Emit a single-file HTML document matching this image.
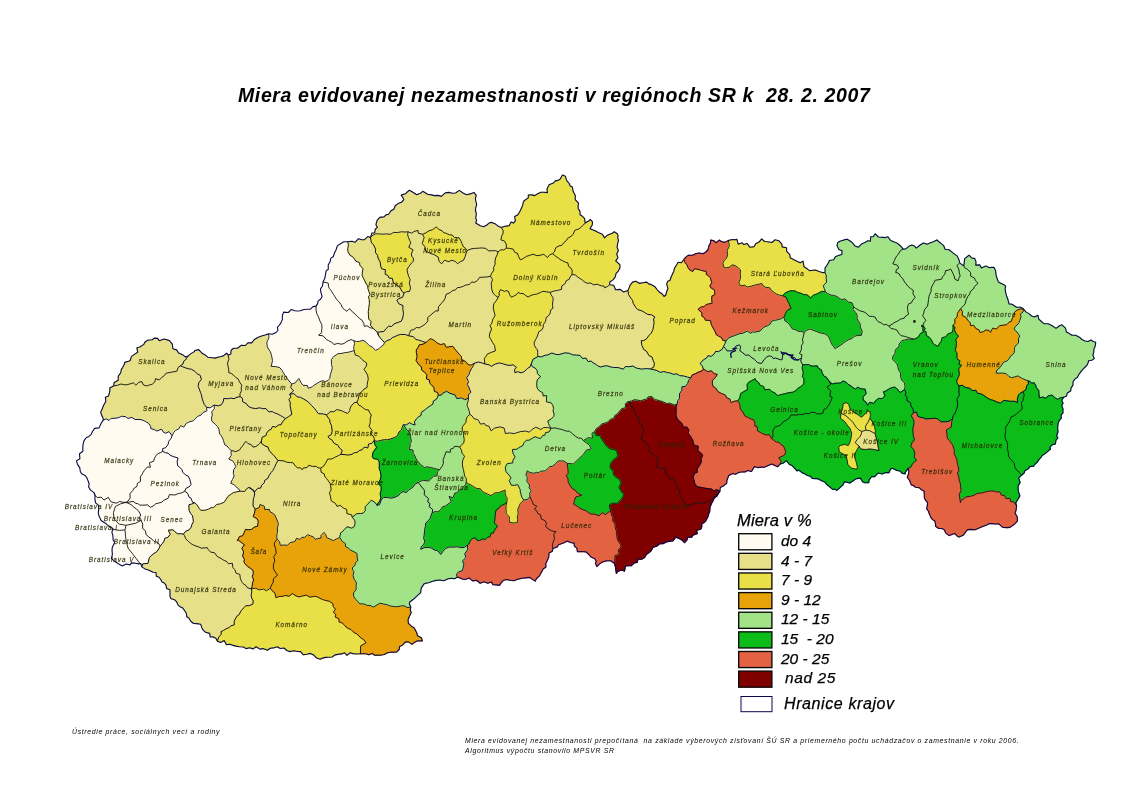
<!DOCTYPE html>
<html><head><meta charset="utf-8"><title>Miera evidovanej nezamestnanosti v regiónoch SR</title>
<style>
html,body{margin:0;padding:0;background:#fff}
body{width:1122px;height:794px;position:relative;overflow:hidden;font-family:"Liberation Sans",sans-serif}
.t{position:absolute;white-space:pre;font-style:italic;color:#000;line-height:1}
#title{left:238px;top:86px;font-size:19.5px;font-weight:bold;letter-spacing:0.62px}
.lg{font-size:15.5px;-webkit-text-stroke:0.25px #000}
.bx{position:absolute;left:738px;width:33px;height:15px;border:1px solid #333}
.f{font-size:6.9px;letter-spacing:0.66px;color:#000}
</style></head><body>
<svg width="1122" height="794" viewBox="0 0 1122 794" style="position:absolute;left:0;top:0">
<g stroke-linejoin="round" stroke-width="1.2" >
<path d="M113.6 385.9 L114.2 382.4 L118.2 380.3 L118.3 376.1 L120.6 373.0 L121.4 369.4 L122.6 367.5 L124.3 364.5 L124.7 362.4 L128.6 361.2 L130.2 360.5 L131.5 356.4 L134.4 354.4 L137.7 352.3 L136.9 347.8 L139.8 347.0 L143.8 344.4 L144.8 342.3 L147.6 340.2 L152.1 339.7 L154.4 338.1 L157.6 338.4 L159.3 340.7 L164.1 339.0 L168.1 340.1 L169.9 341.1 L172.3 344.1 L172.9 348.8 L176.6 349.9 L178.6 353.0 L182.8 354.8 L185.3 356.9 L187.7 356.4 L187.7 356.4 L185.5 360.0 L183.7 361.2 L183.0 364.0 L180.4 365.8 L180.4 365.8 L178.1 367.5 L176.9 371.2 L173.0 371.9 L170.3 372.4 L166.1 373.2 L164.6 375.4 L162.1 377.2 L159.4 379.9 L155.5 378.7 L155.0 381.6 L152.3 384.2 L149.5 385.0 L146.5 385.9 L143.3 384.9 L141.9 381.6 L138.8 382.3 L135.9 385.2 L133.4 382.8 L130.3 383.8 L127.1 384.7 L124.3 384.8 L121.2 384.0 L117.3 385.3 L113.6 385.9Z" fill="#e6e088" stroke="#e6e088"/>
<path d="M103.3 420.2 L103.0 417.9 L101.3 414.3 L100.7 412.3 L102.6 408.1 L103.4 405.7 L104.6 403.6 L105.8 401.5 L105.4 397.2 L108.5 396.1 L109.4 392.9 L110.0 389.9 L109.7 387.9 L113.6 385.9 L113.6 385.9 L117.3 385.3 L121.2 384.0 L124.3 384.8 L127.1 384.7 L130.3 383.8 L133.4 382.8 L135.9 385.2 L138.8 382.3 L141.9 381.6 L143.3 384.9 L146.5 385.9 L149.5 385.0 L152.3 384.2 L155.0 381.6 L155.5 378.7 L159.4 379.9 L162.1 377.2 L164.6 375.4 L166.1 373.2 L170.3 372.4 L173.0 371.9 L176.9 371.2 L178.1 367.5 L180.4 365.8 L180.4 365.8 L182.4 366.7 L185.3 367.8 L188.7 368.8 L191.6 369.3 L194.7 371.2 L197.2 373.8 L200.2 375.3 L201.4 379.6 L198.9 382.4 L198.1 386.6 L199.3 388.9 L200.4 392.3 L201.4 394.6 L202.2 398.8 L203.3 401.9 L204.3 404.5 L206.6 407.3 L206.6 407.3 L206.9 410.9 L203.1 412.4 L201.0 415.1 L197.5 416.4 L195.3 418.9 L193.2 420.8 L188.8 422.1 L186.1 423.4 L183.8 427.1 L180.5 425.7 L178.8 428.9 L175.4 430.5 L173.7 432.5 L172.1 435.8 L172.1 435.8 L169.1 431.6 L165.5 433.2 L163.4 432.2 L161.6 429.2 L156.8 431.0 L154.5 429.7 L150.8 428.5 L150.7 426.4 L148.5 423.2 L145.5 421.5 L142.5 420.0 L139.0 419.4 L135.1 419.5 L131.8 417.4 L127.9 418.4 L125.6 416.7 L121.7 416.2 L118.7 417.6 L114.9 418.3 L111.2 418.3 L109.0 420.5 L106.2 418.8 L103.3 420.2Z" fill="#e6e088" stroke="#e6e088"/>
<path d="M187.7 356.4 L190.5 353.9 L194.4 351.6 L194.8 350.5 L198.7 349.6 L200.3 351.4 L202.5 353.6 L205.1 354.9 L207.7 357.2 L212.3 357.7 L215.0 358.1 L218.8 357.0 L221.1 356.5 L223.4 355.9 L226.7 353.2 L228.2 355.2 L228.2 355.2 L228.9 359.3 L227.6 362.8 L227.8 365.6 L228.7 369.1 L228.8 372.7 L231.6 373.5 L234.2 375.9 L235.9 377.5 L238.3 379.1 L239.4 381.8 L241.9 385.4 L241.2 387.3 L241.4 390.8 L239.9 394.0 L240.1 396.7 L240.1 396.7 L237.0 397.2 L234.0 398.7 L230.5 398.1 L228.5 398.7 L223.7 398.5 L223.5 401.0 L221.5 404.7 L218.1 405.9 L214.1 405.0 L214.1 405.0 L210.1 407.9 L206.6 407.3 L206.6 407.3 L204.3 404.5 L203.3 401.9 L202.2 398.8 L201.4 394.6 L200.4 392.3 L199.3 388.9 L198.1 386.6 L198.9 382.4 L201.4 379.6 L200.2 375.3 L197.2 373.8 L194.7 371.2 L191.6 369.3 L188.7 368.8 L185.3 367.8 L182.4 366.7 L180.4 365.8 L180.4 365.8 L183.0 364.0 L183.7 361.2 L185.5 360.0 L187.7 356.4Z" fill="#e6e088" stroke="#e6e088"/>
<path d="M228.2 355.2 L230.8 354.0 L231.1 350.2 L233.5 348.3 L237.5 348.2 L241.1 345.4 L245.4 345.5 L247.9 342.8 L251.7 342.9 L254.3 339.5 L256.1 338.5 L257.7 337.6 L261.6 336.0 L265.1 335.0 L268.5 333.8 L268.5 333.8 L269.0 337.5 L267.7 340.4 L266.8 342.3 L267.3 346.8 L269.2 350.1 L270.4 351.7 L271.5 355.4 L272.5 360.6 L271.9 363.3 L271.1 366.4 L275.1 366.5 L279.8 367.6 L282.0 370.4 L283.1 372.3 L284.7 375.0 L287.3 378.6 L289.1 381.0 L291.7 384.1 L291.7 384.1 L290.7 387.6 L293.6 390.8 L289.7 394.2 L289.7 394.2 L290.9 397.2 L288.9 399.5 L290.3 402.7 L290.1 405.5 L290.6 408.1 L291.3 412.0 L292.0 414.2 L288.5 416.7 L285.4 418.6 L285.4 418.6 L282.5 416.6 L280.3 415.5 L278.1 414.2 L274.5 412.8 L272.2 411.6 L268.7 411.8 L265.9 408.5 L262.7 408.7 L259.7 407.8 L255.6 408.6 L251.1 407.8 L248.2 406.2 L246.3 403.5 L242.6 401.7 L242.5 398.3 L240.1 396.7 L240.1 396.7 L239.9 394.0 L241.4 390.8 L241.2 387.3 L241.9 385.4 L239.4 381.8 L238.3 379.1 L235.9 377.5 L234.2 375.9 L231.6 373.5 L228.8 372.7 L228.7 369.1 L227.8 365.6 L227.6 362.8 L228.9 359.3 L228.2 355.2Z" fill="#e6e088" stroke="#e6e088"/>
<path d="M214.1 405.0 L218.1 405.9 L221.5 404.7 L223.5 401.0 L223.7 398.5 L228.5 398.7 L230.5 398.1 L234.0 398.7 L237.0 397.2 L240.1 396.7 L240.1 396.7 L242.5 398.3 L242.6 401.7 L246.3 403.5 L248.2 406.2 L251.1 407.8 L255.6 408.6 L259.7 407.8 L262.7 408.7 L265.9 408.5 L268.7 411.8 L272.2 411.6 L274.5 412.8 L278.1 414.2 L280.3 415.5 L282.5 416.6 L285.4 418.6 L285.4 418.6 L282.3 422.2 L281.1 424.7 L278.5 424.9 L275.8 427.1 L272.5 426.5 L271.0 429.4 L269.1 430.1 L266.5 433.1 L266.2 435.4 L262.1 437.3 L261.5 440.8 L261.5 440.8 L259.6 443.5 L258.1 445.0 L255.9 446.5 L253.0 447.1 L251.4 444.7 L248.2 443.7 L245.9 441.3 L244.4 443.2 L243.1 445.2 L240.7 448.1 L239.7 449.9 L235.9 451.6 L234.2 451.2 L231.2 450.4 L231.2 450.4 L228.7 448.2 L227.3 446.2 L224.8 444.9 L223.4 440.4 L222.6 438.1 L220.9 435.3 L219.6 433.9 L219.0 429.4 L217.5 426.5 L215.2 424.2 L211.9 421.2 L211.4 418.2 L212.3 414.9 L211.8 411.8 L214.4 408.6 L214.1 405.0Z" fill="#e6e088" stroke="#e6e088"/>
<path d="M231.2 450.4 L234.2 451.2 L235.9 451.6 L239.7 449.9 L240.7 448.1 L243.1 445.2 L244.4 443.2 L245.9 441.3 L248.2 443.7 L251.4 444.7 L253.0 447.1 L255.9 446.5 L258.1 445.0 L259.6 443.5 L261.5 440.8 L261.5 440.8 L261.5 443.5 L264.9 445.9 L268.0 447.0 L269.0 450.2 L271.4 453.1 L274.2 455.9 L276.0 458.1 L277.9 460.4 L277.9 460.4 L276.3 463.4 L274.5 467.4 L272.8 470.6 L271.1 472.5 L269.2 475.3 L267.9 478.3 L264.5 480.6 L264.4 482.7 L261.7 485.1 L260.6 488.1 L257.7 488.3 L254.3 492.2 L251.6 488.5 L248.9 487.4 L248.9 487.4 L246.5 488.8 L244.7 491.5 L240.1 491.2 L240.1 491.2 L238.4 488.5 L236.5 487.4 L234.4 484.8 L230.7 483.3 L232.4 479.6 L234.2 476.0 L233.3 473.4 L233.7 469.6 L235.8 466.7 L234.4 463.4 L232.7 460.8 L228.7 459.0 L231.2 455.6 L231.1 453.0 L231.2 450.4Z" fill="#e6e088" stroke="#e6e088"/>
<path d="M172.1 435.8 L173.7 432.5 L175.4 430.5 L178.8 428.9 L180.5 425.7 L183.8 427.1 L186.1 423.4 L188.8 422.1 L193.2 420.8 L195.3 418.9 L197.5 416.4 L201.0 415.1 L203.1 412.4 L206.9 410.9 L206.6 407.3 L206.6 407.3 L210.1 407.9 L214.1 405.0 L214.1 405.0 L214.4 408.6 L211.8 411.8 L212.3 414.9 L211.4 418.2 L211.9 421.2 L215.2 424.2 L217.5 426.5 L219.0 429.4 L219.6 433.9 L220.9 435.3 L222.6 438.1 L223.4 440.4 L224.8 444.9 L227.3 446.2 L228.7 448.2 L231.2 450.4 L231.2 450.4 L231.1 453.0 L231.2 455.6 L228.7 459.0 L232.7 460.8 L234.4 463.4 L235.8 466.7 L233.7 469.6 L233.3 473.4 L234.2 476.0 L232.4 479.6 L230.7 483.3 L234.4 484.8 L236.5 487.4 L238.4 488.5 L240.1 491.2 L240.1 491.2 L236.8 491.8 L233.2 492.7 L230.9 494.3 L227.8 496.6 L225.7 499.9 L224.2 502.2 L220.4 503.8 L216.7 504.5 L213.6 507.5 L211.4 507.6 L208.4 509.2 L206.0 510.0 L204.2 510.3 L200.8 510.3 L199.0 508.1 L197.1 505.0 L194.7 502.7 L194.7 502.7 L192.6 502.3 L191.0 498.2 L189.0 497.1 L187.7 493.4 L184.7 491.2 L184.7 491.2 L185.9 488.4 L188.8 487.1 L191.1 484.6 L189.7 479.1 L188.3 476.2 L185.4 474.9 L182.7 472.2 L182.0 469.7 L179.7 467.2 L177.7 465.7 L177.1 461.4 L178.1 458.0 L173.1 456.5 L170.0 455.2 L168.0 453.1 L165.7 452.8 L162.7 451.4 L162.7 451.4 L162.6 448.6 L165.7 447.7 L168.2 444.2 L168.6 441.5 L171.0 438.4 L172.1 435.8Z" fill="#fffbf0" stroke="#fffbf0"/>
<path d="M103.3 420.2 L106.2 418.8 L109.0 420.5 L111.2 418.3 L114.9 418.3 L118.7 417.6 L121.7 416.2 L125.6 416.7 L127.9 418.4 L131.8 417.4 L135.1 419.5 L139.0 419.4 L142.5 420.0 L145.5 421.5 L148.5 423.2 L150.7 426.4 L150.8 428.5 L154.5 429.7 L156.8 431.0 L161.6 429.2 L163.4 432.2 L165.5 433.2 L169.1 431.6 L172.1 435.8 L172.1 435.8 L171.0 438.4 L168.6 441.5 L168.2 444.2 L165.7 447.7 L162.6 448.6 L162.7 451.4 L162.7 451.4 L160.3 452.7 L157.5 453.9 L155.6 456.2 L154.4 458.5 L153.7 461.2 L149.4 462.8 L150.4 467.3 L147.4 466.9 L144.5 470.2 L143.1 472.4 L141.9 474.6 L140.3 476.9 L140.6 481.4 L137.3 483.4 L137.0 486.4 L134.3 488.0 L132.6 490.7 L130.0 493.6 L130.1 498.1 L128.2 500.9 L126.0 502.4 L126.0 502.4 L122.9 502.3 L119.7 501.4 L117.4 502.8 L115.0 503.0 L110.8 501.6 L108.3 497.3 L104.0 500.1 L101.0 497.0 L97.7 497.7 L94.9 495.5 L94.0 492.6 L94.0 492.6 L90.5 490.1 L88.5 486.8 L89.2 484.3 L88.3 481.5 L86.9 477.9 L85.2 475.5 L81.6 473.8 L80.3 471.5 L79.8 467.9 L77.6 464.4 L76.4 460.9 L79.9 458.7 L79.5 453.7 L82.9 451.3 L82.8 448.1 L83.0 444.6 L84.0 440.7 L86.4 437.5 L88.6 436.7 L91.2 434.3 L92.5 431.5 L94.6 428.4 L99.1 427.9 L100.1 425.4 L101.6 422.5 L103.3 420.2Z" fill="#fffbf0" stroke="#fffbf0"/>
<path d="M162.7 451.4 L160.3 452.7 L157.5 453.9 L155.6 456.2 L154.4 458.5 L153.7 461.2 L149.4 462.8 L150.4 467.3 L147.4 466.9 L144.5 470.2 L143.1 472.4 L141.9 474.6 L140.3 476.9 L140.6 481.4 L137.3 483.4 L137.0 486.4 L134.3 488.0 L132.6 490.7 L130.0 493.6 L130.1 498.1 L128.2 500.9 L126.0 502.4 L126.0 502.4 L129.8 502.0 L133.0 501.3 L136.0 503.5 L138.2 503.7 L139.6 505.1 L142.7 505.2 L147.5 504.9 L150.4 507.3 L153.6 505.9 L155.7 503.7 L158.5 503.1 L161.8 502.2 L163.6 500.4 L168.2 498.2 L169.4 494.6 L174.7 495.0 L178.3 493.6 L181.6 492.9 L184.7 491.2 L184.7 491.2 L185.9 488.4 L188.8 487.1 L191.1 484.6 L189.7 479.1 L188.3 476.2 L185.4 474.9 L182.7 472.2 L182.0 469.7 L179.7 467.2 L177.7 465.7 L177.1 461.4 L178.1 458.0 L173.1 456.5 L170.0 455.2 L168.0 453.1 L165.7 452.8 L162.7 451.4Z" fill="#fffbf0" stroke="#fffbf0"/>
<path d="M126.0 502.4 L129.8 502.0 L133.0 501.3 L136.0 503.5 L138.2 503.7 L139.6 505.1 L142.7 505.2 L147.5 504.9 L150.4 507.3 L153.6 505.9 L155.7 503.7 L158.5 503.1 L161.8 502.2 L163.6 500.4 L168.2 498.2 L169.4 494.6 L174.7 495.0 L178.3 493.6 L181.6 492.9 L184.7 491.2 L184.7 491.2 L187.7 493.4 L189.0 497.1 L191.0 498.2 L192.6 502.3 L194.7 502.7 L194.7 502.7 L191.8 504.0 L189.0 504.7 L188.9 507.2 L189.2 510.5 L190.6 513.5 L192.3 515.3 L193.0 518.4 L193.4 521.7 L192.0 524.2 L191.2 527.2 L189.0 529.9 L185.6 531.3 L183.4 534.1 L183.4 534.1 L180.2 533.7 L177.5 533.8 L174.7 531.5 L172.9 529.8 L168.3 530.2 L170.3 534.3 L167.9 537.3 L164.8 538.3 L164.0 541.1 L162.3 543.6 L160.2 546.0 L160.2 546.0 L158.1 542.7 L154.0 541.3 L151.9 539.1 L149.0 537.2 L146.1 534.6 L145.4 530.7 L142.6 528.5 L142.7 524.0 L140.8 519.5 L139.5 517.2 L140.8 515.1 L138.6 511.1 L136.6 509.0 L134.1 507.4 L131.4 504.8 L129.3 503.7 L126.0 502.4Z" fill="#fffbf0" stroke="#fffbf0"/>
<path d="M94.0 492.6 L94.9 495.5 L97.7 497.7 L101.0 497.0 L104.0 500.1 L108.3 497.3 L110.8 501.6 L115.0 503.0 L117.4 502.8 L119.7 501.4 L122.9 502.3 L126.0 502.4 L126.0 502.4 L129.3 503.7 L131.4 504.8 L134.1 507.4 L136.6 509.0 L138.6 511.1 L140.8 515.1 L139.5 517.2 L140.8 519.5 L142.7 524.0 L142.6 528.5 L145.4 530.7 L146.1 534.6 L149.0 537.2 L151.9 539.1 L154.0 541.3 L158.1 542.7 L160.2 546.0 L160.2 546.0 L158.8 548.9 L156.3 552.2 L154.2 553.3 L151.2 555.7 L149.3 557.7 L148.5 561.0 L148.0 563.4 L142.8 563.8 L141.8 566.9 L141.8 566.9 L140.8 563.5 L138.5 563.9 L135.8 563.2 L131.4 562.9 L130.0 564.9 L126.1 564.0 L122.3 566.0 L119.6 564.6 L116.1 562.2 L113.2 560.1 L111.4 558.5 L112.4 554.3 L112.0 550.1 L112.4 546.9 L114.7 542.4 L113.1 540.0 L112.9 535.6 L111.9 532.4 L112.9 528.5 L109.9 526.7 L107.3 524.9 L105.4 523.2 L102.2 521.2 L101.0 520.3 L99.2 516.5 L98.3 513.3 L98.8 508.3 L98.2 504.9 L95.6 502.9 L94.9 498.9 L95.1 495.2 L94.0 492.6Z" fill="#fffbf0" stroke="#fffbf0"/>
<path d="M141.8 566.9 L142.8 563.8 L148.0 563.4 L148.5 561.0 L149.3 557.7 L151.2 555.7 L154.2 553.3 L156.3 552.2 L158.8 548.9 L160.2 546.0 L160.2 546.0 L162.3 543.6 L164.0 541.1 L164.8 538.3 L167.9 537.3 L170.3 534.3 L168.3 530.2 L172.9 529.8 L174.7 531.5 L177.5 533.8 L180.2 533.7 L183.4 534.1 L183.4 534.1 L184.5 535.6 L185.7 538.7 L188.4 541.4 L190.6 543.4 L192.8 544.7 L196.1 546.1 L198.5 546.8 L201.2 548.2 L204.0 547.9 L207.3 547.7 L208.2 549.5 L210.7 552.2 L214.4 552.6 L217.1 556.4 L219.0 557.4 L222.2 559.2 L224.1 560.5 L226.0 561.0 L228.5 563.7 L232.4 563.3 L232.9 567.7 L234.8 569.6 L236.0 573.1 L239.8 574.4 L240.3 578.3 L241.6 581.6 L243.1 583.7 L246.0 585.5 L247.4 587.8 L251.4 588.8 L251.4 588.8 L251.8 591.5 L251.1 595.5 L251.9 598.6 L253.3 601.0 L252.8 604.1 L249.2 605.7 L245.8 605.7 L243.8 607.8 L241.1 610.8 L238.9 614.9 L237.2 615.8 L235.8 618.0 L234.2 621.3 L234.3 624.9 L230.9 625.8 L229.3 627.5 L226.1 628.8 L223.7 630.3 L220.9 631.7 L221.4 634.3 L218.8 636.8 L217.4 641.2 L217.4 641.2 L216.1 638.6 L212.8 636.8 L210.2 637.0 L209.7 633.4 L205.6 632.3 L203.0 629.9 L201.9 627.9 L200.7 624.2 L196.9 623.6 L193.7 623.5 L191.0 621.5 L188.8 618.0 L186.8 616.8 L186.3 613.2 L184.7 610.7 L182.8 608.1 L180.2 606.8 L178.0 604.8 L176.8 602.2 L175.0 600.0 L170.8 598.6 L170.0 596.1 L170.0 592.6 L169.9 589.8 L166.6 588.4 L165.9 584.9 L164.2 583.0 L162.1 582.0 L160.9 579.7 L159.1 577.2 L156.3 576.3 L156.0 572.5 L153.1 572.3 L150.6 571.1 L147.7 569.8 L145.0 568.9 L141.8 566.9Z" fill="#e6e088" stroke="#e6e088"/>
<path d="M194.7 502.7 L197.1 505.0 L199.0 508.1 L200.8 510.3 L204.2 510.3 L206.0 510.0 L208.4 509.2 L211.4 507.6 L213.6 507.5 L216.7 504.5 L220.4 503.8 L224.2 502.2 L225.7 499.9 L227.8 496.6 L230.9 494.3 L233.2 492.7 L236.8 491.8 L240.1 491.2 L240.1 491.2 L244.7 491.5 L246.5 488.8 L248.9 487.4 L248.9 487.4 L251.5 489.3 L253.5 490.0 L254.7 492.9 L254.2 496.7 L253.4 498.6 L253.1 503.1 L253.1 506.0 L255.2 509.0 L255.2 509.0 L254.5 513.1 L253.2 516.5 L256.9 518.6 L258.4 521.2 L257.8 524.0 L257.8 526.1 L254.2 527.2 L251.5 529.4 L248.2 529.8 L245.5 529.4 L244.1 532.9 L242.6 535.8 L239.6 536.5 L237.3 540.7 L238.2 540.0 L242.5 543.4 L244.6 544.7 L241.9 548.3 L243.7 551.9 L242.6 556.1 L244.5 559.3 L243.9 561.5 L245.1 563.8 L247.8 566.6 L250.7 568.5 L253.0 570.3 L253.4 573.3 L252.3 576.4 L253.7 580.1 L252.5 582.8 L252.4 585.3 L251.4 588.8 L251.4 588.8 L247.4 587.8 L246.0 585.5 L243.1 583.7 L241.6 581.6 L240.3 578.3 L239.8 574.4 L236.0 573.1 L234.8 569.6 L232.9 567.7 L232.4 563.3 L228.5 563.7 L226.0 561.0 L224.1 560.5 L222.2 559.2 L219.0 557.4 L217.1 556.4 L214.4 552.6 L210.7 552.2 L208.2 549.5 L207.3 547.7 L204.0 547.9 L201.2 548.2 L198.5 546.8 L196.1 546.1 L192.8 544.7 L190.6 543.4 L188.4 541.4 L185.7 538.7 L184.5 535.6 L183.4 534.1 L183.4 534.1 L185.6 531.3 L189.0 529.9 L191.2 527.2 L192.0 524.2 L193.4 521.7 L193.0 518.4 L192.3 515.3 L190.6 513.5 L189.2 510.5 L188.9 507.2 L189.0 504.7 L191.8 504.0 L194.7 502.7Z" fill="#e6e088" stroke="#e6e088"/>
<path d="M251.4 588.8 L252.4 585.3 L252.5 582.8 L253.7 580.1 L252.3 576.4 L253.4 573.3 L253.0 570.3 L250.7 568.5 L247.8 566.6 L245.1 563.8 L243.9 561.5 L244.5 559.3 L242.6 556.1 L243.7 551.9 L241.9 548.3 L244.6 544.7 L242.5 543.4 L238.2 540.0 L237.3 540.7 L239.6 536.5 L242.6 535.8 L244.1 532.9 L245.5 529.4 L248.2 529.8 L251.5 529.4 L254.2 527.2 L257.8 526.1 L257.8 524.0 L258.4 521.2 L256.9 518.6 L253.2 516.5 L254.5 513.1 L255.2 509.0 L255.2 509.0 L259.1 507.8 L260.0 504.5 L264.3 506.2 L264.7 509.5 L269.3 509.4 L269.9 511.6 L272.1 512.9 L274.7 514.8 L276.2 518.1 L277.9 522.3 L278.4 524.5 L277.2 528.0 L277.6 530.0 L277.1 533.5 L276.7 536.4 L277.1 539.2 L277.1 539.2 L274.4 542.8 L274.3 544.9 L275.7 548.9 L276.2 553.4 L273.8 556.6 L274.8 561.1 L273.6 563.6 L273.3 568.4 L275.2 571.9 L277.6 575.1 L273.5 578.6 L273.2 582.2 L271.5 585.1 L270.3 588.3 L270.3 588.3 L266.3 590.8 L263.6 589.1 L259.1 589.9 L255.5 588.2 L251.4 588.8Z" fill="#e8a30a" stroke="#e8a30a"/>
<path d="M217.4 641.2 L218.8 636.8 L221.4 634.3 L220.9 631.7 L223.7 630.3 L226.1 628.8 L229.3 627.5 L230.9 625.8 L234.3 624.9 L234.2 621.3 L235.8 618.0 L237.2 615.8 L238.9 614.9 L241.1 610.8 L243.8 607.8 L245.8 605.7 L249.2 605.7 L252.8 604.1 L253.3 601.0 L251.9 598.6 L251.1 595.5 L251.8 591.5 L251.4 588.8 L251.4 588.8 L255.5 588.2 L259.1 589.9 L263.6 589.1 L266.3 590.8 L270.3 588.3 L270.3 588.3 L271.9 590.5 L274.9 593.0 L276.0 597.8 L279.1 596.5 L282.7 596.3 L285.7 595.4 L289.0 596.3 L292.4 593.5 L296.0 595.9 L299.0 596.9 L302.6 596.0 L306.3 595.1 L309.7 597.1 L313.5 596.5 L316.2 596.4 L319.4 598.0 L322.5 599.5 L324.8 600.2 L329.5 601.3 L332.7 603.5 L333.4 606.7 L335.5 609.4 L333.4 611.9 L335.8 614.6 L335.3 617.1 L338.9 618.8 L339.1 621.9 L342.3 623.0 L344.0 624.6 L345.9 626.9 L347.7 628.1 L351.0 629.6 L352.6 631.2 L355.0 633.2 L356.9 633.8 L360.2 637.3 L362.6 639.0 L364.7 640.6 L366.0 642.8 L360.5 646.1 L360.6 650.0 L360.4 653.8 L360.4 653.8 L357.2 654.0 L352.8 653.6 L350.2 652.8 L347.0 655.4 L344.4 652.7 L341.8 653.9 L337.7 654.4 L334.5 655.1 L332.3 657.0 L328.2 657.3 L325.5 657.4 L322.6 658.1 L320.3 659.3 L316.6 658.1 L314.0 655.3 L310.6 653.4 L306.8 654.3 L303.3 654.8 L300.6 651.6 L297.3 651.5 L294.2 650.8 L289.4 651.6 L286.9 650.5 L284.0 648.0 L280.3 648.5 L277.2 646.7 L273.6 647.9 L270.1 648.3 L267.4 650.3 L263.1 648.6 L259.9 649.1 L256.2 646.7 L253.1 648.9 L249.5 647.8 L246.0 648.6 L243.5 647.0 L239.4 646.7 L236.2 646.1 L233.1 645.4 L230.1 644.3 L226.3 644.6 L224.2 640.5 L220.5 642.4 L217.4 641.2Z" fill="#e8e046" stroke="#e8e046"/>
<path d="M270.3 588.3 L271.5 585.1 L273.2 582.2 L273.5 578.6 L277.6 575.1 L275.2 571.9 L273.3 568.4 L273.6 563.6 L274.8 561.1 L273.8 556.6 L276.2 553.4 L275.7 548.9 L274.3 544.9 L274.4 542.8 L277.1 539.2 L277.1 539.2 L279.5 541.6 L280.3 545.4 L283.8 545.0 L287.5 545.3 L290.1 542.6 L294.9 541.6 L296.5 538.3 L299.8 539.4 L302.1 537.4 L304.6 537.4 L307.6 534.7 L311.0 536.1 L313.4 536.9 L315.3 539.4 L317.9 538.6 L321.2 538.0 L320.9 535.5 L324.0 532.4 L325.8 534.8 L326.7 537.7 L329.8 539.0 L333.3 540.6 L336.6 538.9 L339.7 537.4 L339.7 537.4 L342.4 541.5 L345.5 543.7 L345.4 546.4 L348.2 548.0 L350.9 550.3 L354.0 551.8 L357.0 553.5 L357.1 557.1 L357.7 560.8 L355.6 562.6 L354.7 565.7 L352.5 567.3 L352.5 569.7 L354.0 571.6 L353.0 575.5 L354.2 579.3 L356.4 582.7 L356.1 585.7 L356.0 589.8 L353.5 592.9 L353.7 596.5 L355.9 599.6 L357.8 601.5 L359.7 603.8 L364.5 604.0 L366.8 605.3 L370.1 605.5 L373.5 607.1 L377.0 604.9 L379.8 603.3 L383.7 604.0 L387.5 604.9 L390.9 606.2 L393.6 606.5 L396.9 606.8 L400.6 606.0 L403.9 605.7 L407.1 607.5 L410.8 607.2 L410.8 607.2 L410.2 609.8 L411.2 612.7 L409.5 616.0 L408.0 619.7 L408.4 623.4 L411.4 626.2 L414.0 627.7 L415.3 630.0 L416.8 633.0 L417.6 635.8 L421.3 637.8 L422.4 640.9 L417.7 640.8 L414.6 642.2 L412.1 644.4 L408.3 641.9 L405.8 641.7 L402.5 645.2 L399.6 646.4 L399.2 649.5 L396.4 652.2 L391.8 652.0 L387.6 652.8 L384.3 654.5 L380.3 655.2 L378.0 655.1 L374.6 655.3 L372.2 653.4 L368.7 654.8 L365.8 653.7 L363.2 653.8 L360.4 653.8 L360.4 653.8 L360.6 650.0 L360.5 646.1 L366.0 642.8 L364.7 640.6 L362.6 639.0 L360.2 637.3 L356.9 633.8 L355.0 633.2 L352.6 631.2 L351.0 629.6 L347.7 628.1 L345.9 626.9 L344.0 624.6 L342.3 623.0 L339.1 621.9 L338.9 618.8 L335.3 617.1 L335.8 614.6 L333.4 611.9 L335.5 609.4 L333.4 606.7 L332.7 603.5 L329.5 601.3 L324.8 600.2 L322.5 599.5 L319.4 598.0 L316.2 596.4 L313.5 596.5 L309.7 597.1 L306.3 595.1 L302.6 596.0 L299.0 596.9 L296.0 595.9 L292.4 593.5 L289.0 596.3 L285.7 595.4 L282.7 596.3 L279.1 596.5 L276.0 597.8 L274.9 593.0 L271.9 590.5 L270.3 588.3Z" fill="#e8a30a" stroke="#e8a30a"/>
<path d="M248.9 487.4 L251.6 488.5 L254.3 492.2 L257.7 488.3 L260.6 488.1 L261.7 485.1 L264.4 482.7 L264.5 480.6 L267.9 478.3 L269.2 475.3 L271.1 472.5 L272.8 470.6 L274.5 467.4 L276.3 463.4 L277.9 460.4 L277.9 460.4 L282.0 460.8 L283.9 460.8 L286.2 462.1 L290.5 462.6 L293.0 462.7 L295.5 466.2 L297.4 467.8 L300.2 467.8 L302.4 469.7 L303.4 467.9 L307.0 467.6 L308.6 465.3 L312.4 466.4 L316.4 466.4 L318.0 467.9 L320.7 468.1 L320.7 468.1 L321.1 472.2 L324.3 473.9 L324.6 476.1 L326.4 478.4 L328.2 480.6 L330.1 483.4 L330.5 485.3 L331.2 489.9 L329.5 492.6 L330.5 496.9 L331.3 500.9 L335.3 503.3 L337.0 506.4 L340.2 505.3 L343.5 508.1 L346.7 509.4 L346.9 513.6 L351.6 514.8 L352.2 517.2 L352.2 517.2 L354.7 520.2 L355.1 523.8 L354.1 526.6 L351.8 528.2 L347.0 526.7 L344.3 529.6 L342.5 531.6 L340.7 532.7 L339.7 537.4 L339.7 537.4 L336.6 538.9 L333.3 540.6 L329.8 539.0 L326.7 537.7 L325.8 534.8 L324.0 532.4 L320.9 535.5 L321.2 538.0 L317.9 538.6 L315.3 539.4 L313.4 536.9 L311.0 536.1 L307.6 534.7 L304.6 537.4 L302.1 537.4 L299.8 539.4 L296.5 538.3 L294.9 541.6 L290.1 542.6 L287.5 545.3 L283.8 545.0 L280.3 545.4 L279.5 541.6 L277.1 539.2 L277.1 539.2 L276.7 536.4 L277.1 533.5 L277.6 530.0 L277.2 528.0 L278.4 524.5 L277.9 522.3 L276.2 518.1 L274.7 514.8 L272.1 512.9 L269.9 511.6 L269.3 509.4 L264.7 509.5 L264.3 506.2 L260.0 504.5 L259.1 507.8 L255.2 509.0 L255.2 509.0 L253.1 506.0 L253.1 503.1 L253.4 498.6 L254.2 496.7 L254.7 492.9 L253.5 490.0 L251.5 489.3 L248.9 487.4Z" fill="#e6e088" stroke="#e6e088"/>
<path d="M285.4 418.6 L288.5 416.7 L292.0 414.2 L291.3 412.0 L290.6 408.1 L290.1 405.5 L290.3 402.7 L288.9 399.5 L290.9 397.2 L289.7 394.2 L289.7 394.2 L294.0 393.6 L297.1 396.8 L300.4 397.3 L303.6 399.0 L307.2 401.2 L309.6 403.3 L311.5 405.4 L314.9 408.8 L316.5 411.2 L318.4 413.7 L323.2 413.9 L326.3 414.8 L326.3 414.8 L327.6 417.0 L329.8 419.8 L330.0 422.5 L331.5 425.5 L332.2 431.2 L331.3 434.6 L328.0 436.5 L329.4 438.5 L332.3 440.3 L333.6 442.9 L336.1 444.4 L337.5 444.8 L339.7 448.3 L342.3 450.4 L340.9 454.3 L340.9 454.3 L338.2 455.7 L334.7 457.4 L331.5 459.0 L327.7 459.1 L325.5 463.3 L323.6 466.2 L320.7 468.1 L320.7 468.1 L318.0 467.9 L316.4 466.4 L312.4 466.4 L308.6 465.3 L307.0 467.6 L303.4 467.9 L302.4 469.7 L300.2 467.8 L297.4 467.8 L295.5 466.2 L293.0 462.7 L290.5 462.6 L286.2 462.1 L283.9 460.8 L282.0 460.8 L277.9 460.4 L277.9 460.4 L276.0 458.1 L274.2 455.9 L271.4 453.1 L269.0 450.2 L268.0 447.0 L264.9 445.9 L261.5 443.5 L261.5 440.8 L261.5 440.8 L262.1 437.3 L266.2 435.4 L266.5 433.1 L269.1 430.1 L271.0 429.4 L272.5 426.5 L275.8 427.1 L278.5 424.9 L281.1 424.7 L282.3 422.2 L285.4 418.6Z" fill="#e8e046" stroke="#e8e046"/>
<path d="M340.9 454.3 L342.3 450.4 L339.7 448.3 L337.5 444.8 L336.1 444.4 L333.6 442.9 L332.3 440.3 L329.4 438.5 L328.0 436.5 L331.3 434.6 L332.2 431.2 L331.5 425.5 L330.0 422.5 L329.8 419.8 L327.6 417.0 L326.3 414.8 L326.3 414.8 L328.8 413.4 L330.1 411.6 L333.9 411.8 L336.9 409.5 L342.4 411.0 L343.0 411.5 L347.5 413.5 L349.8 410.8 L349.8 409.2 L351.1 406.1 L354.0 402.9 L357.0 402.0 L357.0 402.0 L358.7 405.1 L361.0 406.1 L362.3 407.3 L365.6 409.7 L368.6 410.0 L369.3 412.0 L371.3 414.9 L370.2 418.7 L370.3 421.5 L370.0 423.4 L369.1 426.5 L372.2 430.5 L370.4 433.6 L373.2 436.0 L374.4 438.9 L374.1 440.7 L374.1 440.7 L371.9 443.4 L368.6 444.0 L367.8 448.0 L364.3 447.1 L362.0 449.9 L359.8 450.3 L356.9 452.5 L354.5 452.7 L351.9 454.3 L348.2 455.1 L345.4 454.7 L340.9 454.3Z" fill="#e8e046" stroke="#e8e046"/>
<path d="M320.7 468.1 L323.6 466.2 L325.5 463.3 L327.7 459.1 L331.5 459.0 L334.7 457.4 L338.2 455.7 L340.9 454.3 L340.9 454.3 L345.4 454.7 L348.2 455.1 L351.9 454.3 L354.5 452.7 L356.9 452.5 L359.8 450.3 L362.0 449.9 L364.3 447.1 L367.8 448.0 L368.6 444.0 L371.9 443.4 L374.1 440.7 L374.1 440.7 L374.6 443.1 L375.3 445.4 L376.8 447.4 L374.8 449.9 L373.0 452.5 L372.3 456.6 L373.7 458.6 L377.3 459.1 L379.2 461.3 L379.4 465.1 L379.2 468.4 L380.3 471.4 L381.1 475.7 L380.6 479.0 L378.2 483.5 L381.3 486.8 L381.1 490.8 L380.2 493.6 L380.9 497.9 L379.7 501.4 L378.3 502.6 L377.1 505.5 L377.1 505.5 L375.0 502.4 L371.3 500.2 L367.7 504.2 L365.2 506.7 L365.3 510.7 L363.1 513.2 L360.7 513.5 L356.8 513.6 L355.6 514.5 L352.2 517.2 L352.2 517.2 L351.6 514.8 L346.9 513.6 L346.7 509.4 L343.5 508.1 L340.2 505.3 L337.0 506.4 L335.3 503.3 L331.3 500.9 L330.5 496.9 L329.5 492.6 L331.2 489.9 L330.5 485.3 L330.1 483.4 L328.2 480.6 L326.4 478.4 L324.6 476.1 L324.3 473.9 L321.1 472.2 L320.7 468.1Z" fill="#e8e046" stroke="#e8e046"/>
<path d="M374.1 440.7 L377.3 441.3 L380.7 440.4 L384.3 439.7 L387.5 439.8 L391.0 438.8 L394.9 437.4 L397.6 435.6 L398.8 432.1 L401.5 430.0 L402.1 427.3 L403.4 424.7 L403.4 424.7 L405.5 427.9 L407.6 430.9 L409.9 432.6 L410.5 436.8 L411.4 441.7 L409.9 443.8 L410.3 445.9 L409.0 449.4 L412.9 450.0 L413.2 453.6 L414.4 455.0 L416.0 458.6 L417.4 460.8 L419.3 463.0 L420.8 464.8 L424.5 467.5 L426.8 466.8 L430.8 467.6 L434.6 468.5 L436.7 469.0 L439.5 469.8 L439.5 469.8 L437.3 471.8 L437.1 475.9 L433.6 476.1 L430.3 479.6 L428.4 481.0 L423.4 480.3 L421.3 480.9 L418.1 482.4 L418.1 482.4 L414.6 484.6 L412.8 487.3 L410.2 489.0 L408.5 490.3 L406.3 492.6 L403.0 491.5 L400.5 493.2 L398.7 495.4 L394.2 497.5 L390.6 498.2 L387.2 497.3 L383.5 497.6 L381.3 499.8 L379.6 504.5 L377.1 505.5 L377.1 505.5 L378.3 502.6 L379.7 501.4 L380.9 497.9 L380.2 493.6 L381.1 490.8 L381.3 486.8 L378.2 483.5 L380.6 479.0 L381.1 475.7 L380.3 471.4 L379.2 468.4 L379.4 465.1 L379.2 461.3 L377.3 459.1 L373.7 458.6 L372.3 456.6 L373.0 452.5 L374.8 449.9 L376.8 447.4 L375.3 445.4 L374.6 443.1 L374.1 440.7Z" fill="#0cbc18" stroke="#0cbc18"/>
<path d="M357.0 402.0 L358.1 399.7 L358.7 396.7 L359.2 393.7 L362.0 391.6 L364.0 389.0 L367.1 387.5 L367.1 384.8 L367.9 380.6 L368.3 379.2 L367.6 375.1 L366.4 373.0 L364.0 369.3 L366.4 366.1 L366.8 363.2 L364.1 361.2 L361.7 359.2 L358.8 356.1 L355.3 355.1 L354.2 350.6 L354.2 350.6 L353.6 347.4 L354.6 343.4 L353.8 340.6 L353.8 340.6 L356.6 341.6 L359.8 341.3 L363.0 340.2 L366.0 342.2 L369.4 345.7 L372.1 346.8 L375.5 350.4 L378.8 348.8 L380.7 346.9 L383.7 344.9 L384.4 342.5 L384.4 342.5 L387.1 340.6 L390.4 339.4 L392.7 337.4 L395.4 336.4 L398.2 335.1 L400.8 334.4 L405.6 334.6 L409.0 335.9 L409.0 335.9 L413.3 336.6 L415.7 339.4 L418.6 340.1 L422.8 341.5 L426.0 342.5 L426.0 342.5 L423.1 344.1 L419.3 344.9 L418.0 347.6 L416.3 350.0 L416.4 352.8 L417.1 356.4 L416.1 360.6 L418.4 364.0 L421.4 367.0 L421.7 370.1 L424.8 372.4 L426.9 374.8 L426.5 379.0 L429.4 379.9 L429.7 383.1 L431.5 384.8 L433.9 387.6 L434.4 391.3 L437.6 392.5 L438.3 395.4 L438.3 395.4 L436.5 399.2 L433.3 401.1 L432.9 404.1 L430.6 405.6 L428.0 407.4 L426.5 408.5 L424.2 410.4 L421.3 412.3 L421.0 415.4 L418.5 416.9 L416.4 418.9 L414.4 421.8 L415.1 425.0 L412.4 424.3 L409.4 422.7 L406.4 424.9 L403.4 424.7 L403.4 424.7 L402.1 427.3 L401.5 430.0 L398.8 432.1 L397.6 435.6 L394.9 437.4 L391.0 438.8 L387.5 439.8 L384.3 439.7 L380.7 440.4 L377.3 441.3 L374.1 440.7 L374.1 440.7 L374.4 438.9 L373.2 436.0 L370.4 433.6 L372.2 430.5 L369.1 426.5 L370.0 423.4 L370.3 421.5 L370.2 418.7 L371.3 414.9 L369.3 412.0 L368.6 410.0 L365.6 409.7 L362.3 407.3 L361.0 406.1 L358.7 405.1 L357.0 402.0Z" fill="#e8e046" stroke="#e8e046"/>
<path d="M289.7 394.2 L293.6 390.8 L290.7 387.6 L291.7 384.1 L291.7 384.1 L295.3 382.8 L298.8 378.5 L301.3 383.1 L303.0 385.3 L307.3 385.5 L308.3 388.3 L312.3 386.8 L314.1 385.2 L316.0 384.1 L319.4 381.9 L321.1 381.2 L323.2 380.8 L325.2 381.5 L327.7 380.7 L329.7 378.6 L330.4 374.6 L331.3 371.8 L332.3 367.9 L331.5 364.5 L331.3 359.7 L333.6 356.6 L336.0 355.1 L337.9 353.7 L340.9 353.5 L345.3 352.6 L348.6 352.2 L351.9 351.2 L354.2 350.6 L354.2 350.6 L355.3 355.1 L358.8 356.1 L361.7 359.2 L364.1 361.2 L366.8 363.2 L366.4 366.1 L364.0 369.3 L366.4 373.0 L367.6 375.1 L368.3 379.2 L367.9 380.6 L367.1 384.8 L367.1 387.5 L364.0 389.0 L362.0 391.6 L359.2 393.7 L358.7 396.7 L358.1 399.7 L357.0 402.0 L357.0 402.0 L354.0 402.9 L351.1 406.1 L349.8 409.2 L349.8 410.8 L347.5 413.5 L343.0 411.5 L342.4 411.0 L336.9 409.5 L333.9 411.8 L330.1 411.6 L328.8 413.4 L326.3 414.8 L326.3 414.8 L323.2 413.9 L318.4 413.7 L316.5 411.2 L314.9 408.8 L311.5 405.4 L309.6 403.3 L307.2 401.2 L303.6 399.0 L300.4 397.3 L297.1 396.8 L294.0 393.6 L289.7 394.2Z" fill="#e6e088" stroke="#e6e088"/>
<path d="M268.5 333.8 L272.2 334.3 L276.1 332.5 L277.9 330.5 L277.4 327.4 L279.0 325.5 L280.8 323.1 L282.4 319.4 L282.3 315.7 L283.6 312.1 L288.3 312.5 L291.2 309.6 L294.9 310.8 L297.4 311.0 L300.4 310.7 L303.9 309.5 L307.4 309.3 L310.1 309.3 L313.0 306.6 L316.0 306.1 L316.0 306.1 L316.1 310.3 L316.7 313.5 L318.3 316.5 L319.2 319.0 L320.2 321.5 L321.7 324.5 L322.0 328.4 L321.5 330.2 L321.8 332.5 L318.6 335.2 L323.2 335.9 L326.3 339.4 L328.5 340.6 L331.4 342.1 L334.1 344.5 L337.7 343.4 L341.2 344.2 L344.2 343.5 L347.0 341.3 L351.1 339.6 L353.8 340.6 L353.8 340.6 L354.6 343.4 L353.6 347.4 L354.2 350.6 L354.2 350.6 L351.9 351.2 L348.6 352.2 L345.3 352.6 L340.9 353.5 L337.9 353.7 L336.0 355.1 L333.6 356.6 L331.3 359.7 L331.5 364.5 L332.3 367.9 L331.3 371.8 L330.4 374.6 L329.7 378.6 L327.7 380.7 L325.2 381.5 L323.2 380.8 L321.1 381.2 L319.4 381.9 L316.0 384.1 L314.1 385.2 L312.3 386.8 L308.3 388.3 L307.3 385.5 L303.0 385.3 L301.3 383.1 L298.8 378.5 L295.3 382.8 L291.7 384.1 L291.7 384.1 L289.1 381.0 L287.3 378.6 L284.7 375.0 L283.1 372.3 L282.0 370.4 L279.8 367.6 L275.1 366.5 L271.1 366.4 L271.9 363.3 L272.5 360.6 L271.5 355.4 L270.4 351.7 L269.2 350.1 L267.3 346.8 L266.8 342.3 L267.7 340.4 L269.0 337.5 L268.5 333.8Z" fill="#fffbf0" stroke="#fffbf0"/>
<path d="M316.0 306.1 L317.7 303.6 L318.0 301.1 L320.5 299.3 L322.1 296.4 L320.9 292.4 L320.4 289.0 L322.5 286.0 L323.0 282.1 L323.0 282.1 L325.0 282.3 L328.2 283.1 L328.6 286.8 L329.3 288.4 L331.0 290.4 L333.5 294.5 L334.9 296.7 L336.8 299.6 L338.8 301.7 L341.0 304.5 L342.5 307.9 L344.6 309.7 L346.9 311.3 L349.6 308.6 L352.4 311.9 L355.2 314.2 L357.3 316.2 L359.4 318.4 L361.9 320.1 L363.8 323.4 L364.3 326.3 L367.1 325.9 L370.3 327.8 L373.1 328.3 L373.1 328.3 L375.2 330.1 L377.5 332.6 L378.7 335.8 L378.7 335.8 L381.1 338.9 L384.4 342.5 L384.4 342.5 L383.7 344.9 L380.7 346.9 L378.8 348.8 L375.5 350.4 L372.1 346.8 L369.4 345.7 L366.0 342.2 L363.0 340.2 L359.8 341.3 L356.6 341.6 L353.8 340.6 L353.8 340.6 L351.1 339.6 L347.0 341.3 L344.2 343.5 L341.2 344.2 L337.7 343.4 L334.1 344.5 L331.4 342.1 L328.5 340.6 L326.3 339.4 L323.2 335.9 L318.6 335.2 L321.8 332.5 L321.5 330.2 L322.0 328.4 L321.7 324.5 L320.2 321.5 L319.2 319.0 L318.3 316.5 L316.7 313.5 L316.1 310.3 L316.0 306.1Z" fill="#fffbf0" stroke="#fffbf0"/>
<path d="M323.0 282.1 L324.7 278.6 L325.6 274.1 L326.1 270.9 L328.3 269.2 L328.2 265.1 L330.1 261.6 L330.9 258.1 L333.4 256.5 L334.2 253.6 L336.0 250.0 L337.3 245.9 L341.3 243.3 L343.9 241.8 L347.7 241.8 L347.7 241.8 L348.5 244.9 L347.7 248.6 L348.0 251.8 L349.9 255.1 L353.5 257.5 L355.8 261.1 L359.6 262.7 L359.8 265.1 L363.0 268.8 L362.4 272.1 L362.2 275.8 L364.4 280.0 L366.2 283.9 L367.6 285.7 L368.0 288.8 L369.0 291.8 L370.0 294.5 L368.4 297.1 L369.3 299.6 L369.4 303.8 L368.8 307.6 L368.3 311.7 L368.4 314.2 L368.7 319.0 L371.0 321.4 L370.5 325.3 L373.1 328.3 L373.1 328.3 L370.3 327.8 L367.1 325.9 L364.3 326.3 L363.8 323.4 L361.9 320.1 L359.4 318.4 L357.3 316.2 L355.2 314.2 L352.4 311.9 L349.6 308.6 L346.9 311.3 L344.6 309.7 L342.5 307.9 L341.0 304.5 L338.8 301.7 L336.8 299.6 L334.9 296.7 L333.5 294.5 L331.0 290.4 L329.3 288.4 L328.6 286.8 L328.2 283.1 L325.0 282.3 L323.0 282.1Z" fill="#fffbf0" stroke="#fffbf0"/>
<path d="M347.7 241.8 L351.9 241.3 L355.0 242.3 L358.5 238.7 L361.5 239.7 L364.2 239.8 L367.8 236.6 L370.4 237.6 L370.4 237.6 L371.2 241.4 L371.6 242.9 L373.7 245.0 L375.6 249.3 L375.4 252.4 L377.7 255.7 L378.0 257.9 L380.2 262.2 L380.7 266.1 L381.6 268.8 L385.4 269.7 L385.2 274.3 L387.8 275.4 L389.2 278.2 L392.3 278.3 L393.4 283.0 L397.0 285.1 L398.6 286.1 L400.1 287.9 L402.0 291.4 L404.1 293.0 L404.1 293.0 L402.6 297.2 L398.9 298.6 L396.8 300.2 L399.2 304.1 L403.0 305.5 L402.8 309.3 L403.5 313.4 L402.7 318.0 L401.2 321.3 L398.1 322.4 L394.1 323.9 L391.6 326.5 L388.6 326.2 L385.9 328.8 L383.9 331.5 L380.9 331.8 L377.4 332.2 L378.7 335.8 L378.7 335.8 L377.5 332.6 L375.2 330.1 L373.1 328.3 L373.1 328.3 L370.5 325.3 L371.0 321.4 L368.7 319.0 L368.4 314.2 L368.3 311.7 L368.8 307.6 L369.4 303.8 L369.3 299.6 L368.4 297.1 L370.0 294.5 L369.0 291.8 L368.0 288.8 L367.6 285.7 L366.2 283.9 L364.4 280.0 L362.2 275.8 L362.4 272.1 L363.0 268.8 L359.8 265.1 L359.6 262.7 L355.8 261.1 L353.5 257.5 L349.9 255.1 L348.0 251.8 L347.7 248.6 L348.5 244.9 L347.7 241.8Z" fill="#e6e088" stroke="#e6e088"/>
<path d="M370.4 237.6 L371.9 235.9 L375.4 233.9 L378.5 233.8 L381.6 234.2 L386.3 233.9 L390.5 234.3 L393.7 232.4 L397.3 232.6 L401.4 231.8 L405.0 232.0 L408.1 231.8 L408.1 231.8 L407.6 234.8 L408.5 237.5 L409.7 240.4 L410.8 242.8 L408.7 247.3 L413.1 249.8 L411.6 253.1 L411.5 256.1 L413.4 258.1 L413.3 261.2 L410.8 263.9 L409.0 266.4 L407.1 269.2 L407.4 272.1 L408.6 276.2 L410.2 279.6 L409.3 283.1 L410.6 288.1 L409.4 291.6 L406.4 291.7 L404.1 293.0 L404.1 293.0 L402.0 291.4 L400.1 287.9 L398.6 286.1 L397.0 285.1 L393.4 283.0 L392.3 278.3 L389.2 278.2 L387.8 275.4 L385.2 274.3 L385.4 269.7 L381.6 268.8 L380.7 266.1 L380.2 262.2 L378.0 257.9 L377.7 255.7 L375.4 252.4 L375.6 249.3 L373.7 245.0 L371.6 242.9 L371.2 241.4 L370.4 237.6Z" fill="#e8e046" stroke="#e8e046"/>
<path d="M370.4 237.6 L371.9 233.1 L374.7 232.8 L375.2 229.2 L377.4 227.4 L375.9 224.6 L377.1 220.3 L379.8 217.4 L384.0 216.9 L385.9 214.9 L388.6 214.2 L390.8 211.0 L394.0 209.0 L395.2 205.8 L398.0 203.6 L401.5 202.3 L403.8 199.6 L403.1 198.0 L401.2 195.1 L405.4 193.8 L407.0 192.2 L409.4 190.3 L412.5 192.0 L416.7 194.8 L420.4 193.3 L422.8 191.3 L427.6 194.3 L431.4 194.9 L434.3 195.6 L438.0 195.4 L441.3 196.4 L445.3 192.9 L448.7 192.4 L452.4 193.2 L455.6 193.0 L459.3 190.4 L463.0 193.0 L466.5 194.7 L470.3 193.9 L473.9 192.4 L476.2 195.3 L475.4 198.5 L475.8 201.2 L476.7 204.7 L475.7 207.9 L475.4 210.0 L476.4 213.9 L475.7 217.8 L476.6 220.7 L475.7 223.0 L480.3 225.8 L483.7 226.7 L486.8 225.0 L489.4 222.8 L492.0 222.4 L495.5 224.1 L497.9 225.9 L501.3 227.5 L501.3 227.5 L503.2 230.7 L503.0 233.9 L501.8 235.6 L500.9 239.9 L504.5 241.0 L506.2 244.2 L506.4 248.1 L506.4 248.1 L503.8 249.9 L500.6 249.9 L498.1 251.9 L498.1 251.9 L495.5 250.6 L492.7 250.7 L488.8 250.9 L485.7 248.4 L481.7 247.9 L478.6 248.2 L474.3 248.4 L470.3 249.1 L467.1 250.7 L467.1 250.7 L465.6 248.4 L463.5 247.0 L461.9 243.6 L460.8 240.7 L459.0 237.8 L454.3 237.5 L452.2 235.0 L449.7 234.9 L446.3 233.4 L443.4 232.5 L442.1 230.8 L438.8 229.4 L436.1 226.8 L435.0 227.9 L432.7 229.6 L428.3 231.1 L425.8 232.9 L422.5 234.3 L422.5 234.3 L418.3 233.2 L418.0 230.4 L414.0 231.5 L411.7 233.2 L408.1 231.8 L408.1 231.8 L405.0 232.0 L401.4 231.8 L397.3 232.6 L393.7 232.4 L390.5 234.3 L386.3 233.9 L381.6 234.2 L378.5 233.8 L375.4 233.9 L371.9 235.9 L370.4 237.6Z" fill="#e6e088" stroke="#e6e088"/>
<path d="M467.1 250.7 L465.6 248.4 L463.5 247.0 L461.9 243.6 L460.8 240.7 L459.0 237.8 L454.3 237.5 L452.2 235.0 L449.7 234.9 L446.3 233.4 L443.4 232.5 L442.1 230.8 L438.8 229.4 L436.1 226.8 L435.0 227.9 L432.7 229.6 L428.3 231.1 L425.8 232.9 L422.5 234.3 L422.5 234.3 L424.2 237.5 L423.5 239.4 L422.3 243.6 L425.0 246.9 L425.9 251.4 L427.8 252.1 L431.0 253.7 L434.0 254.5 L438.2 257.1 L439.0 261.1 L441.5 263.9 L444.5 260.2 L449.0 261.8 L451.1 260.2 L454.9 261.2 L457.7 263.7 L460.5 261.5 L463.5 260.3 L465.1 256.7 L465.9 254.1 L467.1 250.7Z" fill="#e8e046" stroke="#e8e046"/>
<path d="M408.1 231.8 L411.7 233.2 L414.0 231.5 L418.0 230.4 L418.3 233.2 L422.5 234.3 L422.5 234.3 L424.2 237.5 L423.5 239.4 L422.3 243.6 L425.0 246.9 L425.9 251.4 L427.8 252.1 L431.0 253.7 L434.0 254.5 L438.2 257.1 L439.0 261.1 L441.5 263.9 L444.5 260.2 L449.0 261.8 L451.1 260.2 L454.9 261.2 L457.7 263.7 L460.5 261.5 L463.5 260.3 L465.1 256.7 L465.9 254.1 L467.1 250.7 L467.1 250.7 L470.3 249.1 L474.3 248.4 L478.6 248.2 L481.7 247.9 L485.7 248.4 L488.8 250.9 L492.7 250.7 L495.5 250.6 L498.1 251.9 L498.1 251.9 L497.2 254.7 L495.7 257.8 L495.0 261.2 L495.2 264.2 L493.5 267.5 L493.8 270.2 L491.3 273.9 L490.5 276.3 L490.5 276.3 L487.9 276.8 L483.9 277.2 L479.6 277.3 L477.4 280.5 L474.7 282.3 L471.7 282.0 L469.3 284.5 L465.6 285.1 L463.3 286.3 L460.5 287.3 L457.4 287.6 L455.4 289.9 L452.4 290.7 L450.2 292.6 L446.0 294.4 L445.0 298.6 L443.4 301.1 L441.2 303.6 L438.5 306.7 L438.2 311.0 L435.7 310.9 L433.2 312.8 L430.6 315.2 L429.2 316.1 L427.6 317.9 L428.0 320.9 L425.1 324.2 L422.3 326.0 L419.3 327.8 L416.4 327.5 L413.8 329.6 L411.0 330.1 L409.2 333.8 L409.0 335.9 L409.0 335.9 L405.6 334.6 L400.8 334.4 L398.2 335.1 L395.4 336.4 L392.7 337.4 L390.4 339.4 L387.1 340.6 L384.4 342.5 L384.4 342.5 L381.1 338.9 L378.7 335.8 L378.7 335.8 L377.4 332.2 L380.9 331.8 L383.9 331.5 L385.9 328.8 L388.6 326.2 L391.6 326.5 L394.1 323.9 L398.1 322.4 L401.2 321.3 L402.7 318.0 L403.5 313.4 L402.8 309.3 L403.0 305.5 L399.2 304.1 L396.8 300.2 L398.9 298.6 L402.6 297.2 L404.1 293.0 L404.1 293.0 L406.4 291.7 L409.4 291.6 L410.6 288.1 L409.3 283.1 L410.2 279.6 L408.6 276.2 L407.4 272.1 L407.1 269.2 L409.0 266.4 L410.8 263.9 L413.3 261.2 L413.4 258.1 L411.5 256.1 L411.6 253.1 L413.1 249.8 L408.7 247.3 L410.8 242.8 L409.7 240.4 L408.5 237.5 L407.6 234.8 L408.1 231.8Z" fill="#e6e088" stroke="#e6e088"/>
<path d="M501.3 227.5 L504.0 226.5 L507.7 225.9 L509.2 225.7 L511.1 222.0 L513.5 223.1 L515.4 220.8 L514.6 216.5 L517.7 214.9 L519.3 212.5 L520.4 210.4 L521.5 208.1 L522.7 205.2 L523.5 201.5 L524.8 200.3 L528.3 197.9 L528.3 195.0 L531.9 194.9 L534.8 195.6 L537.6 193.8 L541.0 192.2 L543.5 192.2 L547.4 192.6 L547.0 188.9 L549.1 184.7 L553.4 183.0 L555.3 180.9 L558.1 180.4 L560.0 179.2 L562.5 175.0 L565.4 176.2 L566.3 179.4 L567.1 181.1 L569.2 183.5 L570.2 186.0 L572.3 187.0 L573.2 191.6 L575.3 195.5 L575.2 199.7 L578.5 203.2 L578.1 206.4 L578.3 208.7 L579.9 211.1 L580.1 214.8 L582.4 216.3 L584.5 218.3 L585.2 223.0 L585.2 223.0 L583.3 225.1 L580.7 227.5 L579.1 228.8 L574.7 230.4 L573.2 234.3 L571.0 236.4 L567.6 238.3 L566.4 240.5 L563.9 242.5 L561.7 245.4 L558.9 245.9 L555.8 247.7 L554.3 252.1 L552.5 253.7 L552.5 253.7 L549.8 254.7 L547.5 257.6 L543.8 254.3 L540.6 255.2 L536.9 255.7 L533.0 254.2 L529.3 255.5 L526.5 256.3 L523.5 258.4 L520.4 259.9 L518.5 256.4 L517.4 253.2 L514.9 252.5 L513.1 249.1 L509.5 248.4 L506.4 248.1 L506.4 248.1 L506.2 244.2 L504.5 241.0 L500.9 239.9 L501.8 235.6 L503.0 233.9 L503.2 230.7 L501.3 227.5Z" fill="#e8e046" stroke="#e8e046"/>
<path d="M585.2 223.0 L588.7 221.0 L590.4 219.5 L592.5 221.9 L592.3 224.7 L590.0 228.8 L595.0 230.8 L598.2 232.6 L602.4 234.2 L604.6 237.9 L607.4 235.2 L612.2 233.2 L614.2 231.8 L617.3 233.7 L618.0 235.4 L617.7 237.7 L618.5 240.4 L617.5 244.1 L617.1 247.5 L618.4 250.5 L616.7 254.0 L617.9 257.7 L615.7 260.9 L619.9 264.7 L619.9 268.0 L618.3 271.1 L616.1 273.4 L615.1 277.2 L613.3 279.6 L609.8 282.0 L609.6 284.7 L609.6 284.7 L607.8 286.3 L604.6 287.8 L603.9 286.0 L601.1 285.8 L597.1 284.2 L593.7 284.9 L590.7 283.0 L587.3 283.3 L584.1 281.7 L581.9 279.6 L580.3 278.8 L577.8 277.0 L575.3 274.9 L571.8 274.6 L571.8 274.6 L572.3 270.9 L570.9 268.0 L568.6 266.4 L567.8 262.8 L565.6 262.3 L562.5 260.7 L561.0 260.1 L558.3 258.0 L554.8 255.6 L552.5 253.7 L552.5 253.7 L554.3 252.1 L555.8 247.7 L558.9 245.9 L561.7 245.4 L563.9 242.5 L566.4 240.5 L567.6 238.3 L571.0 236.4 L573.2 234.3 L574.7 230.4 L579.1 228.8 L580.7 227.5 L583.3 225.1 L585.2 223.0Z" fill="#e8e046" stroke="#e8e046"/>
<path d="M498.1 251.9 L500.6 249.9 L503.8 249.9 L506.4 248.1 L506.4 248.1 L509.5 248.4 L513.1 249.1 L514.9 252.5 L517.4 253.2 L518.5 256.4 L520.4 259.9 L523.5 258.4 L526.5 256.3 L529.3 255.5 L533.0 254.2 L536.9 255.7 L540.6 255.2 L543.8 254.3 L547.5 257.6 L549.8 254.7 L552.5 253.7 L552.5 253.7 L554.8 255.6 L558.3 258.0 L561.0 260.1 L562.5 260.7 L565.6 262.3 L567.8 262.8 L568.6 266.4 L570.9 268.0 L572.3 270.9 L571.8 274.6 L571.8 274.6 L570.1 277.0 L569.2 279.3 L566.2 280.7 L565.3 283.5 L561.8 285.9 L561.5 289.4 L557.5 290.4 L553.6 291.1 L550.3 292.3 L550.3 292.3 L546.8 291.9 L542.9 291.3 L540.6 292.4 L536.5 294.2 L534.4 294.4 L531.1 295.3 L528.2 297.0 L525.7 295.6 L523.2 293.5 L520.6 293.5 L518.1 292.5 L516.2 294.8 L513.6 296.2 L511.3 297.2 L509.3 294.1 L508.7 291.6 L505.9 290.5 L504.7 291.5 L500.5 289.6 L499.0 292.4 L499.3 295.4 L498.1 297.3 L498.1 297.3 L495.5 295.6 L493.2 293.4 L491.9 289.9 L491.4 285.9 L491.3 282.8 L492.6 279.6 L490.5 276.3 L490.5 276.3 L491.3 273.9 L493.8 270.2 L493.5 267.5 L495.2 264.2 L495.0 261.2 L495.7 257.8 L497.2 254.7 L498.1 251.9Z" fill="#e8e046" stroke="#e8e046"/>
<path d="M409.0 335.9 L409.2 333.8 L411.0 330.1 L413.8 329.6 L416.4 327.5 L419.3 327.8 L422.3 326.0 L425.1 324.2 L428.0 320.9 L427.6 317.9 L429.2 316.1 L430.6 315.2 L433.2 312.8 L435.7 310.9 L438.2 311.0 L438.5 306.7 L441.2 303.6 L443.4 301.1 L445.0 298.6 L446.0 294.4 L450.2 292.6 L452.4 290.7 L455.4 289.9 L457.4 287.6 L460.5 287.3 L463.3 286.3 L465.6 285.1 L469.3 284.5 L471.7 282.0 L474.7 282.3 L477.4 280.5 L479.6 277.3 L483.9 277.2 L487.9 276.8 L490.5 276.3 L490.5 276.3 L492.6 279.6 L491.3 282.8 L491.4 285.9 L491.9 289.9 L493.2 293.4 L495.5 295.6 L498.1 297.3 L498.1 297.3 L496.7 300.2 L493.7 303.9 L493.3 308.2 L494.1 311.8 L495.1 315.6 L493.2 318.6 L492.6 320.1 L491.8 323.2 L490.1 325.5 L491.6 329.2 L489.8 333.1 L489.3 336.8 L491.1 339.8 L492.5 342.5 L494.7 345.7 L494.9 347.8 L495.4 350.9 L490.6 352.6 L487.1 354.3 L485.9 356.5 L484.3 358.5 L484.9 364.0 L484.9 364.0 L482.2 363.0 L478.4 362.0 L474.4 363.2 L474.4 363.2 L471.2 365.1 L468.1 364.7 L466.5 362.4 L463.9 360.5 L461.4 359.6 L461.5 356.8 L459.3 354.3 L457.1 351.8 L455.0 349.2 L452.8 346.3 L449.0 346.8 L446.4 347.4 L444.4 343.7 L440.5 344.6 L437.2 343.0 L434.7 340.9 L433.4 340.0 L430.6 338.7 L428.4 340.4 L426.0 342.5 L426.0 342.5 L422.8 341.5 L418.6 340.1 L415.7 339.4 L413.3 336.6 L409.0 335.9Z" fill="#e6e088" stroke="#e6e088"/>
<path d="M426.0 342.5 L428.4 340.4 L430.6 338.7 L433.4 340.0 L434.7 340.9 L437.2 343.0 L440.5 344.6 L444.4 343.7 L446.4 347.4 L449.0 346.8 L452.8 346.3 L455.0 349.2 L457.1 351.8 L459.3 354.3 L461.5 356.8 L461.4 359.6 L463.9 360.5 L466.5 362.4 L468.1 364.7 L471.2 365.1 L474.4 363.2 L474.4 363.2 L473.4 365.6 L471.4 368.8 L469.6 372.2 L469.0 374.4 L466.6 377.7 L468.5 381.7 L467.3 384.5 L468.8 387.1 L469.9 390.1 L470.9 392.2 L468.3 395.0 L468.5 398.2 L468.5 398.2 L464.7 399.7 L461.6 397.9 L459.2 398.3 L456.6 398.4 L455.1 394.9 L452.0 394.0 L449.0 392.9 L446.7 391.3 L442.9 393.1 L441.5 395.0 L438.3 395.4 L438.3 395.4 L437.6 392.5 L434.4 391.3 L433.9 387.6 L431.5 384.8 L429.7 383.1 L429.4 379.9 L426.5 379.0 L426.9 374.8 L424.8 372.4 L421.7 370.1 L421.4 367.0 L418.4 364.0 L416.1 360.6 L417.1 356.4 L416.4 352.8 L416.3 350.0 L418.0 347.6 L419.3 344.9 L423.1 344.1 L426.0 342.5Z" fill="#e8a30a" stroke="#e8a30a"/>
<path d="M498.1 297.3 L499.3 295.4 L499.0 292.4 L500.5 289.6 L504.7 291.5 L505.9 290.5 L508.7 291.6 L509.3 294.1 L511.3 297.2 L513.6 296.2 L516.2 294.8 L518.1 292.5 L520.6 293.5 L523.2 293.5 L525.7 295.6 L528.2 297.0 L531.1 295.3 L534.4 294.4 L536.5 294.2 L540.6 292.4 L542.9 291.3 L546.8 291.9 L550.3 292.3 L550.3 292.3 L550.9 294.6 L553.0 297.6 L553.0 300.7 L552.6 302.9 L552.5 305.4 L553.0 308.2 L550.8 309.8 L550.3 312.9 L548.5 315.8 L546.1 317.5 L545.9 319.8 L545.3 321.7 L543.4 324.5 L543.1 327.7 L541.6 330.1 L538.7 331.8 L538.2 333.7 L536.9 337.2 L535.6 339.6 L534.2 342.5 L534.3 345.2 L536.1 348.3 L537.6 350.0 L537.7 352.5 L537.8 356.5 L537.8 356.5 L536.0 357.7 L533.2 359.1 L531.2 364.0 L531.2 364.0 L530.2 366.9 L527.5 368.3 L526.2 369.9 L523.8 371.9 L521.1 372.8 L517.8 371.7 L514.9 372.7 L514.6 369.2 L516.5 367.4 L513.2 364.8 L510.0 365.4 L507.1 365.1 L502.6 363.7 L499.5 362.9 L495.3 364.0 L491.5 366.4 L489.0 364.8 L484.9 364.0 L484.9 364.0 L484.3 358.5 L485.9 356.5 L487.1 354.3 L490.6 352.6 L495.4 350.9 L494.9 347.8 L494.7 345.7 L492.5 342.5 L491.1 339.8 L489.3 336.8 L489.8 333.1 L491.6 329.2 L490.1 325.5 L491.8 323.2 L492.6 320.1 L493.2 318.6 L495.1 315.6 L494.1 311.8 L493.3 308.2 L493.7 303.9 L496.7 300.2 L498.1 297.3Z" fill="#e8e046" stroke="#e8e046"/>
<path d="M571.8 274.6 L575.3 274.9 L577.8 277.0 L580.3 278.8 L581.9 279.6 L584.1 281.7 L587.3 283.3 L590.7 283.0 L593.7 284.9 L597.1 284.2 L601.1 285.8 L603.9 286.0 L604.6 287.8 L607.8 286.3 L609.6 284.7 L609.6 284.7 L613.7 285.3 L615.6 289.7 L620.2 289.4 L623.6 292.0 L628.0 290.4 L628.0 290.4 L628.5 294.5 L630.7 298.0 L632.6 300.3 L633.2 303.4 L634.2 304.9 L635.9 307.7 L637.7 309.5 L641.7 310.8 L644.7 312.5 L647.7 314.4 L651.5 314.8 L654.9 317.0 L653.5 319.0 L654.1 322.5 L653.6 325.6 L652.9 329.7 L651.2 333.2 L648.6 335.9 L646.8 338.6 L643.7 340.6 L641.2 340.7 L641.9 345.6 L643.9 349.7 L646.3 351.0 L648.0 353.9 L649.3 355.9 L651.8 356.7 L653.3 360.9 L654.4 363.1 L653.9 366.9 L650.4 369.0 L650.4 369.0 L647.5 368.6 L644.5 368.7 L641.4 369.1 L636.2 368.0 L632.9 366.0 L629.6 366.7 L625.4 366.5 L623.2 369.2 L618.4 367.6 L613.5 367.5 L610.2 366.8 L606.5 365.7 L603.6 366.2 L600.3 367.0 L597.4 365.6 L595.4 364.0 L593.2 363.0 L591.2 361.0 L588.1 361.6 L586.0 358.1 L582.5 358.5 L580.0 355.4 L576.4 355.1 L572.5 354.8 L569.6 353.4 L565.0 352.8 L563.2 353.4 L558.8 354.6 L555.8 354.4 L551.9 353.0 L547.1 355.2 L545.1 355.2 L541.3 356.9 L537.8 356.5 L537.8 356.5 L537.7 352.5 L537.6 350.0 L536.1 348.3 L534.3 345.2 L534.2 342.5 L535.6 339.6 L536.9 337.2 L538.2 333.7 L538.7 331.8 L541.6 330.1 L543.1 327.7 L543.4 324.5 L545.3 321.7 L545.9 319.8 L546.1 317.5 L548.5 315.8 L550.3 312.9 L550.8 309.8 L553.0 308.2 L552.5 305.4 L552.6 302.9 L553.0 300.7 L553.0 297.6 L550.9 294.6 L550.3 292.3 L550.3 292.3 L553.6 291.1 L557.5 290.4 L561.5 289.4 L561.8 285.9 L565.3 283.5 L566.2 280.7 L569.2 279.3 L570.1 277.0 L571.8 274.6Z" fill="#e6e088" stroke="#e6e088"/>
<path d="M628.0 290.4 L629.3 287.4 L630.3 284.8 L632.6 282.1 L635.7 281.2 L639.7 283.4 L643.0 282.8 L646.7 282.1 L648.7 283.9 L651.5 284.7 L655.0 286.8 L657.4 290.0 L658.9 291.7 L662.5 294.2 L664.0 296.5 L665.8 295.0 L666.9 291.0 L668.0 288.6 L666.7 284.3 L667.5 281.6 L670.0 280.2 L671.2 276.7 L672.3 274.4 L673.9 270.9 L674.6 268.0 L676.8 264.5 L678.2 262.3 L681.3 262.8 L683.9 259.5 L683.9 259.5 L685.1 262.8 L687.0 264.7 L687.9 267.4 L689.9 270.1 L692.8 271.4 L694.6 268.6 L699.8 269.8 L701.7 270.5 L706.3 271.5 L706.4 274.6 L708.5 275.8 L710.3 277.6 L711.8 282.6 L709.9 286.0 L711.2 288.1 L714.4 289.9 L714.9 294.6 L711.9 296.0 L711.7 300.2 L712.2 303.2 L708.9 303.9 L706.1 304.6 L704.2 306.7 L701.2 306.9 L698.1 309.2 L701.9 312.8 L701.8 315.9 L704.4 317.9 L705.6 320.3 L710.4 320.5 L711.2 324.0 L712.4 326.8 L714.9 331.0 L716.1 334.4 L718.5 336.0 L721.6 337.6 L722.6 340.1 L726.0 341.0 L726.0 341.0 L724.8 343.9 L723.5 346.4 L723.5 346.4 L722.3 349.2 L718.6 351.6 L715.7 351.3 L714.1 354.1 L711.3 356.3 L707.9 355.7 L706.4 358.2 L704.1 359.4 L701.9 361.3 L700.1 363.7 L702.1 365.5 L703.4 369.0 L703.4 369.0 L702.1 370.8 L698.1 372.3 L695.7 373.6 L692.3 374.9 L690.8 377.8 L690.8 377.8 L687.4 377.1 L683.4 375.9 L679.7 375.7 L676.9 373.9 L673.3 374.3 L670.3 373.0 L667.6 372.6 L663.7 371.5 L660.4 372.4 L656.9 370.6 L654.0 369.7 L650.4 369.0 L650.4 369.0 L653.9 366.9 L654.4 363.1 L653.3 360.9 L651.8 356.7 L649.3 355.9 L648.0 353.9 L646.3 351.0 L643.9 349.7 L641.9 345.6 L641.2 340.7 L643.7 340.6 L646.8 338.6 L648.6 335.9 L651.2 333.2 L652.9 329.7 L653.6 325.6 L654.1 322.5 L653.5 319.0 L654.9 317.0 L651.5 314.8 L647.7 314.4 L644.7 312.5 L641.7 310.8 L637.7 309.5 L635.9 307.7 L634.2 304.9 L633.2 303.4 L632.6 300.3 L630.7 298.0 L628.5 294.5 L628.0 290.4Z" fill="#e8e046" stroke="#e8e046"/>
<path d="M683.9 259.5 L685.6 257.4 L688.1 255.4 L692.7 255.3 L695.6 253.7 L699.0 253.0 L703.0 253.7 L705.8 252.0 L708.2 249.5 L708.9 245.7 L710.5 243.1 L710.7 240.1 L713.8 240.7 L715.9 242.7 L719.4 240.1 L721.3 241.5 L725.0 242.4 L728.0 240.6 L728.0 240.6 L729.2 243.7 L729.1 246.6 L727.1 250.5 L727.6 254.8 L726.5 258.3 L723.9 260.9 L722.9 263.2 L724.0 267.8 L726.3 267.8 L729.8 267.1 L731.9 264.8 L735.3 265.7 L737.8 267.5 L740.4 269.8 L740.3 273.9 L740.5 278.4 L738.8 282.8 L740.7 286.0 L744.8 285.2 L747.2 287.1 L750.9 286.3 L754.7 285.1 L758.0 284.5 L761.8 283.4 L763.3 286.1 L765.7 287.3 L769.7 287.8 L771.5 290.6 L774.4 292.6 L776.5 294.0 L779.2 295.1 L782.7 295.7 L782.7 295.7 L786.0 297.0 L787.7 300.9 L789.4 304.2 L791.1 308.6 L788.0 309.9 L786.3 311.7 L785.4 313.8 L784.0 317.1 L784.0 317.1 L781.3 318.7 L777.6 319.8 L774.4 320.4 L771.2 321.4 L770.5 323.8 L767.6 325.7 L763.8 327.2 L761.9 329.1 L760.0 331.1 L754.4 332.2 L752.5 331.9 L750.5 333.3 L747.4 331.1 L742.1 333.5 L739.9 333.5 L734.9 335.5 L732.0 336.5 L728.2 338.2 L726.0 341.0 L726.0 341.0 L722.6 340.1 L721.6 337.6 L718.5 336.0 L716.1 334.4 L714.9 331.0 L712.4 326.8 L711.2 324.0 L710.4 320.5 L705.6 320.3 L704.4 317.9 L701.8 315.9 L701.9 312.8 L698.1 309.2 L701.2 306.9 L704.2 306.7 L706.1 304.6 L708.9 303.9 L712.2 303.2 L711.7 300.2 L711.9 296.0 L714.9 294.6 L714.4 289.9 L711.2 288.1 L709.9 286.0 L711.8 282.6 L710.3 277.6 L708.5 275.8 L706.4 274.6 L706.3 271.5 L701.7 270.5 L699.8 269.8 L694.6 268.6 L692.8 271.4 L689.9 270.1 L687.9 267.4 L687.0 264.7 L685.1 262.8 L683.9 259.5Z" fill="#e36242" stroke="#e36242"/>
<path d="M728.0 240.6 L732.2 239.5 L734.6 239.7 L736.9 239.4 L738.2 244.2 L742.1 242.8 L743.9 244.6 L747.0 243.4 L750.0 247.3 L753.0 246.9 L754.2 246.5 L755.7 243.8 L759.0 242.1 L761.7 238.9 L764.6 241.5 L767.4 241.7 L772.0 242.5 L774.9 239.8 L778.9 240.8 L781.9 244.1 L782.1 246.9 L786.5 247.7 L786.7 251.4 L789.8 254.6 L790.2 257.8 L793.4 259.5 L797.0 261.3 L800.3 262.8 L803.0 261.1 L804.0 266.8 L807.2 268.8 L809.5 270.7 L813.1 270.2 L815.5 270.1 L818.9 271.4 L822.5 272.6 L825.0 272.5 L825.0 272.5 L826.2 275.1 L826.2 278.5 L826.6 282.2 L823.3 285.6 L824.3 288.6 L825.5 291.9 L825.5 291.9 L822.1 291.3 L817.4 293.7 L813.4 295.3 L810.7 297.9 L806.9 294.8 L803.5 294.5 L801.1 293.4 L797.3 292.2 L795.2 291.0 L790.9 290.7 L789.1 291.3 L785.5 292.9 L782.7 295.7 L782.7 295.7 L779.2 295.1 L776.5 294.0 L774.4 292.6 L771.5 290.6 L769.7 287.8 L765.7 287.3 L763.3 286.1 L761.8 283.4 L758.0 284.5 L754.7 285.1 L750.9 286.3 L747.2 287.1 L744.8 285.2 L740.7 286.0 L738.8 282.8 L740.5 278.4 L740.3 273.9 L740.4 269.8 L737.8 267.5 L735.3 265.7 L731.9 264.8 L729.8 267.1 L726.3 267.8 L724.0 267.8 L722.9 263.2 L723.9 260.9 L726.5 258.3 L727.6 254.8 L727.1 250.5 L729.1 246.6 L729.2 243.7 L728.0 240.6Z" fill="#e8e046" stroke="#e8e046"/>
<path d="M782.7 295.7 L785.5 292.9 L789.1 291.3 L790.9 290.7 L795.2 291.0 L797.3 292.2 L801.1 293.4 L803.5 294.5 L806.9 294.8 L810.7 297.9 L813.4 295.3 L817.4 293.7 L822.1 291.3 L825.5 291.9 L825.5 291.9 L827.6 293.5 L831.0 295.2 L832.6 295.3 L836.0 296.1 L838.4 297.6 L841.5 299.6 L845.0 298.9 L848.3 302.0 L852.1 302.9 L853.5 306.5 L853.5 306.5 L853.2 309.7 L855.8 312.7 L857.2 315.3 L857.1 318.6 L858.2 320.8 L860.2 323.9 L860.3 327.1 L862.2 331.4 L861.4 335.3 L857.2 335.5 L854.5 336.3 L851.2 338.8 L848.7 339.6 L845.6 341.5 L843.1 343.3 L840.2 345.5 L836.9 347.4 L835.3 348.9 L833.6 346.6 L831.6 343.8 L830.3 340.5 L828.8 337.2 L827.5 335.3 L824.6 333.8 L820.7 333.0 L816.9 331.7 L812.8 330.1 L809.7 328.9 L806.5 330.5 L804.2 332.2 L804.2 332.2 L800.7 331.4 L798.9 331.5 L795.6 329.8 L792.2 328.8 L790.5 326.0 L788.0 322.8 L785.0 321.0 L784.0 317.1 L784.0 317.1 L785.4 313.8 L786.3 311.7 L788.0 309.9 L791.1 308.6 L789.4 304.2 L787.7 300.9 L786.0 297.0 L782.7 295.7Z" fill="#0cbc18" stroke="#0cbc18"/>
<path d="M825.0 272.5 L825.1 267.9 L826.6 265.7 L828.8 262.3 L829.3 260.5 L833.7 259.8 L835.4 256.7 L838.3 255.6 L841.9 254.4 L842.0 250.5 L839.1 249.7 L837.0 245.8 L837.5 243.3 L837.9 242.5 L839.9 241.2 L844.0 239.9 L847.3 239.2 L851.2 241.7 L853.4 243.8 L854.6 245.7 L858.2 247.3 L861.4 244.1 L864.9 242.6 L867.7 240.7 L870.4 241.2 L870.7 236.8 L873.1 236.7 L875.2 233.8 L878.4 237.0 L883.1 237.4 L885.4 237.6 L887.9 236.8 L890.7 240.5 L894.2 242.1 L897.0 243.1 L899.5 245.0 L901.2 246.7 L903.1 249.1 L903.1 249.1 L900.5 250.5 L897.9 254.8 L896.8 255.8 L895.5 257.9 L894.4 260.6 L892.8 263.8 L897.5 265.3 L898.7 268.2 L896.3 269.7 L895.8 272.8 L897.2 272.7 L899.4 274.0 L900.4 276.4 L902.9 278.8 L904.6 282.1 L905.5 283.2 L907.9 286.3 L910.6 288.6 L913.4 290.4 L912.9 293.7 L915.2 297.4 L912.2 300.9 L911.7 302.7 L908.7 303.8 L907.5 306.7 L907.6 309.4 L907.9 311.7 L908.6 314.2 L904.8 316.8 L904.3 318.1 L900.3 319.2 L897.6 321.1 L895.1 322.1 L892.3 324.0 L888.9 326.1 L888.9 326.1 L886.4 324.4 L883.9 324.9 L881.5 323.1 L878.0 321.6 L876.7 320.1 L875.2 317.2 L872.3 316.3 L869.3 316.4 L866.7 313.6 L864.1 312.0 L859.7 310.7 L855.5 308.3 L853.5 306.5 L853.5 306.5 L852.1 302.9 L848.3 302.0 L845.0 298.9 L841.5 299.6 L838.4 297.6 L836.0 296.1 L832.6 295.3 L831.0 295.2 L827.6 293.5 L825.5 291.9 L825.5 291.9 L824.3 288.6 L823.3 285.6 L826.6 282.2 L826.2 278.5 L826.2 275.1 L825.0 272.5Z" fill="#a3e387" stroke="#a3e387"/>
<path d="M903.1 249.1 L905.8 248.9 L909.0 246.2 L911.8 245.1 L914.3 245.9 L916.3 248.1 L920.5 244.7 L923.5 243.0 L927.0 244.2 L929.9 243.0 L933.4 241.7 L936.9 239.9 L938.5 241.5 L941.0 243.4 L943.7 245.7 L945.1 249.3 L949.0 249.7 L951.7 251.9 L954.1 253.9 L957.3 256.1 L958.9 259.7 L959.7 262.9 L959.7 262.9 L956.8 265.6 L958.2 267.9 L959.0 270.1 L959.3 273.1 L960.2 275.9 L958.8 278.3 L958.0 280.9 L954.8 279.0 L954.1 276.1 L953.0 273.4 L950.7 269.0 L948.1 270.3 L945.7 270.5 L944.7 274.4 L942.8 276.5 L941.5 279.2 L938.1 279.8 L935.1 280.3 L933.5 283.6 L931.9 286.4 L931.1 288.8 L931.1 291.5 L929.7 294.3 L928.9 296.8 L928.5 299.6 L928.1 302.9 L927.5 306.2 L924.4 309.7 L923.8 313.1 L922.7 315.7 L924.3 318.2 L925.8 320.3 L924.1 322.6 L922.9 325.2 L922.9 325.2 L922.9 329.9 L923.4 332.1 L920.5 333.5 L918.3 337.1 L914.4 339.3 L914.4 339.3 L911.7 338.6 L907.8 337.4 L905.7 336.6 L901.0 335.6 L898.6 333.1 L897.2 330.4 L894.7 329.2 L891.0 328.5 L888.9 326.1 L888.9 326.1 L892.3 324.0 L895.1 322.1 L897.6 321.1 L900.3 319.2 L904.3 318.1 L904.8 316.8 L908.6 314.2 L907.9 311.7 L907.6 309.4 L907.5 306.7 L908.7 303.8 L911.7 302.7 L912.2 300.9 L915.2 297.4 L912.9 293.7 L913.4 290.4 L910.6 288.6 L907.9 286.3 L905.5 283.2 L904.6 282.1 L902.9 278.8 L900.4 276.4 L899.4 274.0 L897.2 272.7 L895.8 272.8 L896.3 269.7 L898.7 268.2 L897.5 265.3 L892.8 263.8 L894.4 260.6 L895.5 257.9 L896.8 255.8 L897.9 254.8 L900.5 250.5 L903.1 249.1Z" fill="#a3e387" stroke="#a3e387"/>
<path d="M959.7 262.9 L961.6 264.4 L963.9 265.7 L963.9 265.7 L964.5 267.7 L967.7 269.5 L970.6 272.6 L970.7 276.2 L974.4 277.9 L975.4 280.5 L978.0 283.3 L974.5 286.5 L973.4 289.0 L970.6 291.3 L969.6 294.2 L967.7 296.6 L966.1 299.9 L965.3 303.4 L963.9 305.3 L960.7 308.7 L960.7 308.7 L958.9 311.1 L957.4 313.5 L957.2 316.8 L954.7 319.5 L955.0 323.2 L953.1 325.2 L953.1 325.2 L953.1 329.3 L952.2 332.3 L947.8 334.1 L945.5 337.0 L942.2 337.6 L941.2 341.5 L939.7 343.2 L938.0 346.5 L934.7 344.7 L933.3 343.9 L932.3 341.9 L931.0 339.4 L929.2 337.3 L926.3 335.5 L926.1 331.9 L923.9 330.6 L925.1 328.8 L922.9 325.2 L922.9 325.2 L924.1 322.6 L925.8 320.3 L924.3 318.2 L922.7 315.7 L923.8 313.1 L924.4 309.7 L927.5 306.2 L928.1 302.9 L928.5 299.6 L928.9 296.8 L929.7 294.3 L931.1 291.5 L931.1 288.8 L931.9 286.4 L933.5 283.6 L935.1 280.3 L938.1 279.8 L941.5 279.2 L942.8 276.5 L944.7 274.4 L945.7 270.5 L948.1 270.3 L950.7 269.0 L953.0 273.4 L954.1 276.1 L954.8 279.0 L958.0 280.9 L958.8 278.3 L960.2 275.9 L959.3 273.1 L959.0 270.1 L958.2 267.9 L956.8 265.6 L959.7 262.9Z" fill="#a3e387" stroke="#a3e387"/>
<path d="M963.9 265.7 L964.2 262.6 L964.7 258.6 L969.0 255.2 L972.0 258.2 L974.7 258.4 L976.0 261.9 L975.7 265.1 L979.8 264.9 L981.4 267.9 L985.7 266.1 L989.1 267.6 L993.9 267.3 L995.6 270.8 L996.0 274.8 L997.2 278.8 L998.4 282.1 L1000.1 282.9 L1003.6 284.5 L1005.6 286.1 L1005.1 288.8 L1005.8 293.1 L1006.5 295.7 L1008.0 299.8 L1009.0 303.9 L1012.0 304.2 L1014.6 306.0 L1016.5 307.3 L1020.6 307.2 L1023.5 309.0 L1023.5 309.0 L1020.2 309.0 L1017.1 310.1 L1014.4 312.4 L1014.1 315.5 L1012.5 317.8 L1011.3 321.4 L1009.1 322.2 L1006.7 324.7 L1003.2 325.2 L999.5 325.7 L996.5 329.0 L992.8 328.2 L991.5 330.2 L990.6 332.4 L989.2 330.6 L986.0 329.9 L983.1 331.8 L980.0 332.5 L978.8 329.6 L976.1 328.8 L973.7 325.3 L970.6 325.6 L970.1 322.6 L968.0 320.5 L965.9 317.4 L962.3 315.6 L962.4 311.6 L960.7 308.7 L960.7 308.7 L963.9 305.3 L965.3 303.4 L966.1 299.9 L967.7 296.6 L969.6 294.2 L970.6 291.3 L973.4 289.0 L974.5 286.5 L978.0 283.3 L975.4 280.5 L974.4 277.9 L970.7 276.2 L970.6 272.6 L967.7 269.5 L964.5 267.7 L963.9 265.7Z" fill="#a3e387" stroke="#a3e387"/>
<path d="M960.7 308.7 L962.4 311.6 L962.3 315.6 L965.9 317.4 L968.0 320.5 L970.1 322.6 L970.6 325.6 L973.7 325.3 L976.1 328.8 L978.8 329.6 L980.0 332.5 L983.1 331.8 L986.0 329.9 L989.2 330.6 L990.6 332.4 L991.5 330.2 L992.8 328.2 L996.5 329.0 L999.5 325.7 L1003.2 325.2 L1006.7 324.7 L1009.1 322.2 L1011.3 321.4 L1012.5 317.8 L1014.1 315.5 L1014.4 312.4 L1017.1 310.1 L1020.2 309.0 L1023.5 309.0 L1023.5 309.0 L1023.0 312.0 L1020.5 313.9 L1021.0 316.8 L1019.7 320.6 L1019.0 322.7 L1017.1 325.0 L1015.2 326.6 L1014.0 329.4 L1017.0 332.0 L1019.7 335.9 L1018.4 339.0 L1018.6 343.0 L1016.3 344.8 L1014.5 347.5 L1014.5 349.7 L1014.2 352.7 L1012.5 354.8 L1010.7 355.8 L1008.9 359.1 L1006.8 361.1 L1003.3 362.3 L1001.8 364.9 L1000.1 367.4 L996.9 370.0 L996.1 373.2 L1002.4 373.1 L1006.0 373.5 L1008.8 376.4 L1011.7 377.7 L1015.1 376.8 L1017.9 375.9 L1022.2 378.5 L1025.1 379.7 L1028.1 380.9 L1028.1 380.9 L1028.6 384.2 L1026.8 385.4 L1025.8 389.9 L1023.2 391.6 L1023.2 391.6 L1019.8 393.6 L1018.8 394.6 L1017.4 398.5 L1017.5 402.6 L1014.1 401.2 L1012.2 401.4 L1008.8 401.1 L1003.8 400.4 L1000.4 403.3 L996.1 401.6 L992.9 400.2 L990.4 399.7 L986.6 397.5 L983.5 395.3 L980.3 393.6 L977.6 393.3 L976.0 390.4 L972.2 390.5 L969.7 388.3 L965.3 387.4 L962.2 385.3 L958.9 386.0 L958.9 386.0 L957.1 383.1 L956.5 381.2 L958.2 377.3 L959.4 374.2 L958.6 368.9 L961.6 365.2 L958.8 364.5 L960.0 361.0 L956.9 358.7 L957.0 354.9 L956.7 352.6 L955.2 350.7 L956.2 346.2 L956.4 342.7 L955.7 339.5 L958.5 336.2 L956.0 333.5 L954.4 329.7 L954.9 327.6 L953.1 325.2 L953.1 325.2 L955.0 323.2 L954.7 319.5 L957.2 316.8 L957.4 313.5 L958.9 311.1 L960.7 308.7Z" fill="#e8a30a" stroke="#e8a30a"/>
<path d="M1023.5 309.0 L1025.9 311.9 L1029.3 313.9 L1031.6 316.0 L1034.4 317.0 L1037.9 315.3 L1038.8 319.2 L1041.4 321.5 L1044.2 323.8 L1048.1 323.8 L1051.8 325.5 L1056.0 328.4 L1059.6 325.7 L1061.9 324.8 L1065.5 328.1 L1066.4 331.9 L1068.4 332.9 L1071.8 335.2 L1075.7 335.3 L1079.7 337.4 L1081.9 339.5 L1085.0 341.0 L1088.1 341.5 L1090.9 340.1 L1093.7 341.7 L1095.7 342.2 L1095.3 345.7 L1093.9 349.1 L1093.7 352.5 L1092.9 355.0 L1094.3 358.6 L1091.8 360.3 L1088.8 360.5 L1087.5 364.4 L1086.2 366.0 L1084.0 368.2 L1081.7 370.7 L1078.9 374.3 L1077.5 377.3 L1075.0 378.9 L1073.0 381.7 L1073.0 384.9 L1070.9 388.4 L1070.8 390.7 L1067.1 393.3 L1066.6 396.0 L1063.6 397.3 L1063.6 397.3 L1060.6 397.7 L1057.5 399.4 L1054.9 397.8 L1051.9 395.0 L1047.8 396.1 L1046.0 398.4 L1042.8 397.1 L1039.3 397.8 L1038.9 393.4 L1038.8 390.7 L1036.2 387.5 L1036.0 386.0 L1034.1 382.8 L1031.8 383.2 L1028.8 380.8 L1028.1 380.9 L1028.1 380.9 L1025.1 379.7 L1022.2 378.5 L1017.9 375.9 L1015.1 376.8 L1011.7 377.7 L1008.8 376.4 L1006.0 373.5 L1002.4 373.1 L996.1 373.2 L996.9 370.0 L1000.1 367.4 L1001.8 364.9 L1003.3 362.3 L1006.8 361.1 L1008.9 359.1 L1010.7 355.8 L1012.5 354.8 L1014.2 352.7 L1014.5 349.7 L1014.5 347.5 L1016.3 344.8 L1018.6 343.0 L1018.4 339.0 L1019.7 335.9 L1017.0 332.0 L1014.0 329.4 L1015.2 326.6 L1017.1 325.0 L1019.0 322.7 L1019.7 320.6 L1021.0 316.8 L1020.5 313.9 L1023.0 312.0 L1023.5 309.0Z" fill="#a3e387" stroke="#a3e387"/>
<path d="M1063.6 397.3 L1061.7 400.4 L1063.0 403.3 L1061.7 405.6 L1062.9 408.7 L1062.9 413.0 L1061.1 414.6 L1061.2 418.3 L1059.3 420.3 L1057.9 423.9 L1057.6 428.7 L1058.0 431.7 L1056.6 435.7 L1057.8 438.0 L1055.9 440.2 L1055.4 443.9 L1052.4 444.7 L1049.9 447.1 L1050.4 449.0 L1047.1 451.9 L1045.5 453.4 L1042.2 455.5 L1040.7 457.6 L1038.7 459.9 L1036.9 462.6 L1034.8 464.3 L1033.6 466.1 L1029.6 466.6 L1028.6 468.6 L1024.8 470.8 L1024.1 473.0 L1021.6 475.2 L1021.6 475.2 L1019.3 472.3 L1016.8 470.3 L1014.7 467.0 L1014.4 463.5 L1013.0 461.8 L1010.2 458.8 L1008.6 456.1 L1008.3 452.3 L1007.3 448.5 L1007.7 445.2 L1007.2 442.6 L1005.3 438.4 L1004.9 435.3 L1005.6 431.7 L1005.5 427.3 L1008.1 423.7 L1010.0 420.6 L1010.7 417.2 L1014.3 415.7 L1016.6 413.8 L1019.9 410.9 L1022.3 408.7 L1021.3 402.7 L1023.0 400.9 L1023.3 397.5 L1024.3 395.6 L1023.2 391.6 L1023.2 391.6 L1025.8 389.9 L1026.8 385.4 L1028.6 384.2 L1028.1 380.9 L1028.1 380.9 L1028.8 380.8 L1031.8 383.2 L1034.1 382.8 L1036.0 386.0 L1036.2 387.5 L1038.8 390.7 L1038.9 393.4 L1039.3 397.8 L1042.8 397.1 L1046.0 398.4 L1047.8 396.1 L1051.9 395.0 L1054.9 397.8 L1057.5 399.4 L1060.6 397.7 L1063.6 397.3Z" fill="#0cbc18" stroke="#0cbc18"/>
<path d="M958.9 386.0 L962.2 385.3 L965.3 387.4 L969.7 388.3 L972.2 390.5 L976.0 390.4 L977.6 393.3 L980.3 393.6 L983.5 395.3 L986.6 397.5 L990.4 399.7 L992.9 400.2 L996.1 401.6 L1000.4 403.3 L1003.8 400.4 L1008.8 401.1 L1012.2 401.4 L1014.1 401.2 L1017.5 402.6 L1017.4 398.5 L1018.8 394.6 L1019.8 393.6 L1023.2 391.6 L1023.2 391.6 L1024.3 395.6 L1023.3 397.5 L1023.0 400.9 L1021.3 402.7 L1022.3 408.7 L1019.9 410.9 L1016.6 413.8 L1014.3 415.7 L1010.7 417.2 L1010.0 420.6 L1008.1 423.7 L1005.5 427.3 L1005.6 431.7 L1004.9 435.3 L1005.3 438.4 L1007.2 442.6 L1007.7 445.2 L1007.3 448.5 L1008.3 452.3 L1008.6 456.1 L1010.2 458.8 L1013.0 461.8 L1014.4 463.5 L1014.7 467.0 L1016.8 470.3 L1019.3 472.3 L1021.6 475.2 L1021.6 475.2 L1018.6 477.9 L1020.1 482.5 L1018.1 485.9 L1018.1 488.9 L1018.7 492.8 L1019.9 495.9 L1017.8 499.5 L1015.7 502.7 L1016.6 505.9 L1016.6 505.9 L1013.6 501.8 L1010.6 501.5 L1010.0 498.3 L1006.1 498.8 L1004.3 495.3 L1001.4 495.3 L999.8 491.8 L996.1 492.0 L994.1 491.0 L989.7 491.1 L987.4 491.5 L984.5 492.2 L981.7 493.0 L977.3 493.4 L973.9 495.3 L970.7 496.3 L965.9 496.9 L963.7 499.0 L960.6 500.6 L960.5 503.0 L960.0 499.9 L959.8 497.9 L959.2 494.3 L961.1 490.8 L960.6 487.2 L960.3 483.2 L959.0 480.0 L959.0 477.5 L957.5 473.0 L959.0 470.2 L958.3 466.9 L957.2 462.8 L956.8 459.5 L955.5 456.5 L954.0 453.2 L954.5 450.4 L953.6 448.2 L952.6 444.7 L951.0 442.8 L949.4 440.4 L947.4 438.3 L946.9 433.9 L946.4 429.9 L948.7 428.6 L951.3 427.1 L951.6 422.8 L952.4 419.0 L952.4 419.0 L953.2 415.6 L955.1 413.2 L956.9 408.2 L957.7 405.2 L957.4 402.1 L957.0 398.4 L959.4 395.5 L958.9 392.1 L959.0 388.9 L958.9 386.0Z" fill="#0cbc18" stroke="#0cbc18"/>
<path d="M1016.6 505.9 L1016.0 510.5 L1015.0 512.9 L1017.2 516.9 L1017.5 520.9 L1014.2 524.5 L1012.4 525.6 L1010.0 527.4 L1006.9 527.6 L1003.5 527.5 L1002.1 526.9 L998.9 523.9 L994.5 524.0 L992.1 523.6 L989.4 523.5 L986.7 524.9 L982.6 526.5 L978.0 528.4 L975.2 529.7 L971.2 529.4 L967.6 529.6 L965.3 532.3 L963.1 535.3 L959.2 537.0 L957.5 536.4 L954.7 533.4 L949.1 535.6 L945.9 533.1 L944.0 529.5 L941.7 528.5 L938.8 528.5 L935.6 526.3 L935.5 523.6 L935.0 521.3 L932.4 519.4 L931.0 517.6 L929.3 513.8 L928.6 511.5 L926.7 508.6 L927.3 506.1 L927.6 502.7 L925.5 500.1 L924.4 498.0 L924.3 494.1 L924.0 490.9 L921.3 489.7 L919.5 487.8 L915.3 487.2 L913.4 485.5 L911.3 484.9 L909.6 480.5 L907.3 477.2 L908.6 473.7 L908.8 470.6 L908.3 468.1 L908.3 468.1 L911.0 466.8 L912.6 463.4 L916.4 460.2 L914.1 457.0 L914.8 453.6 L913.6 449.3 L910.7 446.6 L912.2 442.2 L914.3 439.8 L913.1 434.9 L913.0 432.0 L912.7 428.9 L913.7 424.8 L914.0 422.6 L913.5 419.6 L911.2 415.8 L913.3 412.6 L913.3 412.6 L916.6 412.0 L917.7 416.1 L920.7 417.4 L922.9 417.6 L925.8 418.9 L928.8 418.7 L934.5 418.2 L937.1 418.6 L938.6 419.6 L941.1 421.8 L945.7 421.7 L948.7 421.4 L952.4 419.0 L952.4 419.0 L951.6 422.8 L951.3 427.1 L948.7 428.6 L946.4 429.9 L946.9 433.9 L947.4 438.3 L949.4 440.4 L951.0 442.8 L952.6 444.7 L953.6 448.2 L954.5 450.4 L954.0 453.2 L955.5 456.5 L956.8 459.5 L957.2 462.8 L958.3 466.9 L959.0 470.2 L957.5 473.0 L959.0 477.5 L959.0 480.0 L960.3 483.2 L960.6 487.2 L961.1 490.8 L959.2 494.3 L959.8 497.9 L960.0 499.9 L960.5 503.0 L960.6 500.6 L963.7 499.0 L965.9 496.9 L970.7 496.3 L973.9 495.3 L977.3 493.4 L981.7 493.0 L984.5 492.2 L987.4 491.5 L989.7 491.1 L994.1 491.0 L996.1 492.0 L999.8 491.8 L1001.4 495.3 L1004.3 495.3 L1006.1 498.8 L1010.0 498.3 L1010.6 501.5 L1013.6 501.8 L1016.6 505.9Z" fill="#e36242" stroke="#e36242"/>
<path d="M914.4 339.3 L918.3 337.1 L920.5 333.5 L923.4 332.1 L922.9 329.9 L922.9 325.2 L922.9 325.2 L925.1 328.8 L923.9 330.6 L926.1 331.9 L926.3 335.5 L929.2 337.3 L931.0 339.4 L932.3 341.9 L933.3 343.9 L934.7 344.7 L938.0 346.5 L939.7 343.2 L941.2 341.5 L942.2 337.6 L945.5 337.0 L947.8 334.1 L952.2 332.3 L953.1 329.3 L953.1 325.2 L953.1 325.2 L954.9 327.6 L954.4 329.7 L956.0 333.5 L958.5 336.2 L955.7 339.5 L956.4 342.7 L956.2 346.2 L955.2 350.7 L956.7 352.6 L957.0 354.9 L956.9 358.7 L960.0 361.0 L958.8 364.5 L961.6 365.2 L958.6 368.9 L959.4 374.2 L958.2 377.3 L956.5 381.2 L957.1 383.1 L958.9 386.0 L958.9 386.0 L959.0 388.9 L958.9 392.1 L959.4 395.5 L957.0 398.4 L957.4 402.1 L957.7 405.2 L956.9 408.2 L955.1 413.2 L953.2 415.6 L952.4 419.0 L952.4 419.0 L948.7 421.4 L945.7 421.7 L941.1 421.8 L938.6 419.6 L937.1 418.6 L934.5 418.2 L928.8 418.7 L925.8 418.9 L922.9 417.6 L920.7 417.4 L917.7 416.1 L916.6 412.0 L913.3 412.6 L913.3 412.6 L913.2 409.2 L910.9 406.0 L910.5 402.6 L906.9 400.5 L907.0 397.2 L905.3 395.4 L905.9 392.6 L904.7 389.5 L904.7 389.5 L905.0 386.5 L904.6 382.8 L901.5 380.1 L900.8 377.0 L900.4 372.7 L898.5 369.8 L897.9 366.6 L896.8 363.6 L894.4 361.3 L892.6 359.3 L892.7 356.7 L895.0 353.4 L895.2 350.7 L896.3 348.6 L899.1 346.9 L899.0 344.2 L902.1 340.5 L904.5 340.1 L908.4 339.0 L910.3 339.3 L914.4 339.3Z" fill="#0cbc18" stroke="#0cbc18"/>
<path d="M804.2 332.2 L806.5 330.5 L809.7 328.9 L812.8 330.1 L816.9 331.7 L820.7 333.0 L824.6 333.8 L827.5 335.3 L828.8 337.2 L830.3 340.5 L831.6 343.8 L833.6 346.6 L835.3 348.9 L836.9 347.4 L840.2 345.5 L843.1 343.3 L845.6 341.5 L848.7 339.6 L851.2 338.8 L854.5 336.3 L857.2 335.5 L861.4 335.3 L862.2 331.4 L860.3 327.1 L860.2 323.9 L858.2 320.8 L857.1 318.6 L857.2 315.3 L855.8 312.7 L853.2 309.7 L853.5 306.5 L853.5 306.5 L855.5 308.3 L859.7 310.7 L864.1 312.0 L866.7 313.6 L869.3 316.4 L872.3 316.3 L875.2 317.2 L876.7 320.1 L878.0 321.6 L881.5 323.1 L883.9 324.9 L886.4 324.4 L888.9 326.1 L888.9 326.1 L891.0 328.5 L894.7 329.2 L897.2 330.4 L898.6 333.1 L901.0 335.6 L905.7 336.6 L907.8 337.4 L911.7 338.6 L914.4 339.3 L914.4 339.3 L910.3 339.3 L908.4 339.0 L904.5 340.1 L902.1 340.5 L899.0 344.2 L899.1 346.9 L896.3 348.6 L895.2 350.7 L895.0 353.4 L892.7 356.7 L892.6 359.3 L894.4 361.3 L896.8 363.6 L897.9 366.6 L898.5 369.8 L900.4 372.7 L900.8 377.0 L901.5 380.1 L904.6 382.8 L905.0 386.5 L904.7 389.5 L904.7 389.5 L902.5 390.9 L900.1 392.6 L897.5 389.3 L894.6 387.1 L891.4 387.8 L889.2 388.9 L885.9 391.0 L883.5 391.8 L884.9 396.0 L882.2 398.6 L878.6 398.4 L875.8 400.6 L873.9 403.4 L869.6 402.4 L867.7 405.4 L865.9 402.1 L863.4 400.3 L862.8 397.0 L866.2 393.6 L865.1 389.2 L860.8 388.8 L857.8 387.2 L855.5 389.1 L852.8 387.5 L850.9 385.9 L847.9 384.2 L845.9 382.2 L843.2 381.0 L840.8 382.8 L838.5 383.2 L835.4 383.2 L832.7 384.0 L830.3 382.5 L828.2 380.0 L828.2 380.0 L826.4 377.3 L824.1 376.3 L822.0 372.9 L821.4 370.0 L818.2 368.0 L817.2 365.8 L813.3 366.2 L810.0 365.7 L808.9 364.5 L805.3 364.7 L802.7 364.9 L802.7 364.9 L800.7 361.1 L801.4 358.3 L801.4 358.3 L802.0 354.8 L799.4 353.6 L801.3 349.9 L801.5 345.5 L803.2 342.7 L802.4 339.8 L803.5 335.9 L804.2 332.2Z" fill="#a3e387" stroke="#a3e387"/>
<path d="M726.0 341.0 L728.2 338.2 L732.0 336.5 L734.9 335.5 L739.9 333.5 L742.1 333.5 L747.4 331.1 L750.5 333.3 L752.5 331.9 L754.4 332.2 L760.0 331.1 L761.9 329.1 L763.8 327.2 L767.6 325.7 L770.5 323.8 L771.2 321.4 L774.4 320.4 L777.6 319.8 L781.3 318.7 L784.0 317.1 L784.0 317.1 L785.0 321.0 L788.0 322.8 L790.5 326.0 L792.2 328.8 L795.6 329.8 L798.9 331.5 L800.7 331.4 L804.2 332.2 L804.2 332.2 L803.5 335.9 L802.4 339.8 L803.2 342.7 L801.5 345.5 L801.3 349.9 L799.4 353.6 L802.0 354.8 L801.4 358.3 L801.4 358.3 L796.9 360.1 L794.4 357.4 L792.4 357.3 L791.2 354.9 L786.7 354.3 L784.2 352.2 L781.7 353.2 L782.9 354.7 L782.0 359.9 L780.2 359.7 L775.4 358.0 L773.2 358.5 L771.8 356.5 L769.1 355.8 L766.8 357.0 L764.0 359.6 L761.6 363.4 L757.8 362.8 L755.7 360.8 L754.5 359.3 L751.0 357.2 L748.8 354.9 L745.8 355.3 L742.0 352.2 L739.8 350.7 L740.6 346.8 L739.4 344.8 L735.9 346.1 L733.7 349.6 L731.2 350.9 L727.0 350.9 L725.4 348.4 L723.5 346.4 L723.5 346.4 L724.8 343.9 L726.0 341.0Z" fill="#a3e387" stroke="#a3e387"/>
<path d="M703.4 369.0 L702.1 365.5 L700.1 363.7 L701.9 361.3 L704.1 359.4 L706.4 358.2 L707.9 355.7 L711.3 356.3 L714.1 354.1 L715.7 351.3 L718.6 351.6 L722.3 349.2 L723.5 346.4 L723.5 346.4 L725.4 348.4 L727.0 350.9 L731.2 350.9 L733.7 349.6 L735.9 346.1 L739.4 344.8 L740.6 346.8 L739.8 350.7 L742.0 352.2 L745.8 355.3 L748.8 354.9 L751.0 357.2 L754.5 359.3 L755.7 360.8 L757.8 362.8 L761.6 363.4 L764.0 359.6 L766.8 357.0 L769.1 355.8 L771.8 356.5 L773.2 358.5 L775.4 358.0 L780.2 359.7 L782.0 359.9 L782.9 354.7 L781.7 353.2 L784.2 352.2 L786.7 354.3 L791.2 354.9 L792.4 357.3 L794.4 357.4 L796.9 360.1 L801.4 358.3 L801.4 358.3 L800.7 361.1 L802.7 364.9 L802.7 364.9 L802.2 368.2 L803.3 372.7 L802.3 376.8 L803.8 378.1 L804.0 381.1 L803.8 383.9 L800.9 386.7 L798.2 388.1 L796.4 390.2 L793.5 392.0 L788.1 392.9 L784.5 393.9 L780.8 394.6 L777.6 395.7 L774.9 392.9 L772.0 391.8 L769.6 389.4 L764.5 389.7 L763.6 386.5 L760.3 385.4 L758.3 382.2 L755.9 380.7 L755.2 378.7 L751.9 380.6 L748.7 382.3 L747.1 384.5 L747.5 389.5 L743.5 391.8 L740.6 393.6 L739.9 398.0 L737.6 400.8 L737.6 400.8 L734.1 401.3 L731.2 402.7 L729.9 399.1 L726.6 397.7 L725.5 395.2 L721.3 393.4 L718.1 391.7 L715.7 388.1 L712.8 386.2 L712.4 383.4 L712.4 380.5 L715.5 377.3 L717.2 374.4 L714.1 373.5 L711.2 370.8 L707.6 371.7 L703.4 369.0Z" fill="#a3e387" stroke="#a3e387"/>
<path d="M802.7 364.9 L805.3 364.7 L808.9 364.5 L810.0 365.7 L813.3 366.2 L817.2 365.8 L818.2 368.0 L821.4 370.0 L822.0 372.9 L824.1 376.3 L826.4 377.3 L828.2 380.0 L828.2 380.0 L829.7 382.3 L830.8 384.4 L826.8 387.1 L830.7 390.7 L829.8 396.2 L832.2 397.2 L831.2 400.1 L830.2 402.4 L829.3 404.3 L826.2 408.5 L823.5 409.8 L823.1 413.0 L820.7 413.9 L816.5 413.8 L815.2 412.4 L811.1 412.3 L808.9 413.8 L805.5 413.4 L801.9 414.6 L799.7 414.3 L795.7 415.2 L791.1 414.8 L789.2 418.2 L786.2 420.2 L783.3 421.7 L781.5 424.0 L778.9 425.9 L775.4 426.7 L773.2 429.6 L772.7 432.5 L773.1 436.1 L771.5 438.6 L771.5 438.6 L769.5 434.8 L765.8 434.9 L763.6 434.1 L760.7 432.6 L757.6 431.0 L757.0 426.2 L754.9 426.2 L754.9 422.9 L753.7 419.8 L751.0 419.1 L747.9 417.4 L745.1 416.2 L742.8 412.0 L740.4 409.0 L739.9 406.4 L739.7 403.8 L737.6 400.8 L737.6 400.8 L739.9 398.0 L740.6 393.6 L743.5 391.8 L747.5 389.5 L747.1 384.5 L748.7 382.3 L751.9 380.6 L755.2 378.7 L755.9 380.7 L758.3 382.2 L760.3 385.4 L763.6 386.5 L764.5 389.7 L769.6 389.4 L772.0 391.8 L774.9 392.9 L777.6 395.7 L780.8 394.6 L784.5 393.9 L788.1 392.9 L793.5 392.0 L796.4 390.2 L798.2 388.1 L800.9 386.7 L803.8 383.9 L804.0 381.1 L803.8 378.1 L802.3 376.8 L803.3 372.7 L802.2 368.2 L802.7 364.9Z" fill="#0cbc18" stroke="#0cbc18"/>
<path d="M771.5 438.6 L774.5 440.7 L776.2 442.1 L779.0 442.2 L780.9 444.6 L783.3 445.9 L784.9 449.0 L785.8 452.2 L784.2 455.4 L778.7 457.7 L781.3 461.1 L780.0 464.1 L780.0 464.1 L783.5 462.9 L786.6 460.6 L789.2 464.3 L792.4 465.8 L794.5 468.1 L797.0 470.9 L798.7 470.0 L802.7 473.1 L804.5 473.6 L807.4 475.5 L810.4 476.2 L812.3 478.4 L815.6 478.6 L817.4 478.5 L821.2 480.5 L825.1 482.3 L827.0 484.7 L829.3 486.5 L832.7 489.3 L835.0 489.1 L836.8 490.4 L839.7 487.8 L843.0 484.8 L844.5 481.6 L849.9 483.0 L853.1 480.8 L856.5 478.6 L860.4 478.1 L862.8 482.0 L864.9 482.6 L868.7 482.7 L869.0 480.1 L871.7 476.5 L874.7 476.7 L878.1 473.0 L882.2 474.0 L885.5 472.5 L889.0 472.6 L890.6 469.1 L892.7 468.3 L896.7 470.4 L900.1 471.0 L902.2 473.4 L905.5 473.8 L904.5 473.3 L906.5 470.6 L908.3 468.1 L908.3 468.1 L911.0 466.8 L912.6 463.4 L916.4 460.2 L914.1 457.0 L914.8 453.6 L913.6 449.3 L910.7 446.6 L912.2 442.2 L914.3 439.8 L913.1 434.9 L913.0 432.0 L912.7 428.9 L913.7 424.8 L914.0 422.6 L913.5 419.6 L911.2 415.8 L913.3 412.6 L913.3 412.6 L913.2 409.2 L910.9 406.0 L910.5 402.6 L906.9 400.5 L907.0 397.2 L905.3 395.4 L905.9 392.6 L904.7 389.5 L904.7 389.5 L902.5 390.9 L900.1 392.6 L897.5 389.3 L894.6 387.1 L891.4 387.8 L889.2 388.9 L885.9 391.0 L883.5 391.8 L884.9 396.0 L882.2 398.6 L878.6 398.4 L875.8 400.6 L873.9 403.4 L869.6 402.4 L867.7 405.4 L865.9 402.1 L863.4 400.3 L862.8 397.0 L866.2 393.6 L865.1 389.2 L860.8 388.8 L857.8 387.2 L855.5 389.1 L852.8 387.5 L850.9 385.9 L847.9 384.2 L845.9 382.2 L843.2 381.0 L840.8 382.8 L838.5 383.2 L835.4 383.2 L832.7 384.0 L830.3 382.5 L828.2 380.0 L828.2 380.0 L829.7 382.3 L830.8 384.4 L826.8 387.1 L830.7 390.7 L829.8 396.2 L832.2 397.2 L831.2 400.1 L830.2 402.4 L829.3 404.3 L826.2 408.5 L823.5 409.8 L823.1 413.0 L820.7 413.9 L816.5 413.8 L815.2 412.4 L811.1 412.3 L808.9 413.8 L805.5 413.4 L801.9 414.6 L799.7 414.3 L795.7 415.2 L791.1 414.8 L789.2 418.2 L786.2 420.2 L783.3 421.7 L781.5 424.0 L778.9 425.9 L775.4 426.7 L773.2 429.6 L772.7 432.5 L773.1 436.1 L771.5 438.6Z" fill="#0cbc18" stroke="#0cbc18"/>
<path d="M690.8 377.8 L692.3 374.9 L695.7 373.6 L698.1 372.3 L702.1 370.8 L703.4 369.0 L703.4 369.0 L707.6 371.7 L711.2 370.8 L714.1 373.5 L717.2 374.4 L715.5 377.3 L712.4 380.5 L712.4 383.4 L712.8 386.2 L715.7 388.1 L718.1 391.7 L721.3 393.4 L725.5 395.2 L726.6 397.7 L729.9 399.1 L731.2 402.7 L734.1 401.3 L737.6 400.8 L737.6 400.8 L739.7 403.8 L739.9 406.4 L740.4 409.0 L742.8 412.0 L745.1 416.2 L747.9 417.4 L751.0 419.1 L753.7 419.8 L754.9 422.9 L754.9 426.2 L757.0 426.2 L757.6 431.0 L760.7 432.6 L763.6 434.1 L765.8 434.9 L769.5 434.8 L771.5 438.6 L771.5 438.6 L774.5 440.7 L776.2 442.1 L779.0 442.2 L780.9 444.6 L783.3 445.9 L784.9 449.0 L785.8 452.2 L784.2 455.4 L778.7 457.7 L781.3 461.1 L780.0 464.1 L780.0 464.1 L777.6 466.8 L774.1 465.1 L771.6 464.1 L768.2 465.6 L764.3 467.2 L761.3 467.1 L757.6 467.6 L754.4 466.6 L751.5 471.5 L747.6 470.5 L745.0 471.9 L741.0 472.0 L738.3 472.6 L735.6 474.2 L732.9 473.5 L728.7 475.6 L726.9 480.3 L726.7 483.3 L724.1 485.4 L720.3 487.5 L719.8 491.2 L719.8 491.2 L716.7 489.7 L714.1 490.9 L711.1 489.0 L707.6 488.7 L704.1 488.1 L700.3 487.4 L697.2 486.8 L694.8 483.9 L694.0 480.2 L693.1 477.7 L694.3 473.3 L697.1 472.4 L697.1 468.8 L699.3 465.6 L701.2 462.3 L701.0 458.7 L702.6 455.5 L701.1 453.2 L697.8 451.0 L698.1 446.1 L694.9 445.8 L693.5 443.9 L692.6 440.0 L690.1 436.0 L688.0 433.7 L688.8 430.2 L686.8 427.2 L683.4 427.3 L681.9 423.6 L679.9 421.8 L677.2 419.0 L675.9 415.6 L676.0 412.6 L676.1 409.5 L676.0 406.5 L677.0 404.3 L677.0 404.3 L677.9 400.7 L679.6 398.2 L679.5 393.8 L681.9 390.2 L681.9 386.8 L685.4 386.3 L687.7 383.5 L688.6 380.3 L690.8 377.8Z" fill="#e36242" stroke="#e36242"/>
<path d="M677.0 404.3 L674.2 404.9 L669.9 403.2 L666.7 403.5 L663.0 401.8 L659.2 400.5 L655.0 399.6 L652.0 396.5 L648.2 396.9 L646.3 399.2 L643.2 399.9 L640.8 400.8 L637.7 400.1 L634.4 399.7 L631.4 401.0 L627.8 401.8 L627.8 401.8 L630.3 402.9 L631.1 406.7 L633.7 408.6 L634.0 411.6 L636.3 415.5 L638.7 417.5 L638.0 420.9 L641.0 423.6 L642.6 426.9 L643.6 430.9 L642.2 435.2 L640.9 438.9 L644.3 440.4 L645.4 443.0 L647.7 445.5 L649.5 447.8 L649.1 450.9 L651.8 454.0 L653.8 455.3 L656.2 456.8 L658.0 459.8 L657.7 462.5 L656.0 466.2 L657.9 467.8 L660.6 468.3 L663.2 468.7 L664.9 467.2 L665.2 470.3 L666.2 474.0 L668.9 475.7 L669.4 478.7 L673.2 478.3 L674.8 481.4 L676.7 484.5 L676.9 488.3 L679.7 490.3 L679.5 493.4 L680.8 496.7 L681.8 498.7 L682.7 501.5 L685.1 503.9 L687.8 505.4 L691.0 504.6 L693.8 503.8 L697.1 503.5 L700.9 502.9 L705.2 502.8 L708.5 501.3 L711.3 499.4 L713.3 497.5 L716.1 495.7 L717.1 493.4 L719.8 491.2 L719.8 491.2 L716.7 489.7 L714.1 490.9 L711.1 489.0 L707.6 488.7 L704.1 488.1 L700.3 487.4 L697.2 486.8 L694.8 483.9 L694.0 480.2 L693.1 477.7 L694.3 473.3 L697.1 472.4 L697.1 468.8 L699.3 465.6 L701.2 462.3 L701.0 458.7 L702.6 455.5 L701.1 453.2 L697.8 451.0 L698.1 446.1 L694.9 445.8 L693.5 443.9 L692.6 440.0 L690.1 436.0 L688.0 433.7 L688.8 430.2 L686.8 427.2 L683.4 427.3 L681.9 423.6 L679.9 421.8 L677.2 419.0 L675.9 415.6 L676.0 412.6 L676.1 409.5 L676.0 406.5 L677.0 404.3Z" fill="#800000" stroke="#800000"/>
<path d="M627.8 401.8 L625.4 403.6 L625.4 407.7 L621.5 408.7 L620.0 410.6 L617.3 413.9 L615.3 415.0 L613.5 418.3 L610.2 419.4 L607.4 422.2 L604.3 423.2 L601.4 424.2 L598.8 427.1 L596.3 428.5 L594.6 431.7 L594.6 431.7 L596.3 435.6 L600.0 435.6 L601.7 439.3 L603.9 442.1 L605.6 445.2 L607.7 447.1 L610.1 448.9 L614.3 449.7 L616.5 450.9 L617.4 454.0 L617.9 456.2 L615.3 458.3 L613.0 460.1 L611.0 462.9 L610.1 466.1 L610.6 468.8 L613.0 470.6 L613.5 474.9 L616.6 477.8 L619.5 479.3 L621.1 483.0 L619.0 487.4 L620.7 490.6 L623.7 494.5 L622.3 498.0 L620.0 500.3 L618.1 502.8 L616.4 503.4 L612.3 503.1 L609.4 504.9 L609.8 508.2 L610.7 511.4 L610.7 511.4 L611.6 515.0 L612.7 517.7 L612.8 521.1 L615.0 523.9 L615.2 527.7 L616.3 530.5 L616.5 533.6 L617.3 539.0 L618.0 540.8 L620.4 544.2 L621.1 546.8 L618.2 550.2 L619.3 554.4 L615.0 555.5 L614.8 558.8 L614.6 563.5 L614.6 563.5 L615.5 567.2 L616.0 570.6 L616.4 573.5 L618.1 571.2 L621.7 569.9 L624.5 571.1 L625.4 565.9 L628.2 565.7 L631.5 565.6 L634.3 562.8 L637.2 562.4 L638.0 559.0 L642.0 559.1 L644.5 557.6 L646.2 554.6 L648.7 552.7 L650.7 551.2 L653.1 547.3 L656.6 546.2 L660.2 543.4 L662.9 543.7 L666.1 542.0 L669.9 541.1 L673.0 540.8 L675.7 537.1 L680.2 539.0 L681.8 539.9 L684.6 542.7 L687.1 539.6 L687.5 537.2 L691.6 537.1 L693.0 535.1 L697.3 533.6 L696.4 530.4 L700.9 528.9 L701.7 527.0 L701.8 523.8 L704.0 522.6 L705.8 520.8 L707.7 517.3 L708.6 514.2 L709.7 511.2 L709.9 507.3 L711.6 503.2 L712.6 501.6 L714.3 498.0 L716.9 496.0 L717.7 494.6 L719.8 491.2 L719.8 491.2 L717.1 493.4 L716.1 495.7 L713.3 497.5 L711.3 499.4 L708.5 501.3 L705.2 502.8 L700.9 502.9 L697.1 503.5 L693.8 503.8 L691.0 504.6 L687.8 505.4 L685.1 503.9 L682.7 501.5 L681.8 498.7 L680.8 496.7 L679.5 493.4 L679.7 490.3 L676.9 488.3 L676.7 484.5 L674.8 481.4 L673.2 478.3 L669.4 478.7 L668.9 475.7 L666.2 474.0 L665.2 470.3 L664.9 467.2 L663.2 468.7 L660.6 468.3 L657.9 467.8 L656.0 466.2 L657.7 462.5 L658.0 459.8 L656.2 456.8 L653.8 455.3 L651.8 454.0 L649.1 450.9 L649.5 447.8 L647.7 445.5 L645.4 443.0 L644.3 440.4 L640.9 438.9 L642.2 435.2 L643.6 430.9 L642.6 426.9 L641.0 423.6 L638.0 420.9 L638.7 417.5 L636.3 415.5 L634.0 411.6 L633.7 408.6 L631.1 406.7 L630.3 402.9 L627.8 401.8Z" fill="#800000" stroke="#800000"/>
<path d="M594.6 431.7 L592.0 433.3 L592.5 438.2 L588.2 437.7 L586.5 438.6 L583.3 440.6 L583.3 440.6 L585.6 442.4 L589.2 444.8 L591.4 448.9 L586.3 450.2 L584.3 453.2 L582.5 455.4 L579.1 458.3 L576.5 460.9 L573.4 464.0 L567.3 463.3 L567.3 463.3 L567.4 466.2 L568.0 469.6 L568.2 473.3 L566.3 475.3 L567.9 478.5 L568.3 482.5 L570.1 485.5 L572.3 488.7 L575.2 490.2 L577.2 492.9 L581.7 495.2 L575.8 497.0 L574.6 500.0 L574.3 501.2 L573.6 504.2 L576.1 505.6 L577.8 506.7 L579.9 508.3 L583.0 509.7 L585.9 510.7 L588.6 512.6 L590.9 514.1 L594.7 514.1 L599.0 515.8 L602.5 512.7 L605.6 514.6 L608.5 512.1 L610.7 511.4 L610.7 511.4 L609.8 508.2 L609.4 504.9 L612.3 503.1 L616.4 503.4 L618.1 502.8 L620.0 500.3 L622.3 498.0 L623.7 494.5 L620.7 490.6 L619.0 487.4 L621.1 483.0 L619.5 479.3 L616.6 477.8 L613.5 474.9 L613.0 470.6 L610.6 468.8 L610.1 466.1 L611.0 462.9 L613.0 460.1 L615.3 458.3 L617.9 456.2 L617.4 454.0 L616.5 450.9 L614.3 449.7 L610.1 448.9 L607.7 447.1 L605.6 445.2 L603.9 442.1 L601.7 439.3 L600.0 435.6 L596.3 435.6 L594.6 431.7Z" fill="#0cbc18" stroke="#0cbc18"/>
<path d="M567.3 463.3 L563.4 460.8 L561.6 460.9 L558.3 460.9 L555.2 464.1 L552.3 466.3 L549.6 466.7 L547.4 468.8 L545.6 470.8 L540.2 471.3 L538.8 472.7 L536.5 472.3 L534.1 473.3 L531.1 472.8 L528.9 472.0 L527.3 470.8 L525.9 475.2 L527.4 477.3 L526.8 481.4 L529.6 485.0 L529.1 487.8 L531.2 490.4 L529.6 493.6 L530.1 496.7 L530.1 496.7 L531.3 499.7 L532.4 501.7 L533.3 504.4 L536.7 506.2 L534.6 509.4 L537.1 511.2 L537.8 513.5 L540.6 514.9 L541.2 518.9 L545.2 520.8 L546.5 523.5 L545.6 526.0 L547.4 528.3 L551.2 530.7 L554.0 531.4 L555.9 531.5 L553.7 534.5 L554.5 538.4 L553.5 541.2 L552.8 543.2 L552.4 545.6 L552.9 548.4 L552.9 548.4 L557.0 547.1 L558.6 544.7 L562.0 543.5 L564.4 542.6 L567.3 541.0 L570.2 542.5 L574.1 543.1 L574.4 546.0 L577.0 548.3 L577.4 551.7 L581.7 551.5 L586.0 551.9 L588.8 554.5 L591.2 557.2 L594.6 558.5 L596.3 561.1 L595.4 563.3 L596.9 566.6 L599.3 564.1 L602.6 561.9 L606.8 560.8 L610.8 560.7 L614.6 563.5 L614.6 563.5 L614.8 558.8 L615.0 555.5 L619.3 554.4 L618.2 550.2 L621.1 546.8 L620.4 544.2 L618.0 540.8 L617.3 539.0 L616.5 533.6 L616.3 530.5 L615.2 527.7 L615.0 523.9 L612.8 521.1 L612.7 517.7 L611.6 515.0 L610.7 511.4 L610.7 511.4 L608.5 512.1 L605.6 514.6 L602.5 512.7 L599.0 515.8 L594.7 514.1 L590.9 514.1 L588.6 512.6 L585.9 510.7 L583.0 509.7 L579.9 508.3 L577.8 506.7 L576.1 505.6 L573.6 504.2 L574.3 501.2 L574.6 500.0 L575.8 497.0 L581.7 495.2 L577.2 492.9 L575.2 490.2 L572.3 488.7 L570.1 485.5 L568.3 482.5 L567.9 478.5 L566.3 475.3 L568.2 473.3 L568.0 469.6 L567.4 466.2 L567.3 463.3Z" fill="#e36242" stroke="#e36242"/>
<path d="M530.1 496.7 L527.2 499.4 L523.8 500.1 L523.8 500.1 L520.4 503.3 L519.3 505.9 L517.7 509.7 L518.2 513.4 L517.3 517.1 L517.7 519.8 L517.3 522.8 L513.2 522.9 L509.7 522.4 L509.2 519.9 L509.5 517.1 L506.3 513.6 L506.0 509.6 L506.0 505.9 L506.8 502.0 L506.8 502.0 L504.9 503.9 L501.3 505.6 L499.3 507.0 L498.9 508.3 L496.0 510.0 L495.1 515.9 L494.9 519.2 L494.3 523.1 L497.6 526.0 L494.3 530.4 L493.5 533.1 L491.0 533.2 L490.1 536.7 L487.1 537.5 L484.8 539.8 L483.0 538.7 L479.6 540.5 L476.9 540.2 L475.1 537.6 L472.2 538.7 L470.4 540.3 L469.0 543.8 L467.5 545.0 L467.5 545.0 L467.4 547.8 L467.6 549.8 L464.8 553.7 L465.8 557.5 L462.5 561.1 L464.0 564.0 L463.3 566.8 L462.5 570.6 L459.0 571.7 L456.3 574.2 L457.4 577.0 L457.4 577.0 L460.1 578.1 L462.3 579.0 L465.3 579.5 L469.1 577.9 L472.6 580.9 L476.5 580.3 L480.2 583.2 L484.3 581.8 L487.7 583.2 L491.3 581.9 L493.0 584.7 L497.0 584.9 L499.4 585.4 L501.3 582.6 L503.3 580.4 L506.0 579.5 L510.2 580.2 L513.9 580.7 L517.7 579.3 L522.0 578.2 L525.5 577.9 L529.8 577.4 L532.3 579.4 L535.2 581.1 L536.5 578.5 L539.3 576.1 L540.7 573.6 L543.3 568.7 L545.8 567.2 L545.8 563.6 L547.4 560.2 L548.7 557.0 L549.0 553.0 L552.3 551.3 L552.9 548.4 L552.9 548.4 L552.4 545.6 L552.8 543.2 L553.5 541.2 L554.5 538.4 L553.7 534.5 L555.9 531.5 L554.0 531.4 L551.2 530.7 L547.4 528.3 L545.6 526.0 L546.5 523.5 L545.2 520.8 L541.2 518.9 L540.6 514.9 L537.8 513.5 L537.1 511.2 L534.6 509.4 L536.7 506.2 L533.3 504.4 L532.4 501.7 L531.3 499.7 L530.1 496.7Z" fill="#e36242" stroke="#e36242"/>
<path d="M506.8 502.0 L507.2 498.3 L506.1 496.4 L505.2 493.7 L505.1 490.0 L502.0 491.4 L498.5 492.6 L494.9 492.9 L490.9 495.7 L487.7 494.1 L484.8 492.8 L482.3 491.4 L480.4 488.8 L476.5 488.4 L473.7 486.7 L470.9 484.9 L468.6 483.9 L466.2 482.0 L466.2 482.0 L465.7 484.6 L463.3 486.9 L462.3 488.9 L458.7 490.2 L457.5 492.8 L454.8 493.1 L453.0 497.8 L449.1 496.4 L451.4 502.1 L448.1 503.9 L445.7 505.9 L442.6 506.7 L440.2 510.3 L437.8 511.8 L435.0 511.7 L432.2 512.7 L432.2 512.7 L430.6 516.7 L430.1 518.4 L428.4 520.6 L425.8 523.0 L425.3 526.7 L424.5 531.1 L424.3 533.9 L423.7 538.3 L425.0 542.0 L423.4 544.6 L421.5 546.4 L420.7 549.3 L425.1 547.4 L429.2 547.4 L431.5 548.2 L434.0 549.8 L438.0 550.9 L440.7 554.5 L443.5 550.7 L445.8 548.3 L449.5 547.0 L453.5 547.1 L457.5 546.8 L462.1 547.7 L464.3 547.4 L467.5 545.0 L467.5 545.0 L469.0 543.8 L470.4 540.3 L472.2 538.7 L475.1 537.6 L476.9 540.2 L479.6 540.5 L483.0 538.7 L484.8 539.8 L487.1 537.5 L490.1 536.7 L491.0 533.2 L493.5 533.1 L494.3 530.4 L497.6 526.0 L494.3 523.1 L494.9 519.2 L495.1 515.9 L496.0 510.0 L498.9 508.3 L499.3 507.0 L501.3 505.6 L504.9 503.9 L506.8 502.0Z" fill="#0cbc18" stroke="#0cbc18"/>
<path d="M466.2 482.0 L466.4 478.7 L464.8 476.4 L464.1 473.1 L463.4 469.4 L462.5 466.0 L462.4 462.0 L462.9 459.9 L464.6 456.3 L462.2 453.5 L461.5 450.2 L459.7 447.1 L459.7 447.1 L457.2 446.4 L454.3 446.4 L453.6 448.1 L450.5 449.2 L450.3 452.3 L446.1 451.7 L444.5 456.3 L443.2 459.6 L443.3 463.8 L442.0 466.4 L439.5 469.8 L439.5 469.8 L437.3 471.8 L437.1 475.9 L433.6 476.1 L430.3 479.6 L428.4 481.0 L423.4 480.3 L421.3 480.9 L418.1 482.4 L418.1 482.4 L419.8 484.5 L422.5 488.0 L424.4 490.2 L424.3 494.9 L428.5 498.6 L427.7 501.9 L430.0 503.7 L429.2 506.7 L432.7 509.5 L432.2 512.7 L432.2 512.7 L435.0 511.7 L437.8 511.8 L440.2 510.3 L442.6 506.7 L445.7 505.9 L448.1 503.9 L451.4 502.1 L449.1 496.4 L453.0 497.8 L454.8 493.1 L457.5 492.8 L458.7 490.2 L462.3 488.9 L463.3 486.9 L465.7 484.6 L466.2 482.0Z" fill="#a3e387" stroke="#a3e387"/>
<path d="M438.3 395.4 L441.5 395.0 L442.9 393.1 L446.7 391.3 L449.0 392.9 L452.0 394.0 L455.1 394.9 L456.6 398.4 L459.2 398.3 L461.6 397.9 L464.7 399.7 L468.5 398.2 L468.5 398.2 L468.1 401.2 L466.9 405.0 L468.1 407.8 L469.2 411.2 L469.8 414.4 L469.8 414.4 L467.4 416.6 L466.2 419.2 L465.9 422.4 L462.4 426.7 L462.1 430.1 L464.0 433.1 L463.5 435.6 L464.3 439.6 L463.7 443.1 L461.9 444.5 L459.7 447.1 L459.7 447.1 L457.2 446.4 L454.3 446.4 L453.6 448.1 L450.5 449.2 L450.3 452.3 L446.1 451.7 L444.5 456.3 L443.2 459.6 L443.3 463.8 L442.0 466.4 L439.5 469.8 L439.5 469.8 L436.7 469.0 L434.6 468.5 L430.8 467.6 L426.8 466.8 L424.5 467.5 L420.8 464.8 L419.3 463.0 L417.4 460.8 L416.0 458.6 L414.4 455.0 L413.2 453.6 L412.9 450.0 L409.0 449.4 L410.3 445.9 L409.9 443.8 L411.4 441.7 L410.5 436.8 L409.9 432.6 L407.6 430.9 L405.5 427.9 L403.4 424.7 L403.4 424.7 L406.4 424.9 L409.4 422.7 L412.4 424.3 L415.1 425.0 L414.4 421.8 L416.4 418.9 L418.5 416.9 L421.0 415.4 L421.3 412.3 L424.2 410.4 L426.5 408.5 L428.0 407.4 L430.6 405.6 L432.9 404.1 L433.3 401.1 L436.5 399.2 L438.3 395.4Z" fill="#a3e387" stroke="#a3e387"/>
<path d="M469.8 414.4 L472.0 415.9 L474.0 418.7 L477.7 419.5 L479.0 421.5 L480.5 424.1 L484.5 423.5 L485.8 425.6 L488.8 426.0 L491.2 430.9 L494.4 428.2 L498.1 427.3 L500.1 426.9 L504.0 428.0 L504.6 430.1 L505.4 433.6 L509.4 432.9 L514.2 433.6 L517.2 432.6 L520.9 431.5 L525.8 431.1 L529.3 432.2 L532.2 429.3 L535.8 427.1 L540.9 429.5 L543.5 427.6 L547.2 427.5 L551.2 428.3 L551.2 428.3 L549.0 432.0 L545.6 432.6 L544.7 435.4 L542.9 435.3 L540.5 438.6 L537.5 437.7 L535.0 436.7 L532.2 438.3 L529.1 440.2 L526.5 440.3 L523.8 442.8 L522.9 445.5 L519.1 447.5 L516.9 449.2 L512.3 449.5 L513.2 453.8 L515.1 456.9 L512.8 460.5 L512.8 462.9 L507.2 463.7 L505.3 467.2 L506.0 471.7 L509.8 476.0 L511.1 478.0 L509.2 480.5 L511.3 485.2 L514.5 485.4 L517.7 484.6 L520.2 489.6 L520.3 492.0 L521.1 494.7 L521.9 497.4 L523.8 500.1 L523.8 500.1 L520.4 503.3 L519.3 505.9 L517.7 509.7 L518.2 513.4 L517.3 517.1 L517.7 519.8 L517.3 522.8 L513.2 522.9 L509.7 522.4 L509.2 519.9 L509.5 517.1 L506.3 513.6 L506.0 509.6 L506.0 505.9 L506.8 502.0 L506.8 502.0 L507.2 498.3 L506.1 496.4 L505.2 493.7 L505.1 490.0 L502.0 491.4 L498.5 492.6 L494.9 492.9 L490.9 495.7 L487.7 494.1 L484.8 492.8 L482.3 491.4 L480.4 488.8 L476.5 488.4 L473.7 486.7 L470.9 484.9 L468.6 483.9 L466.2 482.0 L466.2 482.0 L466.4 478.7 L464.8 476.4 L464.1 473.1 L463.4 469.4 L462.5 466.0 L462.4 462.0 L462.9 459.9 L464.6 456.3 L462.2 453.5 L461.5 450.2 L459.7 447.1 L459.7 447.1 L461.9 444.5 L463.7 443.1 L464.3 439.6 L463.5 435.6 L464.0 433.1 L462.1 430.1 L462.4 426.7 L465.9 422.4 L466.2 419.2 L467.4 416.6 L469.8 414.4Z" fill="#e8e046" stroke="#e8e046"/>
<path d="M551.2 428.3 L549.0 432.0 L545.6 432.6 L544.7 435.4 L542.9 435.3 L540.5 438.6 L537.5 437.7 L535.0 436.7 L532.2 438.3 L529.1 440.2 L526.5 440.3 L523.8 442.8 L522.9 445.5 L519.1 447.5 L516.9 449.2 L512.3 449.5 L513.2 453.8 L515.1 456.9 L512.8 460.5 L512.8 462.9 L507.2 463.7 L505.3 467.2 L506.0 471.7 L509.8 476.0 L511.1 478.0 L509.2 480.5 L511.3 485.2 L514.5 485.4 L517.7 484.6 L520.2 489.6 L520.3 492.0 L521.1 494.7 L521.9 497.4 L523.8 500.1 L523.8 500.1 L527.2 499.4 L530.1 496.7 L530.1 496.7 L529.6 493.6 L531.2 490.4 L529.1 487.8 L529.6 485.0 L526.8 481.4 L527.4 477.3 L525.9 475.2 L527.3 470.8 L528.9 472.0 L531.1 472.8 L534.1 473.3 L536.5 472.3 L538.8 472.7 L540.2 471.3 L545.6 470.8 L547.4 468.8 L549.6 466.7 L552.3 466.3 L555.2 464.1 L558.3 460.9 L561.6 460.9 L563.4 460.8 L567.3 463.3 L567.3 463.3 L573.4 464.0 L576.5 460.9 L579.1 458.3 L582.5 455.4 L584.3 453.2 L586.3 450.2 L591.4 448.9 L589.2 444.8 L585.6 442.4 L583.3 440.6 L583.3 440.6 L581.4 438.2 L578.3 438.1 L575.3 436.2 L572.7 434.0 L569.4 431.2 L566.5 431.2 L562.4 429.6 L558.3 428.7 L555.1 427.9 L551.2 428.3Z" fill="#a3e387" stroke="#a3e387"/>
<path d="M474.4 363.2 L478.4 362.0 L482.2 363.0 L484.9 364.0 L484.9 364.0 L489.0 364.8 L491.5 366.4 L495.3 364.0 L499.5 362.9 L502.6 363.7 L507.1 365.1 L510.0 365.4 L513.2 364.8 L516.5 367.4 L514.6 369.2 L514.9 372.7 L517.8 371.7 L521.1 372.8 L523.8 371.9 L526.2 369.9 L527.5 368.3 L530.2 366.9 L531.2 364.0 L531.2 364.0 L532.5 366.9 L535.1 368.0 L537.1 370.3 L537.5 373.6 L538.8 375.1 L540.8 376.6 L537.5 379.3 L536.9 382.0 L536.7 385.1 L537.2 388.1 L539.4 390.9 L542.8 392.8 L543.0 395.9 L546.6 395.6 L546.4 401.8 L551.2 402.8 L552.8 405.3 L553.6 408.7 L553.0 410.4 L554.2 414.6 L553.7 416.5 L551.5 418.7 L547.8 421.0 L548.5 423.5 L549.3 425.5 L551.2 428.3 L551.2 428.3 L547.2 427.5 L543.5 427.6 L540.9 429.5 L535.8 427.1 L532.2 429.3 L529.3 432.2 L525.8 431.1 L520.9 431.5 L517.2 432.6 L514.2 433.6 L509.4 432.9 L505.4 433.6 L504.6 430.1 L504.0 428.0 L500.1 426.9 L498.1 427.3 L494.4 428.2 L491.2 430.9 L488.8 426.0 L485.8 425.6 L484.5 423.5 L480.5 424.1 L479.0 421.5 L477.7 419.5 L474.0 418.7 L472.0 415.9 L469.8 414.4 L469.8 414.4 L469.2 411.2 L468.1 407.8 L466.9 405.0 L468.1 401.2 L468.5 398.2 L468.5 398.2 L468.3 395.0 L470.9 392.2 L469.9 390.1 L468.8 387.1 L467.3 384.5 L468.5 381.7 L466.6 377.7 L469.0 374.4 L469.6 372.2 L471.4 368.8 L473.4 365.6 L474.4 363.2Z" fill="#e6e088" stroke="#e6e088"/>
<path d="M531.2 364.0 L533.2 359.1 L536.0 357.7 L537.8 356.5 L537.8 356.5 L541.3 356.9 L545.1 355.2 L547.1 355.2 L551.9 353.0 L555.8 354.4 L558.8 354.6 L563.2 353.4 L565.0 352.8 L569.6 353.4 L572.5 354.8 L576.4 355.1 L580.0 355.4 L582.5 358.5 L586.0 358.1 L588.1 361.6 L591.2 361.0 L593.2 363.0 L595.4 364.0 L597.4 365.6 L600.3 367.0 L603.6 366.2 L606.5 365.7 L610.2 366.8 L613.5 367.5 L618.4 367.6 L623.2 369.2 L625.4 366.5 L629.6 366.7 L632.9 366.0 L636.2 368.0 L641.4 369.1 L644.5 368.7 L647.5 368.6 L650.4 369.0 L650.4 369.0 L654.0 369.7 L656.9 370.6 L660.4 372.4 L663.7 371.5 L667.6 372.6 L670.3 373.0 L673.3 374.3 L676.9 373.9 L679.7 375.7 L683.4 375.9 L687.4 377.1 L690.8 377.8 L690.8 377.8 L688.6 380.3 L687.7 383.5 L685.4 386.3 L681.9 386.8 L681.9 390.2 L679.5 393.8 L679.6 398.2 L677.9 400.7 L677.0 404.3 L677.0 404.3 L674.2 404.9 L669.9 403.2 L666.7 403.5 L663.0 401.8 L659.2 400.5 L655.0 399.6 L652.0 396.5 L648.2 396.9 L646.3 399.2 L643.2 399.9 L640.8 400.8 L637.7 400.1 L634.4 399.7 L631.4 401.0 L627.8 401.8 L627.8 401.8 L625.4 403.6 L625.4 407.7 L621.5 408.7 L620.0 410.6 L617.3 413.9 L615.3 415.0 L613.5 418.3 L610.2 419.4 L607.4 422.2 L604.3 423.2 L601.4 424.2 L598.8 427.1 L596.3 428.5 L594.6 431.7 L594.6 431.7 L592.0 433.3 L592.5 438.2 L588.2 437.7 L586.5 438.6 L583.3 440.6 L583.3 440.6 L581.4 438.2 L578.3 438.1 L575.3 436.2 L572.7 434.0 L569.4 431.2 L566.5 431.2 L562.4 429.6 L558.3 428.7 L555.1 427.9 L551.2 428.3 L551.2 428.3 L549.3 425.5 L548.5 423.5 L547.8 421.0 L551.5 418.7 L553.7 416.5 L554.2 414.6 L553.0 410.4 L553.6 408.7 L552.8 405.3 L551.2 402.8 L546.4 401.8 L546.6 395.6 L543.0 395.9 L542.8 392.8 L539.4 390.9 L537.2 388.1 L536.7 385.1 L536.9 382.0 L537.5 379.3 L540.8 376.6 L538.8 375.1 L537.5 373.6 L537.1 370.3 L535.1 368.0 L532.5 366.9 L531.2 364.0Z" fill="#a3e387" stroke="#a3e387"/>
<path d="M377.1 505.5 L379.6 504.5 L381.3 499.8 L383.5 497.6 L387.2 497.3 L390.6 498.2 L394.2 497.5 L398.7 495.4 L400.5 493.2 L403.0 491.5 L406.3 492.6 L408.5 490.3 L410.2 489.0 L412.8 487.3 L414.6 484.6 L418.1 482.4 L418.1 482.4 L419.8 484.5 L422.5 488.0 L424.4 490.2 L424.3 494.9 L428.5 498.6 L427.7 501.9 L430.0 503.7 L429.2 506.7 L432.7 509.5 L432.2 512.7 L432.2 512.7 L430.6 516.7 L430.1 518.4 L428.4 520.6 L425.8 523.0 L425.3 526.7 L424.5 531.1 L424.3 533.9 L423.7 538.3 L425.0 542.0 L423.4 544.6 L421.5 546.4 L420.7 549.3 L425.1 547.4 L429.2 547.4 L431.5 548.2 L434.0 549.8 L438.0 550.9 L440.7 554.5 L443.5 550.7 L445.8 548.3 L449.5 547.0 L453.5 547.1 L457.5 546.8 L462.1 547.7 L464.3 547.4 L467.5 545.0 L467.5 545.0 L467.4 547.8 L467.6 549.8 L464.8 553.7 L465.8 557.5 L462.5 561.1 L464.0 564.0 L463.3 566.8 L462.5 570.6 L459.0 571.7 L456.3 574.2 L457.4 577.0 L457.4 577.0 L454.6 578.8 L451.5 578.3 L448.1 578.8 L443.9 580.7 L440.0 580.0 L436.1 580.4 L432.7 581.3 L428.6 582.8 L426.3 583.1 L423.8 584.1 L422.9 585.6 L421.2 588.1 L420.6 592.6 L417.7 595.3 L416.0 596.8 L413.4 599.3 L409.8 602.0 L409.3 603.5 L410.8 607.2 L410.8 607.2 L407.1 607.5 L403.9 605.7 L400.6 606.0 L396.9 606.8 L393.6 606.5 L390.9 606.2 L387.5 604.9 L383.7 604.0 L379.8 603.3 L377.0 604.9 L373.5 607.1 L370.1 605.5 L366.8 605.3 L364.5 604.0 L359.7 603.8 L357.8 601.5 L355.9 599.6 L353.7 596.5 L353.5 592.9 L356.0 589.8 L356.1 585.7 L356.4 582.7 L354.2 579.3 L353.0 575.5 L354.0 571.6 L352.5 569.7 L352.5 567.3 L354.7 565.7 L355.6 562.6 L357.7 560.8 L357.1 557.1 L357.0 553.5 L354.0 551.8 L350.9 550.3 L348.2 548.0 L345.4 546.4 L345.5 543.7 L342.4 541.5 L339.7 537.4 L339.7 537.4 L340.7 532.7 L342.5 531.6 L344.3 529.6 L347.0 526.7 L351.8 528.2 L354.1 526.6 L355.1 523.8 L354.7 520.2 L352.2 517.2 L352.2 517.2 L355.6 514.5 L356.8 513.6 L360.7 513.5 L363.1 513.2 L365.3 510.7 L365.2 506.7 L367.7 504.2 L371.3 500.2 L375.0 502.4 L377.1 505.5Z" fill="#a3e387" stroke="#a3e387"/>
</g>
<path d="M180.4 365.8 L178.1 367.5 L176.9 371.2 L173.0 371.9 L170.3 372.4 L166.1 373.2 L164.6 375.4 L162.1 377.2 L159.4 379.9 L155.5 378.7 L155.0 381.6 L152.3 384.2 L149.5 385.0 L146.5 385.9 L143.3 384.9 L141.9 381.6 L138.8 382.3 L135.9 385.2 L133.4 382.8 L130.3 383.8 L127.1 384.7 L124.3 384.8 L121.2 384.0 L117.3 385.3 L113.6 385.9 M172.1 435.8 L173.7 432.5 L175.4 430.5 L178.8 428.9 L180.5 425.7 L183.8 427.1 L186.1 423.4 L188.8 422.1 L193.2 420.8 L195.3 418.9 L197.5 416.4 L201.0 415.1 L203.1 412.4 L206.9 410.9 L206.6 407.3 M240.1 396.7 L239.9 394.0 L241.4 390.8 L241.2 387.3 L241.9 385.4 L239.4 381.8 L238.3 379.1 L235.9 377.5 L234.2 375.9 L231.6 373.5 L228.8 372.7 L228.7 369.1 L227.8 365.6 L227.6 362.8 L228.9 359.3 L228.2 355.2 M268.5 333.8 L269.0 337.5 L267.7 340.4 L266.8 342.3 L267.3 346.8 L269.2 350.1 L270.4 351.7 L271.5 355.4 L272.5 360.6 L271.9 363.3 L271.1 366.4 L275.1 366.5 L279.8 367.6 L282.0 370.4 L283.1 372.3 L284.7 375.0 L287.3 378.6 L289.1 381.0 L291.7 384.1 M291.7 384.1 L290.7 387.6 L293.6 390.8 L289.7 394.2 M261.5 440.8 L259.6 443.5 L258.1 445.0 L255.9 446.5 L253.0 447.1 L251.4 444.7 L248.2 443.7 L245.9 441.3 L244.4 443.2 L243.1 445.2 L240.7 448.1 L239.7 449.9 L235.9 451.6 L234.2 451.2 L231.2 450.4 M231.2 450.4 L228.7 448.2 L227.3 446.2 L224.8 444.9 L223.4 440.4 L222.6 438.1 L220.9 435.3 L219.6 433.9 L219.0 429.4 L217.5 426.5 L215.2 424.2 L211.9 421.2 L211.4 418.2 L212.3 414.9 L211.8 411.8 L214.4 408.6 L214.1 405.0 M248.9 487.4 L246.5 488.8 L244.7 491.5 L240.1 491.2 M240.1 491.2 L238.4 488.5 L236.5 487.4 L234.4 484.8 L230.7 483.3 L232.4 479.6 L234.2 476.0 L233.3 473.4 L233.7 469.6 L235.8 466.7 L234.4 463.4 L232.7 460.8 L228.7 459.0 L231.2 455.6 L231.1 453.0 L231.2 450.4 M240.1 491.2 L236.8 491.8 L233.2 492.7 L230.9 494.3 L227.8 496.6 L225.7 499.9 L224.2 502.2 L220.4 503.8 L216.7 504.5 L213.6 507.5 L211.4 507.6 L208.4 509.2 L206.0 510.0 L204.2 510.3 L200.8 510.3 L199.0 508.1 L197.1 505.0 L194.7 502.7 M162.7 451.4 L160.3 452.7 L157.5 453.9 L155.6 456.2 L154.4 458.5 L153.7 461.2 L149.4 462.8 L150.4 467.3 L147.4 466.9 L144.5 470.2 L143.1 472.4 L141.9 474.6 L140.3 476.9 L140.6 481.4 L137.3 483.4 L137.0 486.4 L134.3 488.0 L132.6 490.7 L130.0 493.6 L130.1 498.1 L128.2 500.9 L126.0 502.4 M94.0 492.6 L94.9 495.5 L97.7 497.7 L101.0 497.0 L104.0 500.1 L108.3 497.3 L110.8 501.6 L115.0 503.0 L117.4 502.8 L119.7 501.4 L122.9 502.3 L126.0 502.4 M126.0 502.4 L129.8 502.0 L133.0 501.3 L136.0 503.5 L138.2 503.7 L139.6 505.1 L142.7 505.2 L147.5 504.9 L150.4 507.3 L153.6 505.9 L155.7 503.7 L158.5 503.1 L161.8 502.2 L163.6 500.4 L168.2 498.2 L169.4 494.6 L174.7 495.0 L178.3 493.6 L181.6 492.9 L184.7 491.2 M160.2 546.0 L158.1 542.7 L154.0 541.3 L151.9 539.1 L149.0 537.2 L146.1 534.6 L145.4 530.7 L142.6 528.5 L142.7 524.0 L140.8 519.5 L139.5 517.2 L140.8 515.1 L138.6 511.1 L136.6 509.0 L134.1 507.4 L131.4 504.8 L129.3 503.7 L126.0 502.4 M183.4 534.1 L184.5 535.6 L185.7 538.7 L188.4 541.4 L190.6 543.4 L192.8 544.7 L196.1 546.1 L198.5 546.8 L201.2 548.2 L204.0 547.9 L207.3 547.7 L208.2 549.5 L210.7 552.2 L214.4 552.6 L217.1 556.4 L219.0 557.4 L222.2 559.2 L224.1 560.5 L226.0 561.0 L228.5 563.7 L232.4 563.3 L232.9 567.7 L234.8 569.6 L236.0 573.1 L239.8 574.4 L240.3 578.3 L241.6 581.6 L243.1 583.7 L246.0 585.5 L247.4 587.8 L251.4 588.8 M255.2 509.0 L259.1 507.8 L260.0 504.5 L264.3 506.2 L264.7 509.5 L269.3 509.4 L269.9 511.6 L272.1 512.9 L274.7 514.8 L276.2 518.1 L277.9 522.3 L278.4 524.5 L277.2 528.0 L277.6 530.0 L277.1 533.5 L276.7 536.4 L277.1 539.2 M277.1 539.2 L274.4 542.8 L274.3 544.9 L275.7 548.9 L276.2 553.4 L273.8 556.6 L274.8 561.1 L273.6 563.6 L273.3 568.4 L275.2 571.9 L277.6 575.1 L273.5 578.6 L273.2 582.2 L271.5 585.1 L270.3 588.3 M270.3 588.3 L266.3 590.8 L263.6 589.1 L259.1 589.9 L255.5 588.2 L251.4 588.8 M270.3 588.3 L271.9 590.5 L274.9 593.0 L276.0 597.8 L279.1 596.5 L282.7 596.3 L285.7 595.4 L289.0 596.3 L292.4 593.5 L296.0 595.9 L299.0 596.9 L302.6 596.0 L306.3 595.1 L309.7 597.1 L313.5 596.5 L316.2 596.4 L319.4 598.0 L322.5 599.5 L324.8 600.2 L329.5 601.3 L332.7 603.5 L333.4 606.7 L335.5 609.4 L333.4 611.9 L335.8 614.6 L335.3 617.1 L338.9 618.8 L339.1 621.9 L342.3 623.0 L344.0 624.6 L345.9 626.9 L347.7 628.1 L351.0 629.6 L352.6 631.2 L355.0 633.2 L356.9 633.8 L360.2 637.3 L362.6 639.0 L364.7 640.6 L366.0 642.8 L360.5 646.1 L360.6 650.0 L360.4 653.8 M277.1 539.2 L279.5 541.6 L280.3 545.4 L283.8 545.0 L287.5 545.3 L290.1 542.6 L294.9 541.6 L296.5 538.3 L299.8 539.4 L302.1 537.4 L304.6 537.4 L307.6 534.7 L311.0 536.1 L313.4 536.9 L315.3 539.4 L317.9 538.6 L321.2 538.0 L320.9 535.5 L324.0 532.4 L325.8 534.8 L326.7 537.7 L329.8 539.0 L333.3 540.6 L336.6 538.9 L339.7 537.4 M339.7 537.4 L342.4 541.5 L345.5 543.7 L345.4 546.4 L348.2 548.0 L350.9 550.3 L354.0 551.8 L357.0 553.5 L357.1 557.1 L357.7 560.8 L355.6 562.6 L354.7 565.7 L352.5 567.3 L352.5 569.7 L354.0 571.6 L353.0 575.5 L354.2 579.3 L356.4 582.7 L356.1 585.7 L356.0 589.8 L353.5 592.9 L353.7 596.5 L355.9 599.6 L357.8 601.5 L359.7 603.8 L364.5 604.0 L366.8 605.3 L370.1 605.5 L373.5 607.1 L377.0 604.9 L379.8 603.3 L383.7 604.0 L387.5 604.9 L390.9 606.2 L393.6 606.5 L396.9 606.8 L400.6 606.0 L403.9 605.7 L407.1 607.5 L410.8 607.2 M277.9 460.4 L282.0 460.8 L283.9 460.8 L286.2 462.1 L290.5 462.6 L293.0 462.7 L295.5 466.2 L297.4 467.8 L300.2 467.8 L302.4 469.7 L303.4 467.9 L307.0 467.6 L308.6 465.3 L312.4 466.4 L316.4 466.4 L318.0 467.9 L320.7 468.1 M320.7 468.1 L321.1 472.2 L324.3 473.9 L324.6 476.1 L326.4 478.4 L328.2 480.6 L330.1 483.4 L330.5 485.3 L331.2 489.9 L329.5 492.6 L330.5 496.9 L331.3 500.9 L335.3 503.3 L337.0 506.4 L340.2 505.3 L343.5 508.1 L346.7 509.4 L346.9 513.6 L351.6 514.8 L352.2 517.2 M352.2 517.2 L354.7 520.2 L355.1 523.8 L354.1 526.6 L351.8 528.2 L347.0 526.7 L344.3 529.6 L342.5 531.6 L340.7 532.7 L339.7 537.4 M340.9 454.3 L338.2 455.7 L334.7 457.4 L331.5 459.0 L327.7 459.1 L325.5 463.3 L323.6 466.2 L320.7 468.1 M326.3 414.8 L328.8 413.4 L330.1 411.6 L333.9 411.8 L336.9 409.5 L342.4 411.0 L343.0 411.5 L347.5 413.5 L349.8 410.8 L349.8 409.2 L351.1 406.1 L354.0 402.9 L357.0 402.0 M357.0 402.0 L358.7 405.1 L361.0 406.1 L362.3 407.3 L365.6 409.7 L368.6 410.0 L369.3 412.0 L371.3 414.9 L370.2 418.7 L370.3 421.5 L370.0 423.4 L369.1 426.5 L372.2 430.5 L370.4 433.6 L373.2 436.0 L374.4 438.9 L374.1 440.7 M377.1 505.5 L375.0 502.4 L371.3 500.2 L367.7 504.2 L365.2 506.7 L365.3 510.7 L363.1 513.2 L360.7 513.5 L356.8 513.6 L355.6 514.5 L352.2 517.2 M403.4 424.7 L405.5 427.9 L407.6 430.9 L409.9 432.6 L410.5 436.8 L411.4 441.7 L409.9 443.8 L410.3 445.9 L409.0 449.4 L412.9 450.0 L413.2 453.6 L414.4 455.0 L416.0 458.6 L417.4 460.8 L419.3 463.0 L420.8 464.8 L424.5 467.5 L426.8 466.8 L430.8 467.6 L434.6 468.5 L436.7 469.0 L439.5 469.8 M439.5 469.8 L437.3 471.8 L437.1 475.9 L433.6 476.1 L430.3 479.6 L428.4 481.0 L423.4 480.3 L421.3 480.9 L418.1 482.4 M357.0 402.0 L358.1 399.7 L358.7 396.7 L359.2 393.7 L362.0 391.6 L364.0 389.0 L367.1 387.5 L367.1 384.8 L367.9 380.6 L368.3 379.2 L367.6 375.1 L366.4 373.0 L364.0 369.3 L366.4 366.1 L366.8 363.2 L364.1 361.2 L361.7 359.2 L358.8 356.1 L355.3 355.1 L354.2 350.6 M354.2 350.6 L353.6 347.4 L354.6 343.4 L353.8 340.6 M353.8 340.6 L356.6 341.6 L359.8 341.3 L363.0 340.2 L366.0 342.2 L369.4 345.7 L372.1 346.8 L375.5 350.4 L378.8 348.8 L380.7 346.9 L383.7 344.9 L384.4 342.5 M291.7 384.1 L295.3 382.8 L298.8 378.5 L301.3 383.1 L303.0 385.3 L307.3 385.5 L308.3 388.3 L312.3 386.8 L314.1 385.2 L316.0 384.1 L319.4 381.9 L321.1 381.2 L323.2 380.8 L325.2 381.5 L327.7 380.7 L329.7 378.6 L330.4 374.6 L331.3 371.8 L332.3 367.9 L331.5 364.5 L331.3 359.7 L333.6 356.6 L336.0 355.1 L337.9 353.7 L340.9 353.5 L345.3 352.6 L348.6 352.2 L351.9 351.2 L354.2 350.6 M316.0 306.1 L316.1 310.3 L316.7 313.5 L318.3 316.5 L319.2 319.0 L320.2 321.5 L321.7 324.5 L322.0 328.4 L321.5 330.2 L321.8 332.5 L318.6 335.2 L323.2 335.9 L326.3 339.4 L328.5 340.6 L331.4 342.1 L334.1 344.5 L337.7 343.4 L341.2 344.2 L344.2 343.5 L347.0 341.3 L351.1 339.6 L353.8 340.6 M323.0 282.1 L325.0 282.3 L328.2 283.1 L328.6 286.8 L329.3 288.4 L331.0 290.4 L333.5 294.5 L334.9 296.7 L336.8 299.6 L338.8 301.7 L341.0 304.5 L342.5 307.9 L344.6 309.7 L346.9 311.3 L349.6 308.6 L352.4 311.9 L355.2 314.2 L357.3 316.2 L359.4 318.4 L361.9 320.1 L363.8 323.4 L364.3 326.3 L367.1 325.9 L370.3 327.8 L373.1 328.3 M373.1 328.3 L375.2 330.1 L377.5 332.6 L378.7 335.8 M347.7 241.8 L348.5 244.9 L347.7 248.6 L348.0 251.8 L349.9 255.1 L353.5 257.5 L355.8 261.1 L359.6 262.7 L359.8 265.1 L363.0 268.8 L362.4 272.1 L362.2 275.8 L364.4 280.0 L366.2 283.9 L367.6 285.7 L368.0 288.8 L369.0 291.8 L370.0 294.5 L368.4 297.1 L369.3 299.6 L369.4 303.8 L368.8 307.6 L368.3 311.7 L368.4 314.2 L368.7 319.0 L371.0 321.4 L370.5 325.3 L373.1 328.3 M370.4 237.6 L371.9 235.9 L375.4 233.9 L378.5 233.8 L381.6 234.2 L386.3 233.9 L390.5 234.3 L393.7 232.4 L397.3 232.6 L401.4 231.8 L405.0 232.0 L408.1 231.8 M408.1 231.8 L407.6 234.8 L408.5 237.5 L409.7 240.4 L410.8 242.8 L408.7 247.3 L413.1 249.8 L411.6 253.1 L411.5 256.1 L413.4 258.1 L413.3 261.2 L410.8 263.9 L409.0 266.4 L407.1 269.2 L407.4 272.1 L408.6 276.2 L410.2 279.6 L409.3 283.1 L410.6 288.1 L409.4 291.6 L406.4 291.7 L404.1 293.0 M501.3 227.5 L503.2 230.7 L503.0 233.9 L501.8 235.6 L500.9 239.9 L504.5 241.0 L506.2 244.2 L506.4 248.1 M506.4 248.1 L503.8 249.9 L500.6 249.9 L498.1 251.9 M498.1 251.9 L495.5 250.6 L492.7 250.7 L488.8 250.9 L485.7 248.4 L481.7 247.9 L478.6 248.2 L474.3 248.4 L470.3 249.1 L467.1 250.7 M467.1 250.7 L465.6 248.4 L463.5 247.0 L461.9 243.6 L460.8 240.7 L459.0 237.8 L454.3 237.5 L452.2 235.0 L449.7 234.9 L446.3 233.4 L443.4 232.5 L442.1 230.8 L438.8 229.4 L436.1 226.8 L435.0 227.9 L432.7 229.6 L428.3 231.1 L425.8 232.9 L422.5 234.3 M422.5 234.3 L418.3 233.2 L418.0 230.4 L414.0 231.5 L411.7 233.2 L408.1 231.8 M467.1 250.7 L465.9 254.1 L465.1 256.7 L463.5 260.3 L460.5 261.5 L457.7 263.7 L454.9 261.2 L451.1 260.2 L449.0 261.8 L444.5 260.2 L441.5 263.9 L439.0 261.1 L438.2 257.1 L434.0 254.5 L431.0 253.7 L427.8 252.1 L425.9 251.4 L425.0 246.9 L422.3 243.6 L423.5 239.4 L424.2 237.5 L422.5 234.3 M498.1 251.9 L497.2 254.7 L495.7 257.8 L495.0 261.2 L495.2 264.2 L493.5 267.5 L493.8 270.2 L491.3 273.9 L490.5 276.3 M490.5 276.3 L487.9 276.8 L483.9 277.2 L479.6 277.3 L477.4 280.5 L474.7 282.3 L471.7 282.0 L469.3 284.5 L465.6 285.1 L463.3 286.3 L460.5 287.3 L457.4 287.6 L455.4 289.9 L452.4 290.7 L450.2 292.6 L446.0 294.4 L445.0 298.6 L443.4 301.1 L441.2 303.6 L438.5 306.7 L438.2 311.0 L435.7 310.9 L433.2 312.8 L430.6 315.2 L429.2 316.1 L427.6 317.9 L428.0 320.9 L425.1 324.2 L422.3 326.0 L419.3 327.8 L416.4 327.5 L413.8 329.6 L411.0 330.1 L409.2 333.8 L409.0 335.9 M585.2 223.0 L583.3 225.1 L580.7 227.5 L579.1 228.8 L574.7 230.4 L573.2 234.3 L571.0 236.4 L567.6 238.3 L566.4 240.5 L563.9 242.5 L561.7 245.4 L558.9 245.9 L555.8 247.7 L554.3 252.1 L552.5 253.7 M552.5 253.7 L549.8 254.7 L547.5 257.6 L543.8 254.3 L540.6 255.2 L536.9 255.7 L533.0 254.2 L529.3 255.5 L526.5 256.3 L523.5 258.4 L520.4 259.9 L518.5 256.4 L517.4 253.2 L514.9 252.5 L513.1 249.1 L509.5 248.4 L506.4 248.1 M609.6 284.7 L607.8 286.3 L604.6 287.8 L603.9 286.0 L601.1 285.8 L597.1 284.2 L593.7 284.9 L590.7 283.0 L587.3 283.3 L584.1 281.7 L581.9 279.6 L580.3 278.8 L577.8 277.0 L575.3 274.9 L571.8 274.6 M571.8 274.6 L572.3 270.9 L570.9 268.0 L568.6 266.4 L567.8 262.8 L565.6 262.3 L562.5 260.7 L561.0 260.1 L558.3 258.0 L554.8 255.6 L552.5 253.7 M571.8 274.6 L570.1 277.0 L569.2 279.3 L566.2 280.7 L565.3 283.5 L561.8 285.9 L561.5 289.4 L557.5 290.4 L553.6 291.1 L550.3 292.3 M550.3 292.3 L546.8 291.9 L542.9 291.3 L540.6 292.4 L536.5 294.2 L534.4 294.4 L531.1 295.3 L528.2 297.0 L525.7 295.6 L523.2 293.5 L520.6 293.5 L518.1 292.5 L516.2 294.8 L513.6 296.2 L511.3 297.2 L509.3 294.1 L508.7 291.6 L505.9 290.5 L504.7 291.5 L500.5 289.6 L499.0 292.4 L499.3 295.4 L498.1 297.3 M498.1 297.3 L495.5 295.6 L493.2 293.4 L491.9 289.9 L491.4 285.9 L491.3 282.8 L492.6 279.6 L490.5 276.3 M498.1 297.3 L496.7 300.2 L493.7 303.9 L493.3 308.2 L494.1 311.8 L495.1 315.6 L493.2 318.6 L492.6 320.1 L491.8 323.2 L490.1 325.5 L491.6 329.2 L489.8 333.1 L489.3 336.8 L491.1 339.8 L492.5 342.5 L494.7 345.7 L494.9 347.8 L495.4 350.9 L490.6 352.6 L487.1 354.3 L485.9 356.5 L484.3 358.5 L484.9 364.0 M474.4 363.2 L471.2 365.1 L468.1 364.7 L466.5 362.4 L463.9 360.5 L461.4 359.6 L461.5 356.8 L459.3 354.3 L457.1 351.8 L455.0 349.2 L452.8 346.3 L449.0 346.8 L446.4 347.4 L444.4 343.7 L440.5 344.6 L437.2 343.0 L434.7 340.9 L433.4 340.0 L430.6 338.7 L428.4 340.4 L426.0 342.5 M550.3 292.3 L550.9 294.6 L553.0 297.6 L553.0 300.7 L552.6 302.9 L552.5 305.4 L553.0 308.2 L550.8 309.8 L550.3 312.9 L548.5 315.8 L546.1 317.5 L545.9 319.8 L545.3 321.7 L543.4 324.5 L543.1 327.7 L541.6 330.1 L538.7 331.8 L538.2 333.7 L536.9 337.2 L535.6 339.6 L534.2 342.5 L534.3 345.2 L536.1 348.3 L537.6 350.0 L537.7 352.5 L537.8 356.5 M683.9 259.5 L685.1 262.8 L687.0 264.7 L687.9 267.4 L689.9 270.1 L692.8 271.4 L694.6 268.6 L699.8 269.8 L701.7 270.5 L706.3 271.5 L706.4 274.6 L708.5 275.8 L710.3 277.6 L711.8 282.6 L709.9 286.0 L711.2 288.1 L714.4 289.9 L714.9 294.6 L711.9 296.0 L711.7 300.2 L712.2 303.2 L708.9 303.9 L706.1 304.6 L704.2 306.7 L701.2 306.9 L698.1 309.2 L701.9 312.8 L701.8 315.9 L704.4 317.9 L705.6 320.3 L710.4 320.5 L711.2 324.0 L712.4 326.8 L714.9 331.0 L716.1 334.4 L718.5 336.0 L721.6 337.6 L722.6 340.1 L726.0 341.0 M726.0 341.0 L724.8 343.9 L723.5 346.4 M728.0 240.6 L729.2 243.7 L729.1 246.6 L727.1 250.5 L727.6 254.8 L726.5 258.3 L723.9 260.9 L722.9 263.2 L724.0 267.8 L726.3 267.8 L729.8 267.1 L731.9 264.8 L735.3 265.7 L737.8 267.5 L740.4 269.8 L740.3 273.9 L740.5 278.4 L738.8 282.8 L740.7 286.0 L744.8 285.2 L747.2 287.1 L750.9 286.3 L754.7 285.1 L758.0 284.5 L761.8 283.4 L763.3 286.1 L765.7 287.3 L769.7 287.8 L771.5 290.6 L774.4 292.6 L776.5 294.0 L779.2 295.1 L782.7 295.7 M782.7 295.7 L786.0 297.0 L787.7 300.9 L789.4 304.2 L791.1 308.6 L788.0 309.9 L786.3 311.7 L785.4 313.8 L784.0 317.1 M784.0 317.1 L781.3 318.7 L777.6 319.8 L774.4 320.4 L771.2 321.4 L770.5 323.8 L767.6 325.7 L763.8 327.2 L761.9 329.1 L760.0 331.1 L754.4 332.2 L752.5 331.9 L750.5 333.3 L747.4 331.1 L742.1 333.5 L739.9 333.5 L734.9 335.5 L732.0 336.5 L728.2 338.2 L726.0 341.0 M825.0 272.5 L826.2 275.1 L826.2 278.5 L826.6 282.2 L823.3 285.6 L824.3 288.6 L825.5 291.9 M825.5 291.9 L822.1 291.3 L817.4 293.7 L813.4 295.3 L810.7 297.9 L806.9 294.8 L803.5 294.5 L801.1 293.4 L797.3 292.2 L795.2 291.0 L790.9 290.7 L789.1 291.3 L785.5 292.9 L782.7 295.7 M825.5 291.9 L827.6 293.5 L831.0 295.2 L832.6 295.3 L836.0 296.1 L838.4 297.6 L841.5 299.6 L845.0 298.9 L848.3 302.0 L852.1 302.9 L853.5 306.5 M853.5 306.5 L853.2 309.7 L855.8 312.7 L857.2 315.3 L857.1 318.6 L858.2 320.8 L860.2 323.9 L860.3 327.1 L862.2 331.4 L861.4 335.3 L857.2 335.5 L854.5 336.3 L851.2 338.8 L848.7 339.6 L845.6 341.5 L843.1 343.3 L840.2 345.5 L836.9 347.4 L835.3 348.9 L833.6 346.6 L831.6 343.8 L830.3 340.5 L828.8 337.2 L827.5 335.3 L824.6 333.8 L820.7 333.0 L816.9 331.7 L812.8 330.1 L809.7 328.9 L806.5 330.5 L804.2 332.2 M804.2 332.2 L800.7 331.4 L798.9 331.5 L795.6 329.8 L792.2 328.8 L790.5 326.0 L788.0 322.8 L785.0 321.0 L784.0 317.1 M903.1 249.1 L900.5 250.5 L897.9 254.8 L896.8 255.8 L895.5 257.9 L894.4 260.6 L892.8 263.8 L897.5 265.3 L898.7 268.2 L896.3 269.7 L895.8 272.8 L897.2 272.7 L899.4 274.0 L900.4 276.4 L902.9 278.8 L904.6 282.1 L905.5 283.2 L907.9 286.3 L910.6 288.6 L913.4 290.4 L912.9 293.7 L915.2 297.4 L912.2 300.9 L911.7 302.7 L908.7 303.8 L907.5 306.7 L907.6 309.4 L907.9 311.7 L908.6 314.2 L904.8 316.8 L904.3 318.1 L900.3 319.2 L897.6 321.1 L895.1 322.1 L892.3 324.0 L888.9 326.1 M888.9 326.1 L886.4 324.4 L883.9 324.9 L881.5 323.1 L878.0 321.6 L876.7 320.1 L875.2 317.2 L872.3 316.3 L869.3 316.4 L866.7 313.6 L864.1 312.0 L859.7 310.7 L855.5 308.3 L853.5 306.5 M959.7 262.9 L956.8 265.6 L958.2 267.9 L959.0 270.1 L959.3 273.1 L960.2 275.9 L958.8 278.3 L958.0 280.9 L954.8 279.0 L954.1 276.1 L953.0 273.4 L950.7 269.0 L948.1 270.3 L945.7 270.5 L944.7 274.4 L942.8 276.5 L941.5 279.2 L938.1 279.8 L935.1 280.3 L933.5 283.6 L931.9 286.4 L931.1 288.8 L931.1 291.5 L929.7 294.3 L928.9 296.8 L928.5 299.6 L928.1 302.9 L927.5 306.2 L924.4 309.7 L923.8 313.1 L922.7 315.7 L924.3 318.2 L925.8 320.3 L924.1 322.6 L922.9 325.2 M922.9 325.2 L922.9 329.9 L923.4 332.1 L920.5 333.5 L918.3 337.1 L914.4 339.3 M914.4 339.3 L911.7 338.6 L907.8 337.4 L905.7 336.6 L901.0 335.6 L898.6 333.1 L897.2 330.4 L894.7 329.2 L891.0 328.5 L888.9 326.1 M963.9 265.7 L964.5 267.7 L967.7 269.5 L970.6 272.6 L970.7 276.2 L974.4 277.9 L975.4 280.5 L978.0 283.3 L974.5 286.5 L973.4 289.0 L970.6 291.3 L969.6 294.2 L967.7 296.6 L966.1 299.9 L965.3 303.4 L963.9 305.3 L960.7 308.7 M960.7 308.7 L958.9 311.1 L957.4 313.5 L957.2 316.8 L954.7 319.5 L955.0 323.2 L953.1 325.2 M953.1 325.2 L953.1 329.3 L952.2 332.3 L947.8 334.1 L945.5 337.0 L942.2 337.6 L941.2 341.5 L939.7 343.2 L938.0 346.5 L934.7 344.7 L933.3 343.9 L932.3 341.9 L931.0 339.4 L929.2 337.3 L926.3 335.5 L926.1 331.9 L923.9 330.6 L925.1 328.8 L922.9 325.2 M960.7 308.7 L962.4 311.6 L962.3 315.6 L965.9 317.4 L968.0 320.5 L970.1 322.6 L970.6 325.6 L973.7 325.3 L976.1 328.8 L978.8 329.6 L980.0 332.5 L983.1 331.8 L986.0 329.9 L989.2 330.6 L990.6 332.4 L991.5 330.2 L992.8 328.2 L996.5 329.0 L999.5 325.7 L1003.2 325.2 L1006.7 324.7 L1009.1 322.2 L1011.3 321.4 L1012.5 317.8 L1014.1 315.5 L1014.4 312.4 L1017.1 310.1 L1020.2 309.0 L1023.5 309.0 M1023.5 309.0 L1023.0 312.0 L1020.5 313.9 L1021.0 316.8 L1019.7 320.6 L1019.0 322.7 L1017.1 325.0 L1015.2 326.6 L1014.0 329.4 L1017.0 332.0 L1019.7 335.9 L1018.4 339.0 L1018.6 343.0 L1016.3 344.8 L1014.5 347.5 L1014.5 349.7 L1014.2 352.7 L1012.5 354.8 L1010.7 355.8 L1008.9 359.1 L1006.8 361.1 L1003.3 362.3 L1001.8 364.9 L1000.1 367.4 L996.9 370.0 L996.1 373.2 L1002.4 373.1 L1006.0 373.5 L1008.8 376.4 L1011.7 377.7 L1015.1 376.8 L1017.9 375.9 L1022.2 378.5 L1025.1 379.7 L1028.1 380.9 M958.9 386.0 L957.1 383.1 L956.5 381.2 L958.2 377.3 L959.4 374.2 L958.6 368.9 L961.6 365.2 L958.8 364.5 L960.0 361.0 L956.9 358.7 L957.0 354.9 L956.7 352.6 L955.2 350.7 L956.2 346.2 L956.4 342.7 L955.7 339.5 L958.5 336.2 L956.0 333.5 L954.4 329.7 L954.9 327.6 L953.1 325.2 M1021.6 475.2 L1019.3 472.3 L1016.8 470.3 L1014.7 467.0 L1014.4 463.5 L1013.0 461.8 L1010.2 458.8 L1008.6 456.1 L1008.3 452.3 L1007.3 448.5 L1007.7 445.2 L1007.2 442.6 L1005.3 438.4 L1004.9 435.3 L1005.6 431.7 L1005.5 427.3 L1008.1 423.7 L1010.0 420.6 L1010.7 417.2 L1014.3 415.7 L1016.6 413.8 L1019.9 410.9 L1022.3 408.7 L1021.3 402.7 L1023.0 400.9 L1023.3 397.5 L1024.3 395.6 L1023.2 391.6 M1016.6 505.9 L1013.6 501.8 L1010.6 501.5 L1010.0 498.3 L1006.1 498.8 L1004.3 495.3 L1001.4 495.3 L999.8 491.8 L996.1 492.0 L994.1 491.0 L989.7 491.1 L987.4 491.5 L984.5 492.2 L981.7 493.0 L977.3 493.4 L973.9 495.3 L970.7 496.3 L965.9 496.9 L963.7 499.0 L960.6 500.6 L960.5 503.0 L960.0 499.9 L959.8 497.9 L959.2 494.3 L961.1 490.8 L960.6 487.2 L960.3 483.2 L959.0 480.0 L959.0 477.5 L957.5 473.0 L959.0 470.2 L958.3 466.9 L957.2 462.8 L956.8 459.5 L955.5 456.5 L954.0 453.2 L954.5 450.4 L953.6 448.2 L952.6 444.7 L951.0 442.8 L949.4 440.4 L947.4 438.3 L946.9 433.9 L946.4 429.9 L948.7 428.6 L951.3 427.1 L951.6 422.8 L952.4 419.0 M908.3 468.1 L911.0 466.8 L912.6 463.4 L916.4 460.2 L914.1 457.0 L914.8 453.6 L913.6 449.3 L910.7 446.6 L912.2 442.2 L914.3 439.8 L913.1 434.9 L913.0 432.0 L912.7 428.9 L913.7 424.8 L914.0 422.6 L913.5 419.6 L911.2 415.8 L913.3 412.6 M914.4 339.3 L910.3 339.3 L908.4 339.0 L904.5 340.1 L902.1 340.5 L899.0 344.2 L899.1 346.9 L896.3 348.6 L895.2 350.7 L895.0 353.4 L892.7 356.7 L892.6 359.3 L894.4 361.3 L896.8 363.6 L897.9 366.6 L898.5 369.8 L900.4 372.7 L900.8 377.0 L901.5 380.1 L904.6 382.8 L905.0 386.5 L904.7 389.5 M801.4 358.3 L802.0 354.8 L799.4 353.6 L801.3 349.9 L801.5 345.5 L803.2 342.7 L802.4 339.8 L803.5 335.9 L804.2 332.2 M802.7 364.9 L802.2 368.2 L803.3 372.7 L802.3 376.8 L803.8 378.1 L804.0 381.1 L803.8 383.9 L800.9 386.7 L798.2 388.1 L796.4 390.2 L793.5 392.0 L788.1 392.9 L784.5 393.9 L780.8 394.6 L777.6 395.7 L774.9 392.9 L772.0 391.8 L769.6 389.4 L764.5 389.7 L763.6 386.5 L760.3 385.4 L758.3 382.2 L755.9 380.7 L755.2 378.7 L751.9 380.6 L748.7 382.3 L747.1 384.5 L747.5 389.5 L743.5 391.8 L740.6 393.6 L739.9 398.0 L737.6 400.8 M737.6 400.8 L734.1 401.3 L731.2 402.7 L729.9 399.1 L726.6 397.7 L725.5 395.2 L721.3 393.4 L718.1 391.7 L715.7 388.1 L712.8 386.2 L712.4 383.4 L712.4 380.5 L715.5 377.3 L717.2 374.4 L714.1 373.5 L711.2 370.8 L707.6 371.7 L703.4 369.0 M828.2 380.0 L829.7 382.3 L830.8 384.4 L826.8 387.1 L830.7 390.7 L829.8 396.2 L832.2 397.2 L831.2 400.1 L830.2 402.4 L829.3 404.3 L826.2 408.5 L823.5 409.8 L823.1 413.0 L820.7 413.9 L816.5 413.8 L815.2 412.4 L811.1 412.3 L808.9 413.8 L805.5 413.4 L801.9 414.6 L799.7 414.3 L795.7 415.2 L791.1 414.8 L789.2 418.2 L786.2 420.2 L783.3 421.7 L781.5 424.0 L778.9 425.9 L775.4 426.7 L773.2 429.6 L772.7 432.5 L773.1 436.1 L771.5 438.6 M771.5 438.6 L769.5 434.8 L765.8 434.9 L763.6 434.1 L760.7 432.6 L757.6 431.0 L757.0 426.2 L754.9 426.2 L754.9 422.9 L753.7 419.8 L751.0 419.1 L747.9 417.4 L745.1 416.2 L742.8 412.0 L740.4 409.0 L739.9 406.4 L739.7 403.8 L737.6 400.8 M771.5 438.6 L774.5 440.7 L776.2 442.1 L779.0 442.2 L780.9 444.6 L783.3 445.9 L784.9 449.0 L785.8 452.2 L784.2 455.4 L778.7 457.7 L781.3 461.1 L780.0 464.1 M677.0 404.3 L674.2 404.9 L669.9 403.2 L666.7 403.5 L663.0 401.8 L659.2 400.5 L655.0 399.6 L652.0 396.5 L648.2 396.9 L646.3 399.2 L643.2 399.9 L640.8 400.8 L637.7 400.1 L634.4 399.7 L631.4 401.0 L627.8 401.8 M627.8 401.8 L630.3 402.9 L631.1 406.7 L633.7 408.6 L634.0 411.6 L636.3 415.5 L638.7 417.5 L638.0 420.9 L641.0 423.6 L642.6 426.9 L643.6 430.9 L642.2 435.2 L640.9 438.9 L644.3 440.4 L645.4 443.0 L647.7 445.5 L649.5 447.8 L649.1 450.9 L651.8 454.0 L653.8 455.3 L656.2 456.8 L658.0 459.8 L657.7 462.5 L656.0 466.2 L657.9 467.8 L660.6 468.3 L663.2 468.7 L664.9 467.2 L665.2 470.3 L666.2 474.0 L668.9 475.7 L669.4 478.7 L673.2 478.3 L674.8 481.4 L676.7 484.5 L676.9 488.3 L679.7 490.3 L679.5 493.4 L680.8 496.7 L681.8 498.7 L682.7 501.5 L685.1 503.9 L687.8 505.4 L691.0 504.6 L693.8 503.8 L697.1 503.5 L700.9 502.9 L705.2 502.8 L708.5 501.3 L711.3 499.4 L713.3 497.5 L716.1 495.7 L717.1 493.4 L719.8 491.2 M627.8 401.8 L625.4 403.6 L625.4 407.7 L621.5 408.7 L620.0 410.6 L617.3 413.9 L615.3 415.0 L613.5 418.3 L610.2 419.4 L607.4 422.2 L604.3 423.2 L601.4 424.2 L598.8 427.1 L596.3 428.5 L594.6 431.7 M594.6 431.7 L596.3 435.6 L600.0 435.6 L601.7 439.3 L603.9 442.1 L605.6 445.2 L607.7 447.1 L610.1 448.9 L614.3 449.7 L616.5 450.9 L617.4 454.0 L617.9 456.2 L615.3 458.3 L613.0 460.1 L611.0 462.9 L610.1 466.1 L610.6 468.8 L613.0 470.6 L613.5 474.9 L616.6 477.8 L619.5 479.3 L621.1 483.0 L619.0 487.4 L620.7 490.6 L623.7 494.5 L622.3 498.0 L620.0 500.3 L618.1 502.8 L616.4 503.4 L612.3 503.1 L609.4 504.9 L609.8 508.2 L610.7 511.4 M610.7 511.4 L611.6 515.0 L612.7 517.7 L612.8 521.1 L615.0 523.9 L615.2 527.7 L616.3 530.5 L616.5 533.6 L617.3 539.0 L618.0 540.8 L620.4 544.2 L621.1 546.8 L618.2 550.2 L619.3 554.4 L615.0 555.5 L614.8 558.8 L614.6 563.5 M594.6 431.7 L592.0 433.3 L592.5 438.2 L588.2 437.7 L586.5 438.6 L583.3 440.6 M583.3 440.6 L585.6 442.4 L589.2 444.8 L591.4 448.9 L586.3 450.2 L584.3 453.2 L582.5 455.4 L579.1 458.3 L576.5 460.9 L573.4 464.0 L567.3 463.3 M567.3 463.3 L567.4 466.2 L568.0 469.6 L568.2 473.3 L566.3 475.3 L567.9 478.5 L568.3 482.5 L570.1 485.5 L572.3 488.7 L575.2 490.2 L577.2 492.9 L581.7 495.2 L575.8 497.0 L574.6 500.0 L574.3 501.2 L573.6 504.2 L576.1 505.6 L577.8 506.7 L579.9 508.3 L583.0 509.7 L585.9 510.7 L588.6 512.6 L590.9 514.1 L594.7 514.1 L599.0 515.8 L602.5 512.7 L605.6 514.6 L608.5 512.1 L610.7 511.4 M567.3 463.3 L563.4 460.8 L561.6 460.9 L558.3 460.9 L555.2 464.1 L552.3 466.3 L549.6 466.7 L547.4 468.8 L545.6 470.8 L540.2 471.3 L538.8 472.7 L536.5 472.3 L534.1 473.3 L531.1 472.8 L528.9 472.0 L527.3 470.8 L525.9 475.2 L527.4 477.3 L526.8 481.4 L529.6 485.0 L529.1 487.8 L531.2 490.4 L529.6 493.6 L530.1 496.7 M530.1 496.7 L531.3 499.7 L532.4 501.7 L533.3 504.4 L536.7 506.2 L534.6 509.4 L537.1 511.2 L537.8 513.5 L540.6 514.9 L541.2 518.9 L545.2 520.8 L546.5 523.5 L545.6 526.0 L547.4 528.3 L551.2 530.7 L554.0 531.4 L555.9 531.5 L553.7 534.5 L554.5 538.4 L553.5 541.2 L552.8 543.2 L552.4 545.6 L552.9 548.4 M530.1 496.7 L527.2 499.4 L523.8 500.1 M523.8 500.1 L520.4 503.3 L519.3 505.9 L517.7 509.7 L518.2 513.4 L517.3 517.1 L517.7 519.8 L517.3 522.8 L513.2 522.9 L509.7 522.4 L509.2 519.9 L509.5 517.1 L506.3 513.6 L506.0 509.6 L506.0 505.9 L506.8 502.0 M506.8 502.0 L504.9 503.9 L501.3 505.6 L499.3 507.0 L498.9 508.3 L496.0 510.0 L495.1 515.9 L494.9 519.2 L494.3 523.1 L497.6 526.0 L494.3 530.4 L493.5 533.1 L491.0 533.2 L490.1 536.7 L487.1 537.5 L484.8 539.8 L483.0 538.7 L479.6 540.5 L476.9 540.2 L475.1 537.6 L472.2 538.7 L470.4 540.3 L469.0 543.8 L467.5 545.0 M506.8 502.0 L507.2 498.3 L506.1 496.4 L505.2 493.7 L505.1 490.0 L502.0 491.4 L498.5 492.6 L494.9 492.9 L490.9 495.7 L487.7 494.1 L484.8 492.8 L482.3 491.4 L480.4 488.8 L476.5 488.4 L473.7 486.7 L470.9 484.9 L468.6 483.9 L466.2 482.0 M466.2 482.0 L465.7 484.6 L463.3 486.9 L462.3 488.9 L458.7 490.2 L457.5 492.8 L454.8 493.1 L453.0 497.8 L449.1 496.4 L451.4 502.1 L448.1 503.9 L445.7 505.9 L442.6 506.7 L440.2 510.3 L437.8 511.8 L435.0 511.7 L432.2 512.7 M466.2 482.0 L466.4 478.7 L464.8 476.4 L464.1 473.1 L463.4 469.4 L462.5 466.0 L462.4 462.0 L462.9 459.9 L464.6 456.3 L462.2 453.5 L461.5 450.2 L459.7 447.1 M459.7 447.1 L457.2 446.4 L454.3 446.4 L453.6 448.1 L450.5 449.2 L450.3 452.3 L446.1 451.7 L444.5 456.3 L443.2 459.6 L443.3 463.8 L442.0 466.4 L439.5 469.8 M469.8 414.4 L467.4 416.6 L466.2 419.2 L465.9 422.4 L462.4 426.7 L462.1 430.1 L464.0 433.1 L463.5 435.6 L464.3 439.6 L463.7 443.1 L461.9 444.5 L459.7 447.1 M468.5 398.2 L468.1 401.2 L466.9 405.0 L468.1 407.8 L469.2 411.2 L469.8 414.4 M469.8 414.4 L472.0 415.9 L474.0 418.7 L477.7 419.5 L479.0 421.5 L480.5 424.1 L484.5 423.5 L485.8 425.6 L488.8 426.0 L491.2 430.9 L494.4 428.2 L498.1 427.3 L500.1 426.9 L504.0 428.0 L504.6 430.1 L505.4 433.6 L509.4 432.9 L514.2 433.6 L517.2 432.6 L520.9 431.5 L525.8 431.1 L529.3 432.2 L532.2 429.3 L535.8 427.1 L540.9 429.5 L543.5 427.6 L547.2 427.5 L551.2 428.3 M551.2 428.3 L549.0 432.0 L545.6 432.6 L544.7 435.4 L542.9 435.3 L540.5 438.6 L537.5 437.7 L535.0 436.7 L532.2 438.3 L529.1 440.2 L526.5 440.3 L523.8 442.8 L522.9 445.5 L519.1 447.5 L516.9 449.2 L512.3 449.5 L513.2 453.8 L515.1 456.9 L512.8 460.5 L512.8 462.9 L507.2 463.7 L505.3 467.2 L506.0 471.7 L509.8 476.0 L511.1 478.0 L509.2 480.5 L511.3 485.2 L514.5 485.4 L517.7 484.6 L520.2 489.6 L520.3 492.0 L521.1 494.7 L521.9 497.4 L523.8 500.1 M551.2 428.3 L555.1 427.9 L558.3 428.7 L562.4 429.6 L566.5 431.2 L569.4 431.2 L572.7 434.0 L575.3 436.2 L578.3 438.1 L581.4 438.2 L583.3 440.6 M531.2 364.0 L532.5 366.9 L535.1 368.0 L537.1 370.3 L537.5 373.6 L538.8 375.1 L540.8 376.6 L537.5 379.3 L536.9 382.0 L536.7 385.1 L537.2 388.1 L539.4 390.9 L542.8 392.8 L543.0 395.9 L546.6 395.6 L546.4 401.8 L551.2 402.8 L552.8 405.3 L553.6 408.7 L553.0 410.4 L554.2 414.6 L553.7 416.5 L551.5 418.7 L547.8 421.0 L548.5 423.5 L549.3 425.5 L551.2 428.3" fill="none" stroke="#161616" stroke-width="0.95" stroke-linejoin="round"/>
<path d="M187.7 356.4 L185.5 360.0 L183.7 361.2 L183.0 364.0 L180.4 365.8 M103.3 420.2 L106.2 418.8 L109.0 420.5 L111.2 418.3 L114.9 418.3 L118.7 417.6 L121.7 416.2 L125.6 416.7 L127.9 418.4 L131.8 417.4 L135.1 419.5 L139.0 419.4 L142.5 420.0 L145.5 421.5 L148.5 423.2 L150.7 426.4 L150.8 428.5 L154.5 429.7 L156.8 431.0 L161.6 429.2 L163.4 432.2 L165.5 433.2 L169.1 431.6 L172.1 435.8 M206.6 407.3 L204.3 404.5 L203.3 401.9 L202.2 398.8 L201.4 394.6 L200.4 392.3 L199.3 388.9 L198.1 386.6 L198.9 382.4 L201.4 379.6 L200.2 375.3 L197.2 373.8 L194.7 371.2 L191.6 369.3 L188.7 368.8 L185.3 367.8 L182.4 366.7 L180.4 365.8 M206.6 407.3 L210.1 407.9 L214.1 405.0 M214.1 405.0 L218.1 405.9 L221.5 404.7 L223.5 401.0 L223.7 398.5 L228.5 398.7 L230.5 398.1 L234.0 398.7 L237.0 397.2 L240.1 396.7 M289.7 394.2 L290.9 397.2 L288.9 399.5 L290.3 402.7 L290.1 405.5 L290.6 408.1 L291.3 412.0 L292.0 414.2 L288.5 416.7 L285.4 418.6 M285.4 418.6 L282.5 416.6 L280.3 415.5 L278.1 414.2 L274.5 412.8 L272.2 411.6 L268.7 411.8 L265.9 408.5 L262.7 408.7 L259.7 407.8 L255.6 408.6 L251.1 407.8 L248.2 406.2 L246.3 403.5 L242.6 401.7 L242.5 398.3 L240.1 396.7 M285.4 418.6 L282.3 422.2 L281.1 424.7 L278.5 424.9 L275.8 427.1 L272.5 426.5 L271.0 429.4 L269.1 430.1 L266.5 433.1 L266.2 435.4 L262.1 437.3 L261.5 440.8 M261.5 440.8 L261.5 443.5 L264.9 445.9 L268.0 447.0 L269.0 450.2 L271.4 453.1 L274.2 455.9 L276.0 458.1 L277.9 460.4 M277.9 460.4 L276.3 463.4 L274.5 467.4 L272.8 470.6 L271.1 472.5 L269.2 475.3 L267.9 478.3 L264.5 480.6 L264.4 482.7 L261.7 485.1 L260.6 488.1 L257.7 488.3 L254.3 492.2 L251.6 488.5 L248.9 487.4 M194.7 502.7 L192.6 502.3 L191.0 498.2 L189.0 497.1 L187.7 493.4 L184.7 491.2 M184.7 491.2 L185.9 488.4 L188.8 487.1 L191.1 484.6 L189.7 479.1 L188.3 476.2 L185.4 474.9 L182.7 472.2 L182.0 469.7 L179.7 467.2 L177.7 465.7 L177.1 461.4 L178.1 458.0 L173.1 456.5 L170.0 455.2 L168.0 453.1 L165.7 452.8 L162.7 451.4 M162.7 451.4 L162.6 448.6 L165.7 447.7 L168.2 444.2 L168.6 441.5 L171.0 438.4 L172.1 435.8 M194.7 502.7 L191.8 504.0 L189.0 504.7 L188.9 507.2 L189.2 510.5 L190.6 513.5 L192.3 515.3 L193.0 518.4 L193.4 521.7 L192.0 524.2 L191.2 527.2 L189.0 529.9 L185.6 531.3 L183.4 534.1 M183.4 534.1 L180.2 533.7 L177.5 533.8 L174.7 531.5 L172.9 529.8 L168.3 530.2 L170.3 534.3 L167.9 537.3 L164.8 538.3 L164.0 541.1 L162.3 543.6 L160.2 546.0 M141.8 566.9 L142.8 563.8 L148.0 563.4 L148.5 561.0 L149.3 557.7 L151.2 555.7 L154.2 553.3 L156.3 552.2 L158.8 548.9 L160.2 546.0 M251.4 588.8 L251.8 591.5 L251.1 595.5 L251.9 598.6 L253.3 601.0 L252.8 604.1 L249.2 605.7 L245.8 605.7 L243.8 607.8 L241.1 610.8 L238.9 614.9 L237.2 615.8 L235.8 618.0 L234.2 621.3 L234.3 624.9 L230.9 625.8 L229.3 627.5 L226.1 628.8 L223.7 630.3 L220.9 631.7 L221.4 634.3 L218.8 636.8 L217.4 641.2 M248.9 487.4 L251.5 489.3 L253.5 490.0 L254.7 492.9 L254.2 496.7 L253.4 498.6 L253.1 503.1 L253.1 506.0 L255.2 509.0 M255.2 509.0 L254.5 513.1 L253.2 516.5 L256.9 518.6 L258.4 521.2 L257.8 524.0 L257.8 526.1 L254.2 527.2 L251.5 529.4 L248.2 529.8 L245.5 529.4 L244.1 532.9 L242.6 535.8 L239.6 536.5 L237.3 540.7 L238.2 540.0 L242.5 543.4 L244.6 544.7 L241.9 548.3 L243.7 551.9 L242.6 556.1 L244.5 559.3 L243.9 561.5 L245.1 563.8 L247.8 566.6 L250.7 568.5 L253.0 570.3 L253.4 573.3 L252.3 576.4 L253.7 580.1 L252.5 582.8 L252.4 585.3 L251.4 588.8 M289.7 394.2 L294.0 393.6 L297.1 396.8 L300.4 397.3 L303.6 399.0 L307.2 401.2 L309.6 403.3 L311.5 405.4 L314.9 408.8 L316.5 411.2 L318.4 413.7 L323.2 413.9 L326.3 414.8 M326.3 414.8 L327.6 417.0 L329.8 419.8 L330.0 422.5 L331.5 425.5 L332.2 431.2 L331.3 434.6 L328.0 436.5 L329.4 438.5 L332.3 440.3 L333.6 442.9 L336.1 444.4 L337.5 444.8 L339.7 448.3 L342.3 450.4 L340.9 454.3 M374.1 440.7 L371.9 443.4 L368.6 444.0 L367.8 448.0 L364.3 447.1 L362.0 449.9 L359.8 450.3 L356.9 452.5 L354.5 452.7 L351.9 454.3 L348.2 455.1 L345.4 454.7 L340.9 454.3 M374.1 440.7 L374.6 443.1 L375.3 445.4 L376.8 447.4 L374.8 449.9 L373.0 452.5 L372.3 456.6 L373.7 458.6 L377.3 459.1 L379.2 461.3 L379.4 465.1 L379.2 468.4 L380.3 471.4 L381.1 475.7 L380.6 479.0 L378.2 483.5 L381.3 486.8 L381.1 490.8 L380.2 493.6 L380.9 497.9 L379.7 501.4 L378.3 502.6 L377.1 505.5 M374.1 440.7 L377.3 441.3 L380.7 440.4 L384.3 439.7 L387.5 439.8 L391.0 438.8 L394.9 437.4 L397.6 435.6 L398.8 432.1 L401.5 430.0 L402.1 427.3 L403.4 424.7 M418.1 482.4 L414.6 484.6 L412.8 487.3 L410.2 489.0 L408.5 490.3 L406.3 492.6 L403.0 491.5 L400.5 493.2 L398.7 495.4 L394.2 497.5 L390.6 498.2 L387.2 497.3 L383.5 497.6 L381.3 499.8 L379.6 504.5 L377.1 505.5 M384.4 342.5 L387.1 340.6 L390.4 339.4 L392.7 337.4 L395.4 336.4 L398.2 335.1 L400.8 334.4 L405.6 334.6 L409.0 335.9 M409.0 335.9 L413.3 336.6 L415.7 339.4 L418.6 340.1 L422.8 341.5 L426.0 342.5 M426.0 342.5 L423.1 344.1 L419.3 344.9 L418.0 347.6 L416.3 350.0 L416.4 352.8 L417.1 356.4 L416.1 360.6 L418.4 364.0 L421.4 367.0 L421.7 370.1 L424.8 372.4 L426.9 374.8 L426.5 379.0 L429.4 379.9 L429.7 383.1 L431.5 384.8 L433.9 387.6 L434.4 391.3 L437.6 392.5 L438.3 395.4 M438.3 395.4 L436.5 399.2 L433.3 401.1 L432.9 404.1 L430.6 405.6 L428.0 407.4 L426.5 408.5 L424.2 410.4 L421.3 412.3 L421.0 415.4 L418.5 416.9 L416.4 418.9 L414.4 421.8 L415.1 425.0 L412.4 424.3 L409.4 422.7 L406.4 424.9 L403.4 424.7 M378.7 335.8 L381.1 338.9 L384.4 342.5 M370.4 237.6 L371.2 241.4 L371.6 242.9 L373.7 245.0 L375.6 249.3 L375.4 252.4 L377.7 255.7 L378.0 257.9 L380.2 262.2 L380.7 266.1 L381.6 268.8 L385.4 269.7 L385.2 274.3 L387.8 275.4 L389.2 278.2 L392.3 278.3 L393.4 283.0 L397.0 285.1 L398.6 286.1 L400.1 287.9 L402.0 291.4 L404.1 293.0 M404.1 293.0 L402.6 297.2 L398.9 298.6 L396.8 300.2 L399.2 304.1 L403.0 305.5 L402.8 309.3 L403.5 313.4 L402.7 318.0 L401.2 321.3 L398.1 322.4 L394.1 323.9 L391.6 326.5 L388.6 326.2 L385.9 328.8 L383.9 331.5 L380.9 331.8 L377.4 332.2 L378.7 335.8 M484.9 364.0 L482.2 363.0 L478.4 362.0 L474.4 363.2 M474.4 363.2 L473.4 365.6 L471.4 368.8 L469.6 372.2 L469.0 374.4 L466.6 377.7 L468.5 381.7 L467.3 384.5 L468.8 387.1 L469.9 390.1 L470.9 392.2 L468.3 395.0 L468.5 398.2 M468.5 398.2 L464.7 399.7 L461.6 397.9 L459.2 398.3 L456.6 398.4 L455.1 394.9 L452.0 394.0 L449.0 392.9 L446.7 391.3 L442.9 393.1 L441.5 395.0 L438.3 395.4 M537.8 356.5 L536.0 357.7 L533.2 359.1 L531.2 364.0 M531.2 364.0 L530.2 366.9 L527.5 368.3 L526.2 369.9 L523.8 371.9 L521.1 372.8 L517.8 371.7 L514.9 372.7 L514.6 369.2 L516.5 367.4 L513.2 364.8 L510.0 365.4 L507.1 365.1 L502.6 363.7 L499.5 362.9 L495.3 364.0 L491.5 366.4 L489.0 364.8 L484.9 364.0 M628.0 290.4 L628.5 294.5 L630.7 298.0 L632.6 300.3 L633.2 303.4 L634.2 304.9 L635.9 307.7 L637.7 309.5 L641.7 310.8 L644.7 312.5 L647.7 314.4 L651.5 314.8 L654.9 317.0 L653.5 319.0 L654.1 322.5 L653.6 325.6 L652.9 329.7 L651.2 333.2 L648.6 335.9 L646.8 338.6 L643.7 340.6 L641.2 340.7 L641.9 345.6 L643.9 349.7 L646.3 351.0 L648.0 353.9 L649.3 355.9 L651.8 356.7 L653.3 360.9 L654.4 363.1 L653.9 366.9 L650.4 369.0 M537.8 356.5 L541.3 356.9 L545.1 355.2 L547.1 355.2 L551.9 353.0 L555.8 354.4 L558.8 354.6 L563.2 353.4 L565.0 352.8 L569.6 353.4 L572.5 354.8 L576.4 355.1 L580.0 355.4 L582.5 358.5 L586.0 358.1 L588.1 361.6 L591.2 361.0 L593.2 363.0 L595.4 364.0 L597.4 365.6 L600.3 367.0 L603.6 366.2 L606.5 365.7 L610.2 366.8 L613.5 367.5 L618.4 367.6 L623.2 369.2 L625.4 366.5 L629.6 366.7 L632.9 366.0 L636.2 368.0 L641.4 369.1 L644.5 368.7 L647.5 368.6 L650.4 369.0 M723.5 346.4 L722.3 349.2 L718.6 351.6 L715.7 351.3 L714.1 354.1 L711.3 356.3 L707.9 355.7 L706.4 358.2 L704.1 359.4 L701.9 361.3 L700.1 363.7 L702.1 365.5 L703.4 369.0 M703.4 369.0 L702.1 370.8 L698.1 372.3 L695.7 373.6 L692.3 374.9 L690.8 377.8 M690.8 377.8 L687.4 377.1 L683.4 375.9 L679.7 375.7 L676.9 373.9 L673.3 374.3 L670.3 373.0 L667.6 372.6 L663.7 371.5 L660.4 372.4 L656.9 370.6 L654.0 369.7 L650.4 369.0 M1028.1 380.9 L1028.6 384.2 L1026.8 385.4 L1025.8 389.9 L1023.2 391.6 M1023.2 391.6 L1019.8 393.6 L1018.8 394.6 L1017.4 398.5 L1017.5 402.6 L1014.1 401.2 L1012.2 401.4 L1008.8 401.1 L1003.8 400.4 L1000.4 403.3 L996.1 401.6 L992.9 400.2 L990.4 399.7 L986.6 397.5 L983.5 395.3 L980.3 393.6 L977.6 393.3 L976.0 390.4 L972.2 390.5 L969.7 388.3 L965.3 387.4 L962.2 385.3 L958.9 386.0 M1063.6 397.3 L1060.6 397.7 L1057.5 399.4 L1054.9 397.8 L1051.9 395.0 L1047.8 396.1 L1046.0 398.4 L1042.8 397.1 L1039.3 397.8 L1038.9 393.4 L1038.8 390.7 L1036.2 387.5 L1036.0 386.0 L1034.1 382.8 L1031.8 383.2 L1028.8 380.8 L1028.1 380.9 M952.4 419.0 L953.2 415.6 L955.1 413.2 L956.9 408.2 L957.7 405.2 L957.4 402.1 L957.0 398.4 L959.4 395.5 L958.9 392.1 L959.0 388.9 L958.9 386.0 M913.3 412.6 L916.6 412.0 L917.7 416.1 L920.7 417.4 L922.9 417.6 L925.8 418.9 L928.8 418.7 L934.5 418.2 L937.1 418.6 L938.6 419.6 L941.1 421.8 L945.7 421.7 L948.7 421.4 L952.4 419.0 M904.7 389.5 L905.9 392.6 L905.3 395.4 L907.0 397.2 L906.9 400.5 L910.5 402.6 L910.9 406.0 L913.2 409.2 L913.3 412.6 M904.7 389.5 L902.5 390.9 L900.1 392.6 L897.5 389.3 L894.6 387.1 L891.4 387.8 L889.2 388.9 L885.9 391.0 L883.5 391.8 L884.9 396.0 L882.2 398.6 L878.6 398.4 L875.8 400.6 L873.9 403.4 L869.6 402.4 L867.7 405.4 L865.9 402.1 L863.4 400.3 L862.8 397.0 L866.2 393.6 L865.1 389.2 L860.8 388.8 L857.8 387.2 L855.5 389.1 L852.8 387.5 L850.9 385.9 L847.9 384.2 L845.9 382.2 L843.2 381.0 L840.8 382.8 L838.5 383.2 L835.4 383.2 L832.7 384.0 L830.3 382.5 L828.2 380.0 M828.2 380.0 L826.4 377.3 L824.1 376.3 L822.0 372.9 L821.4 370.0 L818.2 368.0 L817.2 365.8 L813.3 366.2 L810.0 365.7 L808.9 364.5 L805.3 364.7 L802.7 364.9 M802.7 364.9 L800.7 361.1 L801.4 358.3 M801.4 358.3 L796.9 360.1 L794.4 357.4 L792.4 357.3 L791.2 354.9 L786.7 354.3 L784.2 352.2 L781.7 353.2 L782.9 354.7 L782.0 359.9 L780.2 359.7 L775.4 358.0 L773.2 358.5 L771.8 356.5 L769.1 355.8 L766.8 357.0 L764.0 359.6 L761.6 363.4 L757.8 362.8 L755.7 360.8 L754.5 359.3 L751.0 357.2 L748.8 354.9 L745.8 355.3 L742.0 352.2 L739.8 350.7 L740.6 346.8 L739.4 344.8 L735.9 346.1 L733.7 349.6 L731.2 350.9 L727.0 350.9 L725.4 348.4 L723.5 346.4 M719.8 491.2 L716.7 489.7 L714.1 490.9 L711.1 489.0 L707.6 488.7 L704.1 488.1 L700.3 487.4 L697.2 486.8 L694.8 483.9 L694.0 480.2 L693.1 477.7 L694.3 473.3 L697.1 472.4 L697.1 468.8 L699.3 465.6 L701.2 462.3 L701.0 458.7 L702.6 455.5 L701.1 453.2 L697.8 451.0 L698.1 446.1 L694.9 445.8 L693.5 443.9 L692.6 440.0 L690.1 436.0 L688.0 433.7 L688.8 430.2 L686.8 427.2 L683.4 427.3 L681.9 423.6 L679.9 421.8 L677.2 419.0 L675.9 415.6 L676.0 412.6 L676.1 409.5 L676.0 406.5 L677.0 404.3 M677.0 404.3 L677.9 400.7 L679.6 398.2 L679.5 393.8 L681.9 390.2 L681.9 386.8 L685.4 386.3 L687.7 383.5 L688.6 380.3 L690.8 377.8 M467.5 545.0 L467.4 547.8 L467.6 549.8 L464.8 553.7 L465.8 557.5 L462.5 561.1 L464.0 564.0 L463.3 566.8 L462.5 570.6 L459.0 571.7 L456.3 574.2 L457.4 577.0 M432.2 512.7 L430.6 516.7 L430.1 518.4 L428.4 520.6 L425.8 523.0 L425.3 526.7 L424.5 531.1 L424.3 533.9 L423.7 538.3 L425.0 542.0 L423.4 544.6 L421.5 546.4 L420.7 549.3 L425.1 547.4 L429.2 547.4 L431.5 548.2 L434.0 549.8 L438.0 550.9 L440.7 554.5 L443.5 550.7 L445.8 548.3 L449.5 547.0 L453.5 547.1 L457.5 546.8 L462.1 547.7 L464.3 547.4 L467.5 545.0 M418.1 482.4 L419.8 484.5 L422.5 488.0 L424.4 490.2 L424.3 494.9 L428.5 498.6 L427.7 501.9 L430.0 503.7 L429.2 506.7 L432.7 509.5 L432.2 512.7" fill="none" stroke="#0c0c30" stroke-width="1" stroke-linejoin="round"/>
<path d="M113.6 385.9 L114.2 382.4 L118.2 380.3 L118.3 376.1 L120.6 373.0 L121.4 369.4 L122.6 367.5 L124.3 364.5 L124.7 362.4 L128.6 361.2 L130.2 360.5 L131.5 356.4 L134.4 354.4 L137.7 352.3 L136.9 347.8 L139.8 347.0 L143.8 344.4 L144.8 342.3 L147.6 340.2 L152.1 339.7 L154.4 338.1 L157.6 338.4 L159.3 340.7 L164.1 339.0 L168.1 340.1 L169.9 341.1 L172.3 344.1 L172.9 348.8 L176.6 349.9 L178.6 353.0 L182.8 354.8 L185.3 356.9 L187.7 356.4 M103.3 420.2 L103.0 417.9 L101.3 414.3 L100.7 412.3 L102.6 408.1 L103.4 405.7 L104.6 403.6 L105.8 401.5 L105.4 397.2 L108.5 396.1 L109.4 392.9 L110.0 389.9 L109.7 387.9 L113.6 385.9 M187.7 356.4 L190.5 353.9 L194.4 351.6 L194.8 350.5 L198.7 349.6 L200.3 351.4 L202.5 353.6 L205.1 354.9 L207.7 357.2 L212.3 357.7 L215.0 358.1 L218.8 357.0 L221.1 356.5 L223.4 355.9 L226.7 353.2 L228.2 355.2 M228.2 355.2 L230.8 354.0 L231.1 350.2 L233.5 348.3 L237.5 348.2 L241.1 345.4 L245.4 345.5 L247.9 342.8 L251.7 342.9 L254.3 339.5 L256.1 338.5 L257.7 337.6 L261.6 336.0 L265.1 335.0 L268.5 333.8 M103.3 420.2 L101.6 422.5 L100.1 425.4 L99.1 427.9 L94.6 428.4 L92.5 431.5 L91.2 434.3 L88.6 436.7 L86.4 437.5 L84.0 440.7 L83.0 444.6 L82.8 448.1 L82.9 451.3 L79.5 453.7 L79.9 458.7 L76.4 460.9 L77.6 464.4 L79.8 467.9 L80.3 471.5 L81.6 473.8 L85.2 475.5 L86.9 477.9 L88.3 481.5 L89.2 484.3 L88.5 486.8 L90.5 490.1 L94.0 492.6 M94.0 492.6 L95.1 495.2 L94.9 498.9 L95.6 502.9 L98.2 504.9 L98.8 508.3 L98.3 513.3 L99.2 516.5 L101.0 520.3 L102.2 521.2 L105.4 523.2 L107.3 524.9 L109.9 526.7 L112.9 528.5 L111.9 532.4 L112.9 535.6 L113.1 540.0 L114.7 542.4 L112.4 546.9 L112.0 550.1 L112.4 554.3 L111.4 558.5 L113.2 560.1 L116.1 562.2 L119.6 564.6 L122.3 566.0 L126.1 564.0 L130.0 564.9 L131.4 562.9 L135.8 563.2 L138.5 563.9 L140.8 563.5 L141.8 566.9 M141.8 566.9 L145.0 568.9 L147.7 569.8 L150.6 571.1 L153.1 572.3 L156.0 572.5 L156.3 576.3 L159.1 577.2 L160.9 579.7 L162.1 582.0 L164.2 583.0 L165.9 584.9 L166.6 588.4 L169.9 589.8 L170.0 592.6 L170.0 596.1 L170.8 598.6 L175.0 600.0 L176.8 602.2 L178.0 604.8 L180.2 606.8 L182.8 608.1 L184.7 610.7 L186.3 613.2 L186.8 616.8 L188.8 618.0 L191.0 621.5 L193.7 623.5 L196.9 623.6 L200.7 624.2 L201.9 627.9 L203.0 629.9 L205.6 632.3 L209.7 633.4 L210.2 637.0 L212.8 636.8 L216.1 638.6 L217.4 641.2 M217.4 641.2 L220.5 642.4 L224.2 640.5 L226.3 644.6 L230.1 644.3 L233.1 645.4 L236.2 646.1 L239.4 646.7 L243.5 647.0 L246.0 648.6 L249.5 647.8 L253.1 648.9 L256.2 646.7 L259.9 649.1 L263.1 648.6 L267.4 650.3 L270.1 648.3 L273.6 647.9 L277.2 646.7 L280.3 648.5 L284.0 648.0 L286.9 650.5 L289.4 651.6 L294.2 650.8 L297.3 651.5 L300.6 651.6 L303.3 654.8 L306.8 654.3 L310.6 653.4 L314.0 655.3 L316.6 658.1 L320.3 659.3 L322.6 658.1 L325.5 657.4 L328.2 657.3 L332.3 657.0 L334.5 655.1 L337.7 654.4 L341.8 653.9 L344.4 652.7 L347.0 655.4 L350.2 652.8 L352.8 653.6 L357.2 654.0 L360.4 653.8 M410.8 607.2 L410.2 609.8 L411.2 612.7 L409.5 616.0 L408.0 619.7 L408.4 623.4 L411.4 626.2 L414.0 627.7 L415.3 630.0 L416.8 633.0 L417.6 635.8 L421.3 637.8 L422.4 640.9 L417.7 640.8 L414.6 642.2 L412.1 644.4 L408.3 641.9 L405.8 641.7 L402.5 645.2 L399.6 646.4 L399.2 649.5 L396.4 652.2 L391.8 652.0 L387.6 652.8 L384.3 654.5 L380.3 655.2 L378.0 655.1 L374.6 655.3 L372.2 653.4 L368.7 654.8 L365.8 653.7 L363.2 653.8 L360.4 653.8 M268.5 333.8 L272.2 334.3 L276.1 332.5 L277.9 330.5 L277.4 327.4 L279.0 325.5 L280.8 323.1 L282.4 319.4 L282.3 315.7 L283.6 312.1 L288.3 312.5 L291.2 309.6 L294.9 310.8 L297.4 311.0 L300.4 310.7 L303.9 309.5 L307.4 309.3 L310.1 309.3 L313.0 306.6 L316.0 306.1 M316.0 306.1 L317.7 303.6 L318.0 301.1 L320.5 299.3 L322.1 296.4 L320.9 292.4 L320.4 289.0 L322.5 286.0 L323.0 282.1 M323.0 282.1 L324.7 278.6 L325.6 274.1 L326.1 270.9 L328.3 269.2 L328.2 265.1 L330.1 261.6 L330.9 258.1 L333.4 256.5 L334.2 253.6 L336.0 250.0 L337.3 245.9 L341.3 243.3 L343.9 241.8 L347.7 241.8 M347.7 241.8 L351.9 241.3 L355.0 242.3 L358.5 238.7 L361.5 239.7 L364.2 239.8 L367.8 236.6 L370.4 237.6 M370.4 237.6 L371.9 233.1 L374.7 232.8 L375.2 229.2 L377.4 227.4 L375.9 224.6 L377.1 220.3 L379.8 217.4 L384.0 216.9 L385.9 214.9 L388.6 214.2 L390.8 211.0 L394.0 209.0 L395.2 205.8 L398.0 203.6 L401.5 202.3 L403.8 199.6 L403.1 198.0 L401.2 195.1 L405.4 193.8 L407.0 192.2 L409.4 190.3 L412.5 192.0 L416.7 194.8 L420.4 193.3 L422.8 191.3 L427.6 194.3 L431.4 194.9 L434.3 195.6 L438.0 195.4 L441.3 196.4 L445.3 192.9 L448.7 192.4 L452.4 193.2 L455.6 193.0 L459.3 190.4 L463.0 193.0 L466.5 194.7 L470.3 193.9 L473.9 192.4 L476.2 195.3 L475.4 198.5 L475.8 201.2 L476.7 204.7 L475.7 207.9 L475.4 210.0 L476.4 213.9 L475.7 217.8 L476.6 220.7 L475.7 223.0 L480.3 225.8 L483.7 226.7 L486.8 225.0 L489.4 222.8 L492.0 222.4 L495.5 224.1 L497.9 225.9 L501.3 227.5 M501.3 227.5 L504.0 226.5 L507.7 225.9 L509.2 225.7 L511.1 222.0 L513.5 223.1 L515.4 220.8 L514.6 216.5 L517.7 214.9 L519.3 212.5 L520.4 210.4 L521.5 208.1 L522.7 205.2 L523.5 201.5 L524.8 200.3 L528.3 197.9 L528.3 195.0 L531.9 194.9 L534.8 195.6 L537.6 193.8 L541.0 192.2 L543.5 192.2 L547.4 192.6 L547.0 188.9 L549.1 184.7 L553.4 183.0 L555.3 180.9 L558.1 180.4 L560.0 179.2 L562.5 175.0 L565.4 176.2 L566.3 179.4 L567.1 181.1 L569.2 183.5 L570.2 186.0 L572.3 187.0 L573.2 191.6 L575.3 195.5 L575.2 199.7 L578.5 203.2 L578.1 206.4 L578.3 208.7 L579.9 211.1 L580.1 214.8 L582.4 216.3 L584.5 218.3 L585.2 223.0 M585.2 223.0 L588.7 221.0 L590.4 219.5 L592.5 221.9 L592.3 224.7 L590.0 228.8 L595.0 230.8 L598.2 232.6 L602.4 234.2 L604.6 237.9 L607.4 235.2 L612.2 233.2 L614.2 231.8 L617.3 233.7 L618.0 235.4 L617.7 237.7 L618.5 240.4 L617.5 244.1 L617.1 247.5 L618.4 250.5 L616.7 254.0 L617.9 257.7 L615.7 260.9 L619.9 264.7 L619.9 268.0 L618.3 271.1 L616.1 273.4 L615.1 277.2 L613.3 279.6 L609.8 282.0 L609.6 284.7 M609.6 284.7 L613.7 285.3 L615.6 289.7 L620.2 289.4 L623.6 292.0 L628.0 290.4 M628.0 290.4 L629.3 287.4 L630.3 284.8 L632.6 282.1 L635.7 281.2 L639.7 283.4 L643.0 282.8 L646.7 282.1 L648.7 283.9 L651.5 284.7 L655.0 286.8 L657.4 290.0 L658.9 291.7 L662.5 294.2 L664.0 296.5 L665.8 295.0 L666.9 291.0 L668.0 288.6 L666.7 284.3 L667.5 281.6 L670.0 280.2 L671.2 276.7 L672.3 274.4 L673.9 270.9 L674.6 268.0 L676.8 264.5 L678.2 262.3 L681.3 262.8 L683.9 259.5 M683.9 259.5 L685.6 257.4 L688.1 255.4 L692.7 255.3 L695.6 253.7 L699.0 253.0 L703.0 253.7 L705.8 252.0 L708.2 249.5 L708.9 245.7 L710.5 243.1 L710.7 240.1 L713.8 240.7 L715.9 242.7 L719.4 240.1 L721.3 241.5 L725.0 242.4 L728.0 240.6 M728.0 240.6 L732.2 239.5 L734.6 239.7 L736.9 239.4 L738.2 244.2 L742.1 242.8 L743.9 244.6 L747.0 243.4 L750.0 247.3 L753.0 246.9 L754.2 246.5 L755.7 243.8 L759.0 242.1 L761.7 238.9 L764.6 241.5 L767.4 241.7 L772.0 242.5 L774.9 239.8 L778.9 240.8 L781.9 244.1 L782.1 246.9 L786.5 247.7 L786.7 251.4 L789.8 254.6 L790.2 257.8 L793.4 259.5 L797.0 261.3 L800.3 262.8 L803.0 261.1 L804.0 266.8 L807.2 268.8 L809.5 270.7 L813.1 270.2 L815.5 270.1 L818.9 271.4 L822.5 272.6 L825.0 272.5 M825.0 272.5 L825.1 267.9 L826.6 265.7 L828.8 262.3 L829.3 260.5 L833.7 259.8 L835.4 256.7 L838.3 255.6 L841.9 254.4 L842.0 250.5 L839.1 249.7 L837.0 245.8 L837.5 243.3 L837.9 242.5 L839.9 241.2 L844.0 239.9 L847.3 239.2 L851.2 241.7 L853.4 243.8 L854.6 245.7 L858.2 247.3 L861.4 244.1 L864.9 242.6 L867.7 240.7 L870.4 241.2 L870.7 236.8 L873.1 236.7 L875.2 233.8 L878.4 237.0 L883.1 237.4 L885.4 237.6 L887.9 236.8 L890.7 240.5 L894.2 242.1 L897.0 243.1 L899.5 245.0 L901.2 246.7 L903.1 249.1 M903.1 249.1 L905.8 248.9 L909.0 246.2 L911.8 245.1 L914.3 245.9 L916.3 248.1 L920.5 244.7 L923.5 243.0 L927.0 244.2 L929.9 243.0 L933.4 241.7 L936.9 239.9 L938.5 241.5 L941.0 243.4 L943.7 245.7 L945.1 249.3 L949.0 249.7 L951.7 251.9 L954.1 253.9 L957.3 256.1 L958.9 259.7 L959.7 262.9 M959.7 262.9 L961.6 264.4 L963.9 265.7 M963.9 265.7 L964.2 262.6 L964.7 258.6 L969.0 255.2 L972.0 258.2 L974.7 258.4 L976.0 261.9 L975.7 265.1 L979.8 264.9 L981.4 267.9 L985.7 266.1 L989.1 267.6 L993.9 267.3 L995.6 270.8 L996.0 274.8 L997.2 278.8 L998.4 282.1 L1000.1 282.9 L1003.6 284.5 L1005.6 286.1 L1005.1 288.8 L1005.8 293.1 L1006.5 295.7 L1008.0 299.8 L1009.0 303.9 L1012.0 304.2 L1014.6 306.0 L1016.5 307.3 L1020.6 307.2 L1023.5 309.0 M1023.5 309.0 L1025.9 311.9 L1029.3 313.9 L1031.6 316.0 L1034.4 317.0 L1037.9 315.3 L1038.8 319.2 L1041.4 321.5 L1044.2 323.8 L1048.1 323.8 L1051.8 325.5 L1056.0 328.4 L1059.6 325.7 L1061.9 324.8 L1065.5 328.1 L1066.4 331.9 L1068.4 332.9 L1071.8 335.2 L1075.7 335.3 L1079.7 337.4 L1081.9 339.5 L1085.0 341.0 L1088.1 341.5 L1090.9 340.1 L1093.7 341.7 L1095.7 342.2 L1095.3 345.7 L1093.9 349.1 L1093.7 352.5 L1092.9 355.0 L1094.3 358.6 L1091.8 360.3 L1088.8 360.5 L1087.5 364.4 L1086.2 366.0 L1084.0 368.2 L1081.7 370.7 L1078.9 374.3 L1077.5 377.3 L1075.0 378.9 L1073.0 381.7 L1073.0 384.9 L1070.9 388.4 L1070.8 390.7 L1067.1 393.3 L1066.6 396.0 L1063.6 397.3 M1063.6 397.3 L1061.7 400.4 L1063.0 403.3 L1061.7 405.6 L1062.9 408.7 L1062.9 413.0 L1061.1 414.6 L1061.2 418.3 L1059.3 420.3 L1057.9 423.9 L1057.6 428.7 L1058.0 431.7 L1056.6 435.7 L1057.8 438.0 L1055.9 440.2 L1055.4 443.9 L1052.4 444.7 L1049.9 447.1 L1050.4 449.0 L1047.1 451.9 L1045.5 453.4 L1042.2 455.5 L1040.7 457.6 L1038.7 459.9 L1036.9 462.6 L1034.8 464.3 L1033.6 466.1 L1029.6 466.6 L1028.6 468.6 L1024.8 470.8 L1024.1 473.0 L1021.6 475.2 M1021.6 475.2 L1018.6 477.9 L1020.1 482.5 L1018.1 485.9 L1018.1 488.9 L1018.7 492.8 L1019.9 495.9 L1017.8 499.5 L1015.7 502.7 L1016.6 505.9 M1016.6 505.9 L1016.0 510.5 L1015.0 512.9 L1017.2 516.9 L1017.5 520.9 L1014.2 524.5 L1012.4 525.6 L1010.0 527.4 L1006.9 527.6 L1003.5 527.5 L1002.1 526.9 L998.9 523.9 L994.5 524.0 L992.1 523.6 L989.4 523.5 L986.7 524.9 L982.6 526.5 L978.0 528.4 L975.2 529.7 L971.2 529.4 L967.6 529.6 L965.3 532.3 L963.1 535.3 L959.2 537.0 L957.5 536.4 L954.7 533.4 L949.1 535.6 L945.9 533.1 L944.0 529.5 L941.7 528.5 L938.8 528.5 L935.6 526.3 L935.5 523.6 L935.0 521.3 L932.4 519.4 L931.0 517.6 L929.3 513.8 L928.6 511.5 L926.7 508.6 L927.3 506.1 L927.6 502.7 L925.5 500.1 L924.4 498.0 L924.3 494.1 L924.0 490.9 L921.3 489.7 L919.5 487.8 L915.3 487.2 L913.4 485.5 L911.3 484.9 L909.6 480.5 L907.3 477.2 L908.6 473.7 L908.8 470.6 L908.3 468.1 M780.0 464.1 L783.5 462.9 L786.6 460.6 L789.2 464.3 L792.4 465.8 L794.5 468.1 L797.0 470.9 L798.7 470.0 L802.7 473.1 L804.5 473.6 L807.4 475.5 L810.4 476.2 L812.3 478.4 L815.6 478.6 L817.4 478.5 L821.2 480.5 L825.1 482.3 L827.0 484.7 L829.3 486.5 L832.7 489.3 L835.0 489.1 L836.8 490.4 L839.7 487.8 L843.0 484.8 L844.5 481.6 L849.9 483.0 L853.1 480.8 L856.5 478.6 L860.4 478.1 L862.8 482.0 L864.9 482.6 L868.7 482.7 L869.0 480.1 L871.7 476.5 L874.7 476.7 L878.1 473.0 L882.2 474.0 L885.5 472.5 L889.0 472.6 L890.6 469.1 L892.7 468.3 L896.7 470.4 L900.1 471.0 L902.2 473.4 L905.5 473.8 L904.5 473.3 L906.5 470.6 L908.3 468.1 M780.0 464.1 L777.6 466.8 L774.1 465.1 L771.6 464.1 L768.2 465.6 L764.3 467.2 L761.3 467.1 L757.6 467.6 L754.4 466.6 L751.5 471.5 L747.6 470.5 L745.0 471.9 L741.0 472.0 L738.3 472.6 L735.6 474.2 L732.9 473.5 L728.7 475.6 L726.9 480.3 L726.7 483.3 L724.1 485.4 L720.3 487.5 L719.8 491.2 M614.6 563.5 L615.5 567.2 L616.0 570.6 L616.4 573.5 L618.1 571.2 L621.7 569.9 L624.5 571.1 L625.4 565.9 L628.2 565.7 L631.5 565.6 L634.3 562.8 L637.2 562.4 L638.0 559.0 L642.0 559.1 L644.5 557.6 L646.2 554.6 L648.7 552.7 L650.7 551.2 L653.1 547.3 L656.6 546.2 L660.2 543.4 L662.9 543.7 L666.1 542.0 L669.9 541.1 L673.0 540.8 L675.7 537.1 L680.2 539.0 L681.8 539.9 L684.6 542.7 L687.1 539.6 L687.5 537.2 L691.6 537.1 L693.0 535.1 L697.3 533.6 L696.4 530.4 L700.9 528.9 L701.7 527.0 L701.8 523.8 L704.0 522.6 L705.8 520.8 L707.7 517.3 L708.6 514.2 L709.7 511.2 L709.9 507.3 L711.6 503.2 L712.6 501.6 L714.3 498.0 L716.9 496.0 L717.7 494.6 L719.8 491.2 M552.9 548.4 L557.0 547.1 L558.6 544.7 L562.0 543.5 L564.4 542.6 L567.3 541.0 L570.2 542.5 L574.1 543.1 L574.4 546.0 L577.0 548.3 L577.4 551.7 L581.7 551.5 L586.0 551.9 L588.8 554.5 L591.2 557.2 L594.6 558.5 L596.3 561.1 L595.4 563.3 L596.9 566.6 L599.3 564.1 L602.6 561.9 L606.8 560.8 L610.8 560.7 L614.6 563.5 M457.4 577.0 L460.1 578.1 L462.3 579.0 L465.3 579.5 L469.1 577.9 L472.6 580.9 L476.5 580.3 L480.2 583.2 L484.3 581.8 L487.7 583.2 L491.3 581.9 L493.0 584.7 L497.0 584.9 L499.4 585.4 L501.3 582.6 L503.3 580.4 L506.0 579.5 L510.2 580.2 L513.9 580.7 L517.7 579.3 L522.0 578.2 L525.5 577.9 L529.8 577.4 L532.3 579.4 L535.2 581.1 L536.5 578.5 L539.3 576.1 L540.7 573.6 L543.3 568.7 L545.8 567.2 L545.8 563.6 L547.4 560.2 L548.7 557.0 L549.0 553.0 L552.3 551.3 L552.9 548.4 M457.4 577.0 L454.6 578.8 L451.5 578.3 L448.1 578.8 L443.9 580.7 L440.0 580.0 L436.1 580.4 L432.7 581.3 L428.6 582.8 L426.3 583.1 L423.8 584.1 L422.9 585.6 L421.2 588.1 L420.6 592.6 L417.7 595.3 L416.0 596.8 L413.4 599.3 L409.8 602.0 L409.3 603.5 L410.8 607.2" fill="none" stroke="#08084a" stroke-width="1.1" stroke-linejoin="round"/>
<path d="M843.2 403.6 L846.6 402.7 L848.9 404.7 L850.0 408.7 L852.9 411.5 L857.4 414.4 L861.4 417.2 L863.6 415.5 L865.9 412.7 L867.6 411.0 L869.9 411.5 L870.4 415.5 L869.9 418.3 L872.7 422.3 L874.4 426.3 L875.5 430.8 L875.0 433.6 L876.1 437.6 L877.2 442.1 L878.9 450.6 L874.4 449.5 L869.9 448.9 L865.3 449.5 L860.8 448.9 L859.1 446.1 L856.3 451.2 L854.0 454.6 L855.1 458.0 L856.3 462.5 L857.4 467.1 L856.8 469.3 L851.7 468.2 L847.8 464.8 L847.2 460.3 L846.1 455.7 L842.1 453.5 L839.3 451.8 L838.7 447.2 L840.4 445.5 L844.4 444.4 L848.3 445.5 L850.0 442.1 L851.2 437.6 L851.7 433.1 L850.0 428.5 L847.2 425.1 L844.4 421.2 L840.4 418.3 L841.0 413.2 L842.7 408.1Z" fill="#e8e046" stroke="#161616" stroke-width="0.9" stroke-linejoin="round"/>
<path d="M861.9 431.4 L865.9 430.2 L869.9 430.8 L875.0 433.6 L876.1 437.6 L877.2 442.1 L878.9 450.6 L874.4 449.5 L869.9 448.9 L865.3 449.5 L860.8 448.9 L859.1 446.1 L855.1 442.7 L857.4 439.3 L860.2 436.5 L861.4 433.6Z" fill="#e6e088" stroke="#161616" stroke-width="0.9" stroke-linejoin="round"/>
<path d="M841.0 413.2 L845.5 415.5 L848.9 418.3 L852.9 422.3 L856.3 427.4 L859.1 430.2 L861.9 431.4 M869.9 418.3 L867.6 422.9 L865.3 426.3 L865.9 430.2 M126.0 502.4 L120.4 503.9 L115.4 506.4 L113.4 512.7 L114.1 519.0 L119.2 524.1 L126.0 525.3 L135.5 523.3 L141.1 520.3 M111.6 529.1 L119.2 530.4 L125.0 529.9 L126.0 525.3 M125.0 529.9 L126.0 540.4 L128.0 548.0 L133.0 554.3 L140.6 564.4" fill="none" stroke="#161616" stroke-width="0.9" stroke-linejoin="round"/>
<path d="M731.2 357.4 L730.6 353.7 L732.4 351.8 L735.6 350.6 L733.1 348.7 L736.8 348.1 M781.1 351.8 L783 354.3 L786.1 353.1 L789.8 355.6 L793 354.9 L791.1 357.4 L794.8 359.9 L798.6 359.9" fill="none" stroke="#06064e" stroke-width="1.3" stroke-linejoin="round" stroke-linecap="round"/>
<circle cx="914.4" cy="321.4" r="1.3" fill="#111"/><circle cx="922" cy="326.1" r="1.1" fill="#123"/>
<g font-family="Liberation Sans, sans-serif" font-style="italic" font-size="6.35" letter-spacing="0.98" fill="#262400" fill-opacity="0.85" stroke="#262400" stroke-opacity="0.6" stroke-width="0.28" text-anchor="middle">
<text x="151.9" y="363.8">Skalica</text>
<text x="155.7" y="410.9">Senica</text>
<text x="221.2" y="385.7">Myjava</text>
<text x="266.5" y="379.6">Nové Mesto</text>
<text x="266.0" y="389.7">nad Váhom</text>
<text x="310.9" y="352.6">Trenčín</text>
<text x="245.8" y="430.5">Piešťany</text>
<text x="298.7" y="436.8">Topoľčany</text>
<text x="119.2" y="462.7">Malacky</text>
<text x="204.8" y="465.3">Trnava</text>
<text x="165.3" y="486.4">Pezinok</text>
<text x="253.9" y="465.0">Hlohovec</text>
<text x="292.2" y="505.6">Nitra</text>
<text x="89.0" y="508.7">Bratislava IV</text>
<text x="128.0" y="520.8">Bratislava III</text>
<text x="172.0" y="521.8">Senec</text>
<text x="96.5" y="529.6">Bratislava I</text>
<text x="136.8" y="543.5">Bratislava II</text>
<text x="111.6" y="561.9">Bratislava V</text>
<text x="216.1" y="533.9">Galanta</text>
<text x="258.9" y="554.1">Šaľa</text>
<text x="325.0" y="571.5">Nové Zámky</text>
<text x="206.0" y="591.8">Dunajská Streda</text>
<text x="291.7" y="627.1">Komárno</text>
<text x="392.7" y="558.6">Levice</text>
<text x="463.7" y="520.1">Krupina</text>
<text x="512.8" y="554.8">Veľký Krtíš</text>
<text x="576.8" y="527.6">Lučenec</text>
<text x="429.3" y="215.7">Čadca</text>
<text x="443.4" y="243.4">Kysucké</text>
<text x="445.2" y="252.5">Nové Mesto</text>
<text x="397.3" y="261.8">Bytča</text>
<text x="347.0" y="279.9">Púchov</text>
<text x="386.0" y="287.0">Považská</text>
<text x="386.0" y="297.0">Bystrica</text>
<text x="435.8" y="286.5">Žilina</text>
<text x="339.9" y="329.0">Ilava</text>
<text x="460.3" y="326.7">Martin</text>
<text x="444.6" y="363.8">Turčianske</text>
<text x="442.0" y="373.3">Teplice</text>
<text x="401.8" y="386.4">Prievidza</text>
<text x="337.1" y="386.8">Bánovce</text>
<text x="342.9" y="396.9">nad Bebravou</text>
<text x="510.0" y="403.6">Banská Bystrica</text>
<text x="438.3" y="434.8">Žiar nad Hronom</text>
<text x="356.5" y="436.4">Partizánske</text>
<text x="400.0" y="465.3">Žarnovica</text>
<text x="489.2" y="465.3">Zvolen</text>
<text x="555.4" y="450.7">Detva</text>
<text x="450.9" y="480.9">Banská</text>
<text x="451.6" y="490.4">Štiavnica</text>
<text x="357.2" y="484.8">Zlaté Moravce</text>
<text x="594.9" y="478.4">Poltár</text>
<text x="610.7" y="395.8">Brezno</text>
<text x="550.9" y="224.5">Námestovo</text>
<text x="588.7" y="254.7">Tvrdošín</text>
<text x="535.8" y="279.9">Dolný Kubín</text>
<text x="519.7" y="326.0">Ružomberok</text>
<text x="602.1" y="328.5">Liptovský Mikuláš</text>
<text x="682.6" y="322.7">Poprad</text>
<text x="750.6" y="313.4">Kežmarok</text>
<text x="777.7" y="275.8">Stará Ľubovňa</text>
<text x="868.4" y="283.6">Bardejov</text>
<text x="926.3" y="269.5">Svidník</text>
<text x="950.7" y="298.0">Stropkov</text>
<text x="823.0" y="316.9">Sabinov</text>
<text x="991.8" y="316.9">Medzilaborce</text>
<text x="766.4" y="350.9">Levoča</text>
<text x="849.5" y="366.0">Prešov</text>
<text x="925.8" y="366.7">Vranov</text>
<text x="933.3" y="376.6">nad Topľou</text>
<text x="983.7" y="366.7">Humenné</text>
<text x="760.8" y="373.3">Spišská Nová Ves</text>
<text x="1056.0" y="366.9">Snina</text>
<text x="1036.7" y="424.8">Sobrance</text>
<text x="982.5" y="447.5">Michalovce</text>
<text x="784.5" y="411.9">Gelnica</text>
<text x="821.8" y="434.8">Košice - okolie</text>
<text x="728.6" y="445.6">Rožňava</text>
<text x="671.9" y="446.9">Revúca</text>
<text x="656.1" y="509.2">Rimavská Sobota</text>
<text x="937.2" y="473.5">Trebišov</text>
<text x="889.4" y="425.6">Košice III</text>
<text x="881.1" y="443.5">Košice IV</text>
<text x="853.5" y="413.5">Košice I</text>
<text x="840.3" y="457.8">Košice II</text>
</g>
</svg>
<svg width="1122" height="794" style="position:absolute;left:0;top:0"><rect x="738.7" y="533.70" width="33.2" height="16.1" fill="#fffbf0" stroke="#0a0a0a" stroke-width="1.35"/><rect x="738.7" y="553.33" width="33.2" height="16.1" fill="#e6e088" stroke="#0a0a0a" stroke-width="1.35"/><rect x="738.7" y="572.96" width="33.2" height="16.1" fill="#e8e046" stroke="#0a0a0a" stroke-width="1.35"/><rect x="738.7" y="592.59" width="33.2" height="16.1" fill="#e8a30a" stroke="#0a0a0a" stroke-width="1.35"/><rect x="738.7" y="612.22" width="33.2" height="16.1" fill="#a3e387" stroke="#0a0a0a" stroke-width="1.35"/><rect x="738.7" y="631.85" width="33.2" height="16.1" fill="#0cbc18" stroke="#0a0a0a" stroke-width="1.35"/><rect x="738.7" y="651.48" width="33.2" height="16.1" fill="#e36242" stroke="#0a0a0a" stroke-width="1.35"/><rect x="738.7" y="671.11" width="33.2" height="16.1" fill="#800000" stroke="#0a0a0a" stroke-width="1.35"/><rect x="741" y="696.5" width="31" height="15.2" fill="#fff" stroke="#08084a" stroke-width="1"/></svg>
<div id="title" class="t">Miera evidovanej nezamestnanosti v regiónoch SR k  28. 2. 2007</div>
<div class="t" id="lh" style="left:737px;top:512px;font-size:16.5px;letter-spacing:0.15px;-webkit-text-stroke:0.25px #000">Miera v %</div>
<div class="t lg" style="left:781px;top:533px">do 4</div>
<div class="t lg" style="left:781px;top:553px">4 - 7</div>
<div class="t lg" style="left:781px;top:572px">7 - 9</div>
<div class="t lg" style="left:781px;top:592px">9 - 12</div>
<div class="t lg" style="left:781px;top:611px">12 - 15</div>
<div class="t lg" style="left:781px;top:631px">15  - 20</div>
<div class="t lg" style="left:781px;top:651px">20 - 25</div>
<div class="t lg" style="left:785px;top:670px;letter-spacing:0.6px">nad 25</div>
<div class="t lg" style="left:784px;top:696px;font-size:16px;letter-spacing:0.6px">Hranice krajov</div>
<div class="t f" id="f1" style="left:72px;top:729.2px">Ústredie práce, sociálnych vecí a rodiny</div>
<div class="t f" id="f2" style="left:465px;top:738.4px">Miera evidovanej nezamestnanosti prepočítaná  na základe výberových zisťovaní ŠÚ SR a priemerného počtu uchádzačov o zamestnanie v roku 2006.</div>
<div class="t f" id="f3" style="left:465px;top:747.6px">Algoritmus výpočtu stanovilo MPSVR SR</div>
</body></html>
